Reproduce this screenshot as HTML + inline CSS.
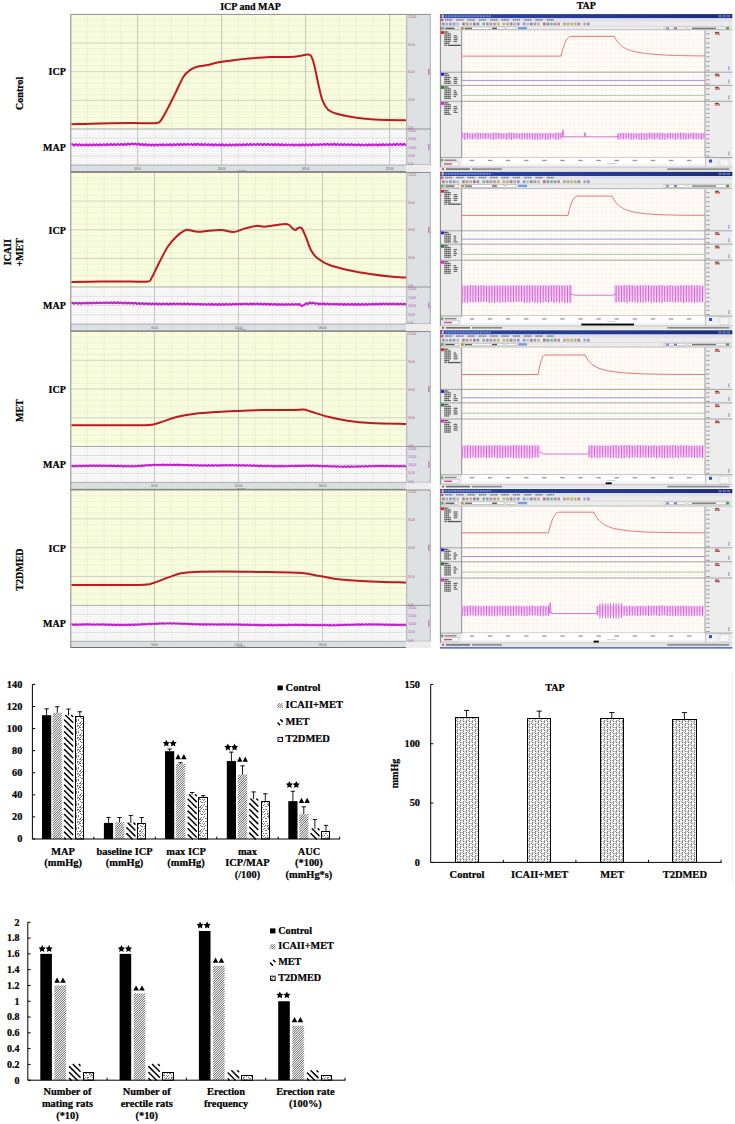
<!DOCTYPE html>
<html><head><meta charset="utf-8"><title>Figure</title>
<style>html,body{margin:0;padding:0;background:#fff;}body{width:735px;height:1124px;overflow:hidden;font-family:"Liberation Serif",serif;}svg{display:block;}</style>
</head><body>
<svg width="735" height="1124" viewBox="0 0 735 1124"><defs><linearGradient id="tgrad" x1="0" y1="0" x2="1" y2="0"><stop offset="0" stop-color="#2b47a6"/><stop offset="0.6" stop-color="#24398f"/><stop offset="1" stop-color="#1c2c78"/></linearGradient><pattern id="dots" width="12" height="12" patternUnits="userSpaceOnUse"><path d="M0 0h1v1h-1zM1 2h1v1h-1zM1 5h1v1h-1zM0 7h1v1h-1zM1 9h1v1h-1zM0 10h1v1h-1zM3 0h1v1h-1zM2 2h1v1h-1zM2 5h1v1h-1zM3 7h1v1h-1zM3 9h1v1h-1zM3 10h1v1h-1zM4 0h1v1h-1zM4 1h1v1h-1zM5 3h1v1h-1zM5 5h1v1h-1zM5 6h1v1h-1zM4 9h1v1h-1zM4 11h1v1h-1zM6 0h1v1h-1zM7 3h1v1h-1zM7 3h1v1h-1zM6 5h1v1h-1zM7 6h1v1h-1zM7 7h1v1h-1zM6 8h1v1h-1zM6 11h1v1h-1zM9 1h1v1h-1zM8 3h1v1h-1zM8 2h1v1h-1zM8 5h1v1h-1zM9 4h1v1h-1zM8 7h1v1h-1zM8 9h1v1h-1zM9 10h1v1h-1zM11 1h1v1h-1zM10 3h1v1h-1zM11 5h1v1h-1zM10 7h1v1h-1zM11 8h1v1h-1zM10 10h1v1h-1z" fill="#7a7a7a"/></pattern><pattern id="squig" width="6" height="6" patternUnits="userSpaceOnUse"><path d="M0.6 0.4 L2.4 2.2 M3.6 3.4 L5.4 5.2 M4.8 0.3 Q3.6 1.4 4.6 2.6 M1.8 3.3 Q0.6 4.4 1.6 5.6" fill="none" stroke="#333" stroke-width="0.95"/></pattern></defs><text x="250.5" y="9.6" font-size="10" text-anchor="middle" fill="#000" font-weight="bold" font-family="Liberation Serif" stroke="#000" stroke-width="0.22">ICP and MAP</text>
<text x="586.3" y="9.4" font-size="10" text-anchor="middle" fill="#000" font-weight="bold" font-family="Liberation Serif" stroke="#000" stroke-width="0.22">TAP</text>
<rect x="70.5" y="14.4" width="335.8" height="114.6" fill="#f7fcdd"/>
<rect x="70.5" y="129" width="335.8" height="36" fill="#fbfbfb"/>
<line x1="70.5" y1="20.13" x2="406.3" y2="20.13" stroke="#ebebd2" stroke-width="0.6"/>
<line x1="70.5" y1="25.86" x2="406.3" y2="25.86" stroke="#ebebd2" stroke-width="0.6"/>
<line x1="70.5" y1="31.59" x2="406.3" y2="31.59" stroke="#ebebd2" stroke-width="0.6"/>
<line x1="70.5" y1="37.32" x2="406.3" y2="37.32" stroke="#ebebd2" stroke-width="0.6"/>
<line x1="70.5" y1="48.78" x2="406.3" y2="48.78" stroke="#ebebd2" stroke-width="0.6"/>
<line x1="70.5" y1="54.51" x2="406.3" y2="54.51" stroke="#ebebd2" stroke-width="0.6"/>
<line x1="70.5" y1="60.24" x2="406.3" y2="60.24" stroke="#ebebd2" stroke-width="0.6"/>
<line x1="70.5" y1="65.97" x2="406.3" y2="65.97" stroke="#ebebd2" stroke-width="0.6"/>
<line x1="70.5" y1="77.43" x2="406.3" y2="77.43" stroke="#ebebd2" stroke-width="0.6"/>
<line x1="70.5" y1="83.16" x2="406.3" y2="83.16" stroke="#ebebd2" stroke-width="0.6"/>
<line x1="70.5" y1="88.89" x2="406.3" y2="88.89" stroke="#ebebd2" stroke-width="0.6"/>
<line x1="70.5" y1="94.62" x2="406.3" y2="94.62" stroke="#ebebd2" stroke-width="0.6"/>
<line x1="70.5" y1="106.08" x2="406.3" y2="106.08" stroke="#ebebd2" stroke-width="0.6"/>
<line x1="70.5" y1="111.81" x2="406.3" y2="111.81" stroke="#ebebd2" stroke-width="0.6"/>
<line x1="70.5" y1="117.54" x2="406.3" y2="117.54" stroke="#ebebd2" stroke-width="0.6"/>
<line x1="70.5" y1="123.27" x2="406.3" y2="123.27" stroke="#ebebd2" stroke-width="0.6"/>
<line x1="87.3" y1="14.4" x2="87.3" y2="165" stroke="#e6e6d4" stroke-width="0.6"/>
<line x1="104.1" y1="14.4" x2="104.1" y2="165" stroke="#e6e6d4" stroke-width="0.6"/>
<line x1="120.9" y1="14.4" x2="120.9" y2="165" stroke="#e6e6d4" stroke-width="0.6"/>
<line x1="137.7" y1="14.4" x2="137.7" y2="165" stroke="#e6e6d4" stroke-width="0.6"/>
<line x1="154.5" y1="14.4" x2="154.5" y2="165" stroke="#e6e6d4" stroke-width="0.6"/>
<line x1="171.3" y1="14.4" x2="171.3" y2="165" stroke="#e6e6d4" stroke-width="0.6"/>
<line x1="188.1" y1="14.4" x2="188.1" y2="165" stroke="#e6e6d4" stroke-width="0.6"/>
<line x1="204.9" y1="14.4" x2="204.9" y2="165" stroke="#e6e6d4" stroke-width="0.6"/>
<line x1="221.7" y1="14.4" x2="221.7" y2="165" stroke="#e6e6d4" stroke-width="0.6"/>
<line x1="238.5" y1="14.4" x2="238.5" y2="165" stroke="#e6e6d4" stroke-width="0.6"/>
<line x1="255.3" y1="14.4" x2="255.3" y2="165" stroke="#e6e6d4" stroke-width="0.6"/>
<line x1="272.1" y1="14.4" x2="272.1" y2="165" stroke="#e6e6d4" stroke-width="0.6"/>
<line x1="288.9" y1="14.4" x2="288.9" y2="165" stroke="#e6e6d4" stroke-width="0.6"/>
<line x1="305.7" y1="14.4" x2="305.7" y2="165" stroke="#e6e6d4" stroke-width="0.6"/>
<line x1="322.5" y1="14.4" x2="322.5" y2="165" stroke="#e6e6d4" stroke-width="0.6"/>
<line x1="339.3" y1="14.4" x2="339.3" y2="165" stroke="#e6e6d4" stroke-width="0.6"/>
<line x1="356.1" y1="14.4" x2="356.1" y2="165" stroke="#e6e6d4" stroke-width="0.6"/>
<line x1="372.9" y1="14.4" x2="372.9" y2="165" stroke="#e6e6d4" stroke-width="0.6"/>
<line x1="389.7" y1="14.4" x2="389.7" y2="165" stroke="#e6e6d4" stroke-width="0.6"/>
<line x1="70.5" y1="131.25" x2="406.3" y2="131.25" stroke="#e6e6e6" stroke-width="0.5"/>
<line x1="70.5" y1="133.5" x2="406.3" y2="133.5" stroke="#e6e6e6" stroke-width="0.5"/>
<line x1="70.5" y1="135.75" x2="406.3" y2="135.75" stroke="#e6e6e6" stroke-width="0.5"/>
<line x1="70.5" y1="138" x2="406.3" y2="138" stroke="#cfcfcf" stroke-width="0.7"/>
<line x1="70.5" y1="140.25" x2="406.3" y2="140.25" stroke="#e6e6e6" stroke-width="0.5"/>
<line x1="70.5" y1="142.5" x2="406.3" y2="142.5" stroke="#e6e6e6" stroke-width="0.5"/>
<line x1="70.5" y1="144.75" x2="406.3" y2="144.75" stroke="#e6e6e6" stroke-width="0.5"/>
<line x1="70.5" y1="147" x2="406.3" y2="147" stroke="#cfcfcf" stroke-width="0.7"/>
<line x1="70.5" y1="149.25" x2="406.3" y2="149.25" stroke="#e6e6e6" stroke-width="0.5"/>
<line x1="70.5" y1="151.5" x2="406.3" y2="151.5" stroke="#e6e6e6" stroke-width="0.5"/>
<line x1="70.5" y1="153.75" x2="406.3" y2="153.75" stroke="#e6e6e6" stroke-width="0.5"/>
<line x1="70.5" y1="156" x2="406.3" y2="156" stroke="#cfcfcf" stroke-width="0.7"/>
<line x1="70.5" y1="158.25" x2="406.3" y2="158.25" stroke="#e6e6e6" stroke-width="0.5"/>
<line x1="70.5" y1="160.5" x2="406.3" y2="160.5" stroke="#e6e6e6" stroke-width="0.5"/>
<line x1="70.5" y1="162.75" x2="406.3" y2="162.75" stroke="#e6e6e6" stroke-width="0.5"/>
<line x1="70.5" y1="43.05" x2="406.3" y2="43.05" stroke="#c8c8bc" stroke-width="0.8"/>
<line x1="70.5" y1="71.7" x2="406.3" y2="71.7" stroke="#c8c8bc" stroke-width="0.8"/>
<line x1="70.5" y1="100.35" x2="406.3" y2="100.35" stroke="#c8c8bc" stroke-width="0.8"/>
<line x1="137.6" y1="14.4" x2="137.6" y2="165" stroke="#bdbdb6" stroke-width="0.8"/>
<line x1="221.6" y1="14.4" x2="221.6" y2="165" stroke="#bdbdb6" stroke-width="0.8"/>
<line x1="305.6" y1="14.4" x2="305.6" y2="165" stroke="#bdbdb6" stroke-width="0.8"/>
<line x1="389.6" y1="14.4" x2="389.6" y2="165" stroke="#bdbdb6" stroke-width="0.8"/>
<line x1="70.5" y1="129" x2="430.7" y2="129" stroke="#a9a9a9" stroke-width="1"/>
<rect x="70.5" y="165" width="335.8" height="6.3" fill="#dadfe2"/>
<line x1="70.5" y1="171.7" x2="406.3" y2="171.7" stroke="#6f6f6f" stroke-width="1"/>
<line x1="70.5" y1="165" x2="406.3" y2="165" stroke="#9a9a9a" stroke-width="0.8"/>
<text x="137.6" y="169.6" font-size="2.6" text-anchor="middle" fill="#555" font-weight="normal" font-family="Liberation Sans">48.00</text>
<text x="221.6" y="169.6" font-size="2.6" text-anchor="middle" fill="#555" font-weight="normal" font-family="Liberation Sans">108.00</text>
<text x="305.6" y="169.6" font-size="2.6" text-anchor="middle" fill="#555" font-weight="normal" font-family="Liberation Sans">168.00</text>
<text x="389.6" y="169.6" font-size="2.6" text-anchor="middle" fill="#555" font-weight="normal" font-family="Liberation Sans">228.00</text>
<text x="241.4" y="171" font-size="2.2" text-anchor="middle" fill="#555" font-weight="normal" font-family="Liberation Sans">seconds</text>
<rect x="406.3" y="14.4" width="24.4" height="150.6" fill="#dde1e4"/>
<line x1="406.7" y1="14.4" x2="406.7" y2="165" stroke="#9e9e9e" stroke-width="0.8"/>
<line x1="430.3" y1="14.4" x2="430.3" y2="165" stroke="#9e9e9e" stroke-width="0.8"/>
<line x1="406.3" y1="129" x2="430.7" y2="129" stroke="#9e9e9e" stroke-width="1.2"/>
<line x1="406.3" y1="165" x2="430.7" y2="165" stroke="#9e9e9e" stroke-width="1"/>
<rect x="406.3" y="165" width="24.4" height="7.3" fill="#ededed"/>
<text x="408.3" y="17.6" font-size="2.6" text-anchor="start" fill="#b05050" font-weight="normal" font-family="Liberation Sans">120.00</text>
<text x="408.3" y="45.5" font-size="2.6" text-anchor="start" fill="#b05050" font-weight="normal" font-family="Liberation Sans">90.00</text>
<text x="408.3" y="73.4" font-size="2.6" text-anchor="start" fill="#b05050" font-weight="normal" font-family="Liberation Sans">60.00</text>
<text x="408.3" y="101.3" font-size="2.6" text-anchor="start" fill="#b05050" font-weight="normal" font-family="Liberation Sans">30.00</text>
<text x="408.3" y="129.2" font-size="2.6" text-anchor="start" fill="#b05050" font-weight="normal" font-family="Liberation Sans">0.00</text>
<text x="408.3" y="132.2" font-size="2.6" text-anchor="start" fill="#b040c0" font-weight="normal" font-family="Liberation Sans">200.00</text>
<text x="408.3" y="140.45" font-size="2.6" text-anchor="start" fill="#b040c0" font-weight="normal" font-family="Liberation Sans">150.00</text>
<text x="408.3" y="148.7" font-size="2.6" text-anchor="start" fill="#b040c0" font-weight="normal" font-family="Liberation Sans">100.00</text>
<text x="408.3" y="156.95" font-size="2.6" text-anchor="start" fill="#b040c0" font-weight="normal" font-family="Liberation Sans">50.00</text>
<text x="408.3" y="165.2" font-size="2.6" text-anchor="start" fill="#b040c0" font-weight="normal" font-family="Liberation Sans">0.00</text>
<rect x="428.2" y="68.7" width="1.2" height="6" fill="#c87070"/>
<rect x="428.2" y="144" width="1.2" height="6" fill="#c070d0"/>
<line x1="70.5" y1="14.4" x2="430.7" y2="14.4" stroke="#8f8f8f" stroke-width="1"/>
<line x1="70.8" y1="14.4" x2="70.8" y2="172.3" stroke="#8a8a8a" stroke-width="1"/>
<path d="M71.5 144.75 L72.2 144.1 L72.9 144.42 L73.6 144.96 L74.3 145.39 L75 144.83 L75.7 144.14 L76.4 144.45 L77.1 145.03 L77.8 145.43 L78.5 144.79 L79.2 144.21 L79.9 144.49 L80.6 145.33 L81.3 145.38 L82 144.87 L82.7 144.41 L83.4 144.69 L84.1 145.29 L84.8 145.49 L85.5 145.11 L86.2 144.25 L86.9 144.69 L87.6 145.23 L88.3 145.42 L89 144.85 L89.7 144.32 L90.4 144.68 L91.1 145.19 L91.8 145.53 L92.5 144.97 L93.2 144.31 L93.9 144.57 L94.6 145.12 L95.3 145.32 L96 144.78 L96.7 144.35 L97.4 144.49 L98.1 145.15 L98.8 145.42 L99.5 144.78 L100.2 144.16 L100.9 144.54 L101.6 145.2 L102.3 145.24 L103 144.73 L103.7 144.15 L104.4 144.49 L105.1 145.14 L105.8 145.17 L106.5 144.77 L107.2 143.95 L107.9 144.29 L108.6 145.08 L109.3 145.05 L110 144.53 L110.7 143.85 L111.4 144.3 L112.1 145.02 L112.8 145.11 L113.5 144.58 L114.2 143.87 L114.9 144.26 L115.6 144.92 L116.3 145.05 L117 144.4 L117.7 143.98 L118.4 144.31 L119.1 144.86 L119.8 145.05 L120.5 144.24 L121.2 143.92 L121.9 144.21 L122.6 145.01 L123.3 145.07 L124 144.28 L124.7 143.8 L125.4 144.19 L126.1 144.68 L126.8 144.9 L127.5 144.16 L128.2 143.61 L128.9 143.88 L129.6 144.75 L130.3 144.61 L131 143.96 L131.7 143.47 L132.4 143.91 L133.1 144.33 L133.8 144.51 L134.5 143.89 L135.2 143.52 L135.9 143.88 L136.6 144.63 L137.3 144.58 L138 144.04 L138.7 143.63 L139.4 144.22 L140.1 145.01 L140.8 144.9 L141.5 144.32 L142.2 143.94 L142.9 144.36 L143.6 145.16 L144.3 145.28 L145 144.56 L145.7 144.06 L146.4 144.58 L147.1 145.27 L147.8 145.38 L148.5 144.85 L149.2 144.35 L149.9 144.69 L150.6 145.41 L151.3 145.47 L152 144.62 L152.7 144.45 L153.4 144.82 L154.1 145.53 L154.8 145.53 L155.5 144.74 L156.2 144.32 L156.9 144.64 L157.6 145.47 L158.3 145.3 L159 144.63 L159.7 144.26 L160.4 144.66 L161.1 145.38 L161.8 145.27 L162.5 144.58 L163.2 144.21 L163.9 144.61 L164.6 145.35 L165.3 145.22 L166 144.78 L166.7 144.3 L167.4 144.58 L168.1 145.26 L168.8 145.25 L169.5 144.55 L170.2 144.08 L170.9 144.73 L171.6 145.42 L172.3 145.2 L173 144.51 L173.7 144 L174.4 144.44 L175.1 145.15 L175.8 145.06 L176.5 144.52 L177.2 143.94 L177.9 144.35 L178.6 145.26 L179.3 145.05 L180 144.23 L180.7 143.98 L181.4 144.29 L182.1 145.07 L182.8 145.12 L183.5 144.38 L184.2 143.97 L184.9 144.31 L185.6 144.98 L186.3 144.82 L187 144.3 L187.7 143.88 L188.4 144.44 L189.1 144.94 L189.8 144.8 L190.5 144.28 L191.2 144 L191.9 144.46 L192.6 145.08 L193.3 144.97 L194 144.25 L194.7 143.78 L195.4 144.38 L196.1 144.96 L196.8 144.75 L197.5 144.05 L198.2 143.83 L198.9 144.35 L199.6 145.11 L200.3 145.06 L201 144.22 L201.7 144.08 L202.4 144.64 L203.1 145.25 L203.8 144.94 L204.5 144.2 L205.2 143.94 L205.9 144.48 L206.6 145.1 L207.3 145.08 L208 144.47 L208.7 144.2 L209.4 144.65 L210.1 145.32 L210.8 145.2 L211.5 144.3 L212.2 144.23 L212.9 144.87 L213.6 145.44 L214.3 145.26 L215 144.48 L215.7 144.16 L216.4 144.91 L217.1 145.37 L217.8 145.33 L218.5 144.68 L219.2 144.29 L219.9 144.86 L220.6 145.61 L221.3 145.35 L222 144.48 L222.7 144.25 L223.4 144.83 L224.1 145.63 L224.8 145.39 L225.5 144.49 L226.2 144.48 L226.9 145.1 L227.6 145.57 L228.3 145.25 L229 144.6 L229.7 144.27 L230.4 144.81 L231.1 145.65 L231.8 145.31 L232.5 144.56 L233.2 144.48 L233.9 144.91 L234.6 145.58 L235.3 145.31 L236 144.4 L236.7 144.23 L237.4 144.82 L238.1 145.34 L238.8 145.16 L239.5 144.35 L240.2 144.21 L240.9 144.71 L241.6 145.47 L242.3 145.01 L243 144.32 L243.7 144.19 L244.4 144.88 L245.1 145.25 L245.8 145.09 L246.5 144.25 L247.2 144.1 L247.9 144.7 L248.6 145.05 L249.3 144.87 L250 144.07 L250.7 143.87 L251.4 144.72 L252.1 145.03 L252.8 144.8 L253.5 144.17 L254.2 143.99 L254.9 144.53 L255.6 145.09 L256.3 144.77 L257 144.13 L257.7 143.82 L258.4 144.58 L259.1 144.98 L259.8 144.65 L260.5 144.1 L261.2 143.92 L261.9 144.58 L262.6 145.12 L263.3 144.83 L264 144 L264.7 143.97 L265.4 144.58 L266.1 145.07 L266.8 144.78 L267.5 144.02 L268.2 143.98 L268.9 144.62 L269.6 145.24 L270.3 144.82 L271 144.19 L271.7 144.16 L272.4 144.62 L273.1 145.18 L273.8 144.94 L274.5 144.24 L275.2 143.99 L275.9 144.66 L276.6 145.22 L277.3 144.75 L278 144.13 L278.7 144.06 L279.4 144.91 L280.1 145.4 L280.8 145.06 L281.5 144.18 L282.2 144.33 L282.9 145 L283.6 145.29 L284.3 145.12 L285 144.49 L285.7 144.26 L286.4 145.16 L287.1 145.43 L287.8 145.06 L288.5 144.55 L289.2 144.51 L289.9 144.99 L290.6 145.49 L291.3 145.11 L292 144.39 L292.7 144.36 L293.4 145.08 L294.1 145.61 L294.8 144.97 L295.5 144.47 L296.2 144.46 L296.9 145.01 L297.6 145.5 L298.3 145.15 L299 144.45 L299.7 144.34 L300.4 145.3 L301.1 145.62 L301.8 145.22 L302.5 144.29 L303.2 144.38 L303.9 144.99 L304.6 145.57 L305.3 144.95 L306 144.24 L306.7 144.38 L307.4 145.2 L308.1 145.52 L308.8 144.88 L309.5 144.18 L310.2 144.46 L310.9 145.04 L311.6 145.41 L312.3 144.74 L313 144.07 L313.7 144.33 L314.4 144.92 L315.1 145.15 L315.8 144.91 L316.5 144.16 L317.2 144.29 L317.9 144.75 L318.6 145.3 L319.3 144.56 L320 144.15 L320.7 144.12 L321.4 144.77 L322.1 145.14 L322.8 144.75 L323.5 143.91 L324.2 143.97 L324.9 144.78 L325.6 145 L326.3 144.44 L327 143.83 L327.7 143.92 L328.4 144.66 L329.1 144.99 L329.8 144.47 L330.5 143.98 L331.2 143.98 L331.9 144.75 L332.6 144.94 L333.3 144.47 L334 143.76 L334.7 143.99 L335.4 144.62 L336.1 145.13 L336.8 144.54 L337.5 143.84 L338.2 144.09 L338.9 144.95 L339.6 144.98 L340.3 144.66 L341 143.96 L341.7 144.16 L342.4 144.98 L343.1 145.12 L343.8 144.62 L344.5 144.1 L345.2 144.38 L345.9 144.91 L346.6 145.32 L347.3 144.74 L348 144.15 L348.7 144.3 L349.4 145 L350.1 145.16 L350.8 144.64 L351.5 144.06 L352.2 144.48 L352.9 145.06 L353.6 145.27 L354.3 144.69 L355 144.36 L355.7 144.6 L356.4 145.26 L357.1 145.37 L357.8 144.79 L358.5 144.25 L359.2 144.54 L359.9 145.17 L360.6 145.46 L361.3 144.83 L362 144.49 L362.7 144.74 L363.4 145.33 L364.1 145.43 L364.8 145.06 L365.5 144.31 L366.2 144.58 L366.9 145.18 L367.6 145.47 L368.3 144.9 L369 144.36 L369.7 144.53 L370.4 145.32 L371.1 145.34 L371.8 144.8 L372.5 144.21 L373.2 144.57 L373.9 145.15 L374.6 145.29 L375.3 144.76 L376 144.2 L376.7 144.58 L377.4 145.25 L378.1 145.45 L378.8 144.79 L379.5 144.27 L380.2 144.61 L380.9 145.15 L381.6 145.24 L382.3 144.8 L383 144.03 L383.7 144.49 L384.4 145.15 L385.1 145.08 L385.8 144.67 L386.5 144.17 L387.2 144.39 L387.9 145.11 L388.6 145.23 L389.3 144.38 L390 143.98 L390.7 144.29 L391.4 145.08 L392.1 145.15 L392.8 144.51 L393.5 143.94 L394.2 144.36 L394.9 144.99 L395.6 145.07 L396.3 144.28 L397 143.73 L397.7 144.11 L398.4 144.86 L399.1 144.86 L399.8 144.43 L400.5 143.87 L401.2 144.25 L401.9 144.94 L402.6 145.02 L403.3 144.31 L404 143.71 L404.7 144.32 L405.4 145 L406.1 144.98" stroke="#c41cd0" stroke-width="2" fill="none" stroke-linejoin="round"/>
<path d="M71.5 124.2C76.25 124.07 90.25 123.58 100 123.4C109.75 123.22 121.67 123.13 130 123.1C138.33 123.07 145.62 123.22 150 123.2C154.38 123.18 154.57 123.35 156.3 123C158.03 122.65 158.58 123.37 160.4 121.1C162.22 118.83 164.7 114.07 167.2 109.4C169.7 104.73 172.68 98.55 175.4 93.1C178.12 87.65 181.02 80.57 183.5 76.7C185.98 72.83 188.03 71.57 190.3 69.9C192.57 68.23 194.15 67.52 197.1 66.7C200.05 65.88 204.37 65.73 208 65C211.63 64.27 214.37 63.15 218.9 62.3C223.43 61.45 230.22 60.53 235.2 59.9C240.18 59.27 242.9 58.97 248.8 58.5C254.7 58.03 263.78 57.37 270.6 57.1C277.42 56.83 284.72 57.12 289.7 56.9C294.68 56.68 297.57 56.22 300.5 55.8C303.43 55.38 305.57 54.4 307.3 54.4C309.03 54.4 309.77 54.12 310.9 55.8C312.03 57.48 312.88 59.88 314.1 64.5C315.32 69.12 316.83 77.6 318.2 83.5C319.57 89.4 320.7 95.58 322.3 99.9C323.9 104.22 325.68 107.17 327.8 109.4C329.92 111.63 331.92 112.22 335 113.3C338.08 114.38 341.68 115.05 346.3 115.9C350.92 116.75 357.25 117.77 362.7 118.4C368.15 119.03 371.78 119.38 379 119.7C386.22 120.02 401.5 120.2 406 120.3" stroke="#c01a1e" stroke-width="2" fill="none"/>
<text x="65.8" y="75" font-size="10" text-anchor="end" fill="#000" font-weight="bold" font-family="Liberation Serif" stroke="#000" stroke-width="0.22">ICP</text>
<text x="65.8" y="150.8" font-size="10" text-anchor="end" fill="#000" font-weight="bold" font-family="Liberation Serif" stroke="#000" stroke-width="0.22">MAP</text>
<text x="23" y="93.3" font-size="10" text-anchor="middle" fill="#000" font-weight="bold" font-family="Liberation Serif" transform="rotate(-90 23 93.3)" stroke="#000" stroke-width="0.22">Control</text>
<rect x="70.5" y="172.5" width="335.8" height="114.5" fill="#f7fcdd"/>
<rect x="70.5" y="287" width="335.8" height="37" fill="#fbfbfb"/>
<line x1="70.5" y1="178.22" x2="406.3" y2="178.22" stroke="#ebebd2" stroke-width="0.6"/>
<line x1="70.5" y1="183.95" x2="406.3" y2="183.95" stroke="#ebebd2" stroke-width="0.6"/>
<line x1="70.5" y1="189.68" x2="406.3" y2="189.68" stroke="#ebebd2" stroke-width="0.6"/>
<line x1="70.5" y1="195.4" x2="406.3" y2="195.4" stroke="#ebebd2" stroke-width="0.6"/>
<line x1="70.5" y1="206.85" x2="406.3" y2="206.85" stroke="#ebebd2" stroke-width="0.6"/>
<line x1="70.5" y1="212.57" x2="406.3" y2="212.57" stroke="#ebebd2" stroke-width="0.6"/>
<line x1="70.5" y1="218.3" x2="406.3" y2="218.3" stroke="#ebebd2" stroke-width="0.6"/>
<line x1="70.5" y1="224.03" x2="406.3" y2="224.03" stroke="#ebebd2" stroke-width="0.6"/>
<line x1="70.5" y1="235.47" x2="406.3" y2="235.47" stroke="#ebebd2" stroke-width="0.6"/>
<line x1="70.5" y1="241.2" x2="406.3" y2="241.2" stroke="#ebebd2" stroke-width="0.6"/>
<line x1="70.5" y1="246.93" x2="406.3" y2="246.93" stroke="#ebebd2" stroke-width="0.6"/>
<line x1="70.5" y1="252.65" x2="406.3" y2="252.65" stroke="#ebebd2" stroke-width="0.6"/>
<line x1="70.5" y1="264.1" x2="406.3" y2="264.1" stroke="#ebebd2" stroke-width="0.6"/>
<line x1="70.5" y1="269.82" x2="406.3" y2="269.82" stroke="#ebebd2" stroke-width="0.6"/>
<line x1="70.5" y1="275.55" x2="406.3" y2="275.55" stroke="#ebebd2" stroke-width="0.6"/>
<line x1="70.5" y1="281.27" x2="406.3" y2="281.27" stroke="#ebebd2" stroke-width="0.6"/>
<line x1="87.3" y1="172.5" x2="87.3" y2="324" stroke="#e6e6d4" stroke-width="0.6"/>
<line x1="104.1" y1="172.5" x2="104.1" y2="324" stroke="#e6e6d4" stroke-width="0.6"/>
<line x1="120.9" y1="172.5" x2="120.9" y2="324" stroke="#e6e6d4" stroke-width="0.6"/>
<line x1="137.7" y1="172.5" x2="137.7" y2="324" stroke="#e6e6d4" stroke-width="0.6"/>
<line x1="154.5" y1="172.5" x2="154.5" y2="324" stroke="#e6e6d4" stroke-width="0.6"/>
<line x1="171.3" y1="172.5" x2="171.3" y2="324" stroke="#e6e6d4" stroke-width="0.6"/>
<line x1="188.1" y1="172.5" x2="188.1" y2="324" stroke="#e6e6d4" stroke-width="0.6"/>
<line x1="204.9" y1="172.5" x2="204.9" y2="324" stroke="#e6e6d4" stroke-width="0.6"/>
<line x1="221.7" y1="172.5" x2="221.7" y2="324" stroke="#e6e6d4" stroke-width="0.6"/>
<line x1="238.5" y1="172.5" x2="238.5" y2="324" stroke="#e6e6d4" stroke-width="0.6"/>
<line x1="255.3" y1="172.5" x2="255.3" y2="324" stroke="#e6e6d4" stroke-width="0.6"/>
<line x1="272.1" y1="172.5" x2="272.1" y2="324" stroke="#e6e6d4" stroke-width="0.6"/>
<line x1="288.9" y1="172.5" x2="288.9" y2="324" stroke="#e6e6d4" stroke-width="0.6"/>
<line x1="305.7" y1="172.5" x2="305.7" y2="324" stroke="#e6e6d4" stroke-width="0.6"/>
<line x1="322.5" y1="172.5" x2="322.5" y2="324" stroke="#e6e6d4" stroke-width="0.6"/>
<line x1="339.3" y1="172.5" x2="339.3" y2="324" stroke="#e6e6d4" stroke-width="0.6"/>
<line x1="356.1" y1="172.5" x2="356.1" y2="324" stroke="#e6e6d4" stroke-width="0.6"/>
<line x1="372.9" y1="172.5" x2="372.9" y2="324" stroke="#e6e6d4" stroke-width="0.6"/>
<line x1="389.7" y1="172.5" x2="389.7" y2="324" stroke="#e6e6d4" stroke-width="0.6"/>
<line x1="70.5" y1="289.31" x2="406.3" y2="289.31" stroke="#e6e6e6" stroke-width="0.5"/>
<line x1="70.5" y1="291.62" x2="406.3" y2="291.62" stroke="#e6e6e6" stroke-width="0.5"/>
<line x1="70.5" y1="293.94" x2="406.3" y2="293.94" stroke="#e6e6e6" stroke-width="0.5"/>
<line x1="70.5" y1="296.25" x2="406.3" y2="296.25" stroke="#cfcfcf" stroke-width="0.7"/>
<line x1="70.5" y1="298.56" x2="406.3" y2="298.56" stroke="#e6e6e6" stroke-width="0.5"/>
<line x1="70.5" y1="300.88" x2="406.3" y2="300.88" stroke="#e6e6e6" stroke-width="0.5"/>
<line x1="70.5" y1="303.19" x2="406.3" y2="303.19" stroke="#e6e6e6" stroke-width="0.5"/>
<line x1="70.5" y1="305.5" x2="406.3" y2="305.5" stroke="#cfcfcf" stroke-width="0.7"/>
<line x1="70.5" y1="307.81" x2="406.3" y2="307.81" stroke="#e6e6e6" stroke-width="0.5"/>
<line x1="70.5" y1="310.12" x2="406.3" y2="310.12" stroke="#e6e6e6" stroke-width="0.5"/>
<line x1="70.5" y1="312.44" x2="406.3" y2="312.44" stroke="#e6e6e6" stroke-width="0.5"/>
<line x1="70.5" y1="314.75" x2="406.3" y2="314.75" stroke="#cfcfcf" stroke-width="0.7"/>
<line x1="70.5" y1="317.06" x2="406.3" y2="317.06" stroke="#e6e6e6" stroke-width="0.5"/>
<line x1="70.5" y1="319.38" x2="406.3" y2="319.38" stroke="#e6e6e6" stroke-width="0.5"/>
<line x1="70.5" y1="321.69" x2="406.3" y2="321.69" stroke="#e6e6e6" stroke-width="0.5"/>
<line x1="70.5" y1="201.12" x2="406.3" y2="201.12" stroke="#c8c8bc" stroke-width="0.8"/>
<line x1="70.5" y1="229.75" x2="406.3" y2="229.75" stroke="#c8c8bc" stroke-width="0.8"/>
<line x1="70.5" y1="258.38" x2="406.3" y2="258.38" stroke="#c8c8bc" stroke-width="0.8"/>
<line x1="154.5" y1="172.5" x2="154.5" y2="324" stroke="#bdbdb6" stroke-width="0.8"/>
<line x1="238.5" y1="172.5" x2="238.5" y2="324" stroke="#bdbdb6" stroke-width="0.8"/>
<line x1="322.5" y1="172.5" x2="322.5" y2="324" stroke="#bdbdb6" stroke-width="0.8"/>
<line x1="70.5" y1="287" x2="430.7" y2="287" stroke="#a9a9a9" stroke-width="1"/>
<rect x="70.5" y="324" width="335.8" height="6.5" fill="#dadfe2"/>
<line x1="70.5" y1="330.9" x2="406.3" y2="330.9" stroke="#6f6f6f" stroke-width="1"/>
<line x1="70.5" y1="324" x2="406.3" y2="324" stroke="#9a9a9a" stroke-width="0.8"/>
<text x="154.5" y="328.6" font-size="2.6" text-anchor="middle" fill="#555" font-weight="normal" font-family="Liberation Sans">60.00</text>
<text x="238.5" y="328.6" font-size="2.6" text-anchor="middle" fill="#555" font-weight="normal" font-family="Liberation Sans">120.00</text>
<text x="322.5" y="328.6" font-size="2.6" text-anchor="middle" fill="#555" font-weight="normal" font-family="Liberation Sans">180.00</text>
<text x="241.4" y="330.2" font-size="2.2" text-anchor="middle" fill="#555" font-weight="normal" font-family="Liberation Sans">seconds</text>
<rect x="406.3" y="172.5" width="24.4" height="151.5" fill="#dde1e4"/>
<line x1="406.7" y1="172.5" x2="406.7" y2="324" stroke="#9e9e9e" stroke-width="0.8"/>
<line x1="430.3" y1="172.5" x2="430.3" y2="324" stroke="#9e9e9e" stroke-width="0.8"/>
<line x1="406.3" y1="287" x2="430.7" y2="287" stroke="#9e9e9e" stroke-width="1.2"/>
<line x1="406.3" y1="324" x2="430.7" y2="324" stroke="#9e9e9e" stroke-width="1"/>
<rect x="406.3" y="324" width="24.4" height="7.5" fill="#ededed"/>
<text x="408.3" y="175.7" font-size="2.6" text-anchor="start" fill="#b05050" font-weight="normal" font-family="Liberation Sans">120.00</text>
<text x="408.3" y="203.57" font-size="2.6" text-anchor="start" fill="#b05050" font-weight="normal" font-family="Liberation Sans">90.00</text>
<text x="408.3" y="231.45" font-size="2.6" text-anchor="start" fill="#b05050" font-weight="normal" font-family="Liberation Sans">60.00</text>
<text x="408.3" y="259.32" font-size="2.6" text-anchor="start" fill="#b05050" font-weight="normal" font-family="Liberation Sans">30.00</text>
<text x="408.3" y="287.2" font-size="2.6" text-anchor="start" fill="#b05050" font-weight="normal" font-family="Liberation Sans">0.00</text>
<text x="408.3" y="290.2" font-size="2.6" text-anchor="start" fill="#b040c0" font-weight="normal" font-family="Liberation Sans">200.00</text>
<text x="408.3" y="298.7" font-size="2.6" text-anchor="start" fill="#b040c0" font-weight="normal" font-family="Liberation Sans">150.00</text>
<text x="408.3" y="307.2" font-size="2.6" text-anchor="start" fill="#b040c0" font-weight="normal" font-family="Liberation Sans">100.00</text>
<text x="408.3" y="315.7" font-size="2.6" text-anchor="start" fill="#b040c0" font-weight="normal" font-family="Liberation Sans">50.00</text>
<text x="408.3" y="324.2" font-size="2.6" text-anchor="start" fill="#b040c0" font-weight="normal" font-family="Liberation Sans">0.00</text>
<rect x="428.2" y="226.75" width="1.2" height="6" fill="#c87070"/>
<rect x="428.2" y="302.5" width="1.2" height="6" fill="#c070d0"/>
<line x1="70.5" y1="172.5" x2="430.7" y2="172.5" stroke="#8f8f8f" stroke-width="1"/>
<line x1="70.8" y1="172.5" x2="70.8" y2="331.5" stroke="#8a8a8a" stroke-width="1"/>
<path d="M71.5 303.29 L72.2 302.82 L72.9 302.78 L73.6 303.57 L74.3 303.66 L75 303.17 L75.7 302.72 L76.4 302.99 L77.1 303.42 L77.8 303.81 L78.5 303.42 L79.2 302.78 L79.9 302.88 L80.6 303.49 L81.3 303.76 L82 303.32 L82.7 302.78 L83.4 302.93 L84.1 303.34 L84.8 303.55 L85.5 303.11 L86.2 302.76 L86.9 302.78 L87.6 303.43 L88.3 303.45 L89 302.98 L89.7 302.54 L90.4 302.82 L91.1 303.4 L91.8 303.57 L92.5 302.97 L93.2 302.54 L93.9 302.69 L94.6 303.26 L95.3 303.32 L96 303.06 L96.7 302.36 L97.4 302.78 L98.1 303.34 L98.8 303.22 L99.5 302.85 L100.2 302.48 L100.9 302.71 L101.6 303.13 L102.3 303.23 L103 302.71 L103.7 302.46 L104.4 302.44 L105.1 303.13 L105.8 303.14 L106.5 302.75 L107.2 302.42 L107.9 302.39 L108.6 303.18 L109.3 303.23 L110 302.84 L110.7 302.33 L111.4 302.42 L112.1 303.21 L112.8 303.22 L113.5 302.58 L114.2 302.14 L114.9 302.53 L115.6 303.11 L116.3 303.19 L117 302.64 L117.7 302.28 L118.4 302.53 L119.1 303.28 L119.8 303.15 L120.5 302.87 L121.2 302.49 L121.9 302.54 L122.6 303.39 L123.3 303.44 L124 302.99 L124.7 302.41 L125.4 302.72 L126.1 303.33 L126.8 303.62 L127.5 302.99 L128.2 302.53 L128.9 302.85 L129.6 303.4 L130.3 303.44 L131 302.95 L131.7 302.79 L132.4 302.93 L133.1 303.73 L133.8 303.62 L134.5 303.11 L135.2 302.81 L135.9 303.03 L136.6 303.69 L137.3 303.95 L138 303.42 L138.7 303.03 L139.4 303.3 L140.1 303.99 L140.8 304.07 L141.5 303.44 L142.2 303.13 L142.9 303.26 L143.6 304.07 L144.3 304.05 L145 303.62 L145.7 303.24 L146.4 303.47 L147.1 303.99 L147.8 304.31 L148.5 303.54 L149.2 303.3 L149.9 303.61 L150.6 304.18 L151.3 304.36 L152 303.89 L152.7 303.33 L153.4 303.8 L154.1 304.27 L154.8 304.38 L155.5 303.78 L156.2 303.37 L156.9 303.72 L157.6 304.31 L158.3 304.52 L159 303.85 L159.7 303.42 L160.4 303.98 L161.1 304.57 L161.8 304.4 L162.5 303.74 L163.2 303.42 L163.9 303.74 L164.6 304.37 L165.3 304.28 L166 303.75 L166.7 303.42 L167.4 303.88 L168.1 304.52 L168.8 304.44 L169.5 303.77 L170.2 303.44 L170.9 303.84 L171.6 304.34 L172.3 304.29 L173 303.63 L173.7 303.38 L174.4 303.96 L175.1 304.25 L175.8 304.31 L176.5 303.77 L177.2 303.54 L177.9 303.73 L178.6 304.28 L179.3 304.22 L180 303.69 L180.7 303.41 L181.4 303.96 L182.1 304.47 L182.8 304.41 L183.5 303.59 L184.2 303.31 L184.9 303.92 L185.6 304.52 L186.3 304.32 L187 303.78 L187.7 303.34 L188.4 303.88 L189.1 304.58 L189.8 304.47 L190.5 303.91 L191.2 303.69 L191.9 303.9 L192.6 304.4 L193.3 304.33 L194 303.87 L194.7 303.68 L195.4 304.19 L196.1 304.66 L196.8 304.55 L197.5 304.02 L198.2 303.69 L198.9 304.17 L199.6 304.54 L200.3 304.66 L201 303.93 L201.7 303.91 L202.4 304.28 L203.1 304.7 L203.8 304.54 L204.5 304 L205.2 303.9 L205.9 304.37 L206.6 304.71 L207.3 304.58 L208 304.14 L208.7 303.94 L209.4 304.34 L210.1 304.8 L210.8 304.77 L211.5 304.02 L212.2 303.89 L212.9 304.4 L213.6 305.05 L214.3 304.8 L215 304.29 L215.7 303.96 L216.4 304.35 L217.1 304.84 L217.8 304.89 L218.5 304.22 L219.2 303.9 L219.9 304.28 L220.6 304.9 L221.3 304.77 L222 304.1 L222.7 303.85 L223.4 304.44 L224.1 304.99 L224.8 304.58 L225.5 303.92 L226.2 303.83 L226.9 304.32 L227.6 304.85 L228.3 304.5 L229 304.08 L229.7 303.88 L230.4 304.28 L231.1 304.64 L231.8 304.65 L232.5 303.85 L233.2 303.83 L233.9 304.13 L234.6 304.57 L235.3 304.5 L236 303.76 L236.7 303.79 L237.4 304.14 L238.1 304.48 L238.8 304.26 L239.5 303.72 L240.2 303.64 L240.9 304.22 L241.6 304.41 L242.3 304.24 L243 303.59 L243.7 303.68 L244.4 303.93 L245.1 304.34 L245.8 304.09 L246.5 303.6 L247.2 303.63 L247.9 304.13 L248.6 304.51 L249.3 304.34 L250 303.74 L250.7 303.45 L251.4 303.92 L252.1 304.57 L252.8 304.26 L253.5 303.47 L254.2 303.56 L254.9 304 L255.6 304.43 L256.3 304.16 L257 303.54 L257.7 303.4 L258.4 304.02 L259.1 304.47 L259.8 304.39 L260.5 303.57 L261.2 303.75 L261.9 304.07 L262.6 304.53 L263.3 304.4 L264 303.84 L264.7 303.67 L265.4 304.1 L266.1 304.64 L266.8 304.34 L267.5 303.94 L268.2 303.68 L268.9 304.28 L269.6 304.85 L270.3 304.31 L271 303.86 L271.7 303.94 L272.4 304.49 L273.1 304.67 L273.8 304.37 L274.5 303.82 L275.2 304.05 L275.9 304.41 L276.6 304.95 L277.3 304.69 L278 303.96 L278.7 303.92 L279.4 304.68 L280.1 304.95 L280.8 304.53 L281.5 304.11 L282.2 303.97 L282.9 304.51 L283.6 304.8 L284.3 304.69 L285 304.18 L285.7 304.08 L286.4 304.73 L287.1 304.8 L287.8 304.52 L288.5 304.03 L289.2 304.17 L289.9 304.72 L290.6 304.89 L291.3 304.49 L292 303.98 L292.7 304 L293.4 304.68 L294.1 304.78 L294.8 304.6 L295.5 304.01 L296.2 304.04 L296.9 304.58 L297.6 304.84 L298.3 304.39 L299 303.86 L299.7 304.02 L300.4 305.06 L301.1 305.74 L301.8 305.96 L302.5 305.73 L303.2 305.19 L303.9 304.99 L304.6 304.65 L305.3 304.03 L306 303.19 L306.7 303.29 L307.4 303.72 L308.1 303.94 L308.8 303.24 L309.5 302.57 L310.2 302.57 L310.9 303.24 L311.6 303.6 L312.3 303.15 L313 302.6 L313.7 302.79 L314.4 303.51 L315.1 303.9 L315.8 303.61 L316.5 303.2 L317.2 303.3 L317.9 303.79 L318.6 304.35 L319.3 303.83 L320 303.42 L320.7 303.48 L321.4 304.2 L322.1 304.32 L322.8 303.94 L323.5 303.42 L324.2 303.5 L324.9 304.31 L325.6 304.49 L326.3 304 L327 303.51 L327.7 303.8 L328.4 304.25 L329.1 304.43 L329.8 304.19 L330.5 303.64 L331.2 303.87 L331.9 304.2 L332.6 304.57 L333.3 304.25 L334 303.76 L334.7 303.92 L335.4 304.26 L336.1 304.58 L336.8 304.1 L337.5 303.64 L338.2 304.02 L338.9 304.51 L339.6 304.85 L340.3 304.25 L341 303.91 L341.7 303.95 L342.4 304.49 L343.1 304.88 L343.8 304.49 L344.5 303.75 L345.2 304.07 L345.9 304.68 L346.6 304.77 L347.3 304.37 L348 303.82 L348.7 304.01 L349.4 304.62 L350.1 304.93 L350.8 304.48 L351.5 303.87 L352.2 303.99 L352.9 304.68 L353.6 304.98 L354.3 304.36 L355 303.92 L355.7 304.07 L356.4 304.83 L357.1 304.94 L357.8 304.31 L358.5 303.84 L359.2 304.12 L359.9 304.75 L360.6 304.94 L361.3 304.28 L362 303.83 L362.7 304.18 L363.4 304.67 L364.1 304.78 L364.8 304.28 L365.5 304.01 L366.2 304.01 L366.9 304.66 L367.6 304.74 L368.3 304.24 L369 303.91 L369.7 304.15 L370.4 304.54 L371.1 304.61 L371.8 304.25 L372.5 303.63 L373.2 303.79 L373.9 304.63 L374.6 304.6 L375.3 304.19 L376 303.61 L376.7 303.98 L377.4 304.42 L378.1 304.44 L378.8 303.87 L379.5 303.58 L380.2 303.85 L380.9 304.5 L381.6 304.35 L382.3 303.98 L383 303.47 L383.7 303.76 L384.4 304.23 L385.1 304.36 L385.8 303.9 L386.5 303.6 L387.2 303.61 L387.9 304.31 L388.6 304.49 L389.3 304.01 L390 303.36 L390.7 303.62 L391.4 304.44 L392.1 304.54 L392.8 303.86 L393.5 303.33 L394.2 303.88 L394.9 304.3 L395.6 304.54 L396.3 303.92 L397 303.59 L397.7 303.7 L398.4 304.47 L399.1 304.37 L399.8 303.9 L400.5 303.65 L401.2 303.96 L401.9 304.36 L402.6 304.43 L403.3 303.96 L404 303.62 L404.7 303.91 L405.4 304.42 L406.1 304.51" stroke="#c41cd0" stroke-width="2" fill="none" stroke-linejoin="round"/>
<path d="M71.5 281.9C76.25 281.85 90.25 281.65 100 281.6C109.75 281.55 122.05 281.6 130 281.6C137.95 281.6 144.07 282.27 147.7 281.6C151.33 280.93 149.77 281 151.8 277.6C153.83 274.2 157.18 266.42 159.9 261.2C162.62 255.98 165.37 250.38 168.1 246.3C170.83 242.22 173.58 239.3 176.3 236.7C179.02 234.1 182.37 231.83 184.4 230.7C186.43 229.57 186.23 229.72 188.5 229.9C190.77 230.08 194.6 231.67 198 231.8C201.4 231.93 205.03 231.02 208.9 230.7C212.77 230.38 217.57 229.72 221.2 229.9C224.83 230.08 228.22 231.52 230.7 231.8C233.18 232.08 233.83 232.13 236.1 231.6C238.37 231.07 240.9 229.55 244.3 228.6C247.7 227.65 253.1 226.22 256.5 225.9C259.9 225.58 261.3 226.85 264.7 226.7C268.1 226.55 273.5 225.47 276.9 225C280.3 224.53 283.05 223.9 285.1 223.9C287.15 223.9 287.97 224.23 289.2 225C290.43 225.77 291.47 227.68 292.5 228.5C293.53 229.32 294.37 230.02 295.4 229.9C296.43 229.78 297.6 228.02 298.7 227.8C299.8 227.58 300.73 226.88 302 228.6C303.27 230.32 304.8 234.48 306.3 238.1C307.8 241.72 309.08 246.9 311 250.3C312.92 253.7 314.63 256 317.8 258.5C320.97 261 324.63 263.3 330 265.3C335.37 267.3 343.33 269.05 350 270.5C356.67 271.95 363.33 273 370 274C376.67 275 384 275.9 390 276.5C396 277.1 403.33 277.42 406 277.6" stroke="#c01a1e" stroke-width="2" fill="none"/>
<text x="65.8" y="234" font-size="10" text-anchor="end" fill="#000" font-weight="bold" font-family="Liberation Serif" stroke="#000" stroke-width="0.22">ICP</text>
<text x="65.8" y="309.4" font-size="10" text-anchor="end" fill="#000" font-weight="bold" font-family="Liberation Serif" stroke="#000" stroke-width="0.22">MAP</text>
<text x="11" y="252.2" font-size="10" text-anchor="middle" fill="#000" font-weight="bold" font-family="Liberation Serif" transform="rotate(-90 11 252.2)" stroke="#000" stroke-width="0.22">ICAII</text>
<text x="23" y="252.2" font-size="10" text-anchor="middle" fill="#000" font-weight="bold" font-family="Liberation Serif" transform="rotate(-90 23 252.2)" stroke="#000" stroke-width="0.22">+MET</text>
<rect x="70.5" y="331.5" width="335.8" height="115" fill="#f7fcdd"/>
<rect x="70.5" y="446.5" width="335.8" height="35.9" fill="#fbfbfb"/>
<line x1="70.5" y1="337.25" x2="406.3" y2="337.25" stroke="#ebebd2" stroke-width="0.6"/>
<line x1="70.5" y1="343" x2="406.3" y2="343" stroke="#ebebd2" stroke-width="0.6"/>
<line x1="70.5" y1="348.75" x2="406.3" y2="348.75" stroke="#ebebd2" stroke-width="0.6"/>
<line x1="70.5" y1="354.5" x2="406.3" y2="354.5" stroke="#ebebd2" stroke-width="0.6"/>
<line x1="70.5" y1="366" x2="406.3" y2="366" stroke="#ebebd2" stroke-width="0.6"/>
<line x1="70.5" y1="371.75" x2="406.3" y2="371.75" stroke="#ebebd2" stroke-width="0.6"/>
<line x1="70.5" y1="377.5" x2="406.3" y2="377.5" stroke="#ebebd2" stroke-width="0.6"/>
<line x1="70.5" y1="383.25" x2="406.3" y2="383.25" stroke="#ebebd2" stroke-width="0.6"/>
<line x1="70.5" y1="394.75" x2="406.3" y2="394.75" stroke="#ebebd2" stroke-width="0.6"/>
<line x1="70.5" y1="400.5" x2="406.3" y2="400.5" stroke="#ebebd2" stroke-width="0.6"/>
<line x1="70.5" y1="406.25" x2="406.3" y2="406.25" stroke="#ebebd2" stroke-width="0.6"/>
<line x1="70.5" y1="412" x2="406.3" y2="412" stroke="#ebebd2" stroke-width="0.6"/>
<line x1="70.5" y1="423.5" x2="406.3" y2="423.5" stroke="#ebebd2" stroke-width="0.6"/>
<line x1="70.5" y1="429.25" x2="406.3" y2="429.25" stroke="#ebebd2" stroke-width="0.6"/>
<line x1="70.5" y1="435" x2="406.3" y2="435" stroke="#ebebd2" stroke-width="0.6"/>
<line x1="70.5" y1="440.75" x2="406.3" y2="440.75" stroke="#ebebd2" stroke-width="0.6"/>
<line x1="87.3" y1="331.5" x2="87.3" y2="482.4" stroke="#e6e6d4" stroke-width="0.6"/>
<line x1="104.1" y1="331.5" x2="104.1" y2="482.4" stroke="#e6e6d4" stroke-width="0.6"/>
<line x1="120.9" y1="331.5" x2="120.9" y2="482.4" stroke="#e6e6d4" stroke-width="0.6"/>
<line x1="137.7" y1="331.5" x2="137.7" y2="482.4" stroke="#e6e6d4" stroke-width="0.6"/>
<line x1="154.5" y1="331.5" x2="154.5" y2="482.4" stroke="#e6e6d4" stroke-width="0.6"/>
<line x1="171.3" y1="331.5" x2="171.3" y2="482.4" stroke="#e6e6d4" stroke-width="0.6"/>
<line x1="188.1" y1="331.5" x2="188.1" y2="482.4" stroke="#e6e6d4" stroke-width="0.6"/>
<line x1="204.9" y1="331.5" x2="204.9" y2="482.4" stroke="#e6e6d4" stroke-width="0.6"/>
<line x1="221.7" y1="331.5" x2="221.7" y2="482.4" stroke="#e6e6d4" stroke-width="0.6"/>
<line x1="238.5" y1="331.5" x2="238.5" y2="482.4" stroke="#e6e6d4" stroke-width="0.6"/>
<line x1="255.3" y1="331.5" x2="255.3" y2="482.4" stroke="#e6e6d4" stroke-width="0.6"/>
<line x1="272.1" y1="331.5" x2="272.1" y2="482.4" stroke="#e6e6d4" stroke-width="0.6"/>
<line x1="288.9" y1="331.5" x2="288.9" y2="482.4" stroke="#e6e6d4" stroke-width="0.6"/>
<line x1="305.7" y1="331.5" x2="305.7" y2="482.4" stroke="#e6e6d4" stroke-width="0.6"/>
<line x1="322.5" y1="331.5" x2="322.5" y2="482.4" stroke="#e6e6d4" stroke-width="0.6"/>
<line x1="339.3" y1="331.5" x2="339.3" y2="482.4" stroke="#e6e6d4" stroke-width="0.6"/>
<line x1="356.1" y1="331.5" x2="356.1" y2="482.4" stroke="#e6e6d4" stroke-width="0.6"/>
<line x1="372.9" y1="331.5" x2="372.9" y2="482.4" stroke="#e6e6d4" stroke-width="0.6"/>
<line x1="389.7" y1="331.5" x2="389.7" y2="482.4" stroke="#e6e6d4" stroke-width="0.6"/>
<line x1="70.5" y1="448.74" x2="406.3" y2="448.74" stroke="#e6e6e6" stroke-width="0.5"/>
<line x1="70.5" y1="450.99" x2="406.3" y2="450.99" stroke="#e6e6e6" stroke-width="0.5"/>
<line x1="70.5" y1="453.23" x2="406.3" y2="453.23" stroke="#e6e6e6" stroke-width="0.5"/>
<line x1="70.5" y1="455.48" x2="406.3" y2="455.48" stroke="#cfcfcf" stroke-width="0.7"/>
<line x1="70.5" y1="457.72" x2="406.3" y2="457.72" stroke="#e6e6e6" stroke-width="0.5"/>
<line x1="70.5" y1="459.96" x2="406.3" y2="459.96" stroke="#e6e6e6" stroke-width="0.5"/>
<line x1="70.5" y1="462.21" x2="406.3" y2="462.21" stroke="#e6e6e6" stroke-width="0.5"/>
<line x1="70.5" y1="464.45" x2="406.3" y2="464.45" stroke="#cfcfcf" stroke-width="0.7"/>
<line x1="70.5" y1="466.69" x2="406.3" y2="466.69" stroke="#e6e6e6" stroke-width="0.5"/>
<line x1="70.5" y1="468.94" x2="406.3" y2="468.94" stroke="#e6e6e6" stroke-width="0.5"/>
<line x1="70.5" y1="471.18" x2="406.3" y2="471.18" stroke="#e6e6e6" stroke-width="0.5"/>
<line x1="70.5" y1="473.42" x2="406.3" y2="473.42" stroke="#cfcfcf" stroke-width="0.7"/>
<line x1="70.5" y1="475.67" x2="406.3" y2="475.67" stroke="#e6e6e6" stroke-width="0.5"/>
<line x1="70.5" y1="477.91" x2="406.3" y2="477.91" stroke="#e6e6e6" stroke-width="0.5"/>
<line x1="70.5" y1="480.16" x2="406.3" y2="480.16" stroke="#e6e6e6" stroke-width="0.5"/>
<line x1="70.5" y1="360.25" x2="406.3" y2="360.25" stroke="#c8c8bc" stroke-width="0.8"/>
<line x1="70.5" y1="389" x2="406.3" y2="389" stroke="#c8c8bc" stroke-width="0.8"/>
<line x1="70.5" y1="417.75" x2="406.3" y2="417.75" stroke="#c8c8bc" stroke-width="0.8"/>
<line x1="154.5" y1="331.5" x2="154.5" y2="482.4" stroke="#bdbdb6" stroke-width="0.8"/>
<line x1="238.5" y1="331.5" x2="238.5" y2="482.4" stroke="#bdbdb6" stroke-width="0.8"/>
<line x1="322.5" y1="331.5" x2="322.5" y2="482.4" stroke="#bdbdb6" stroke-width="0.8"/>
<line x1="70.5" y1="446.5" x2="430.7" y2="446.5" stroke="#a9a9a9" stroke-width="1"/>
<rect x="70.5" y="482.4" width="335.8" height="6.6" fill="#dadfe2"/>
<line x1="70.5" y1="489.4" x2="406.3" y2="489.4" stroke="#6f6f6f" stroke-width="1"/>
<line x1="70.5" y1="482.4" x2="406.3" y2="482.4" stroke="#9a9a9a" stroke-width="0.8"/>
<text x="154.5" y="487" font-size="2.6" text-anchor="middle" fill="#555" font-weight="normal" font-family="Liberation Sans">60.00</text>
<text x="238.5" y="487" font-size="2.6" text-anchor="middle" fill="#555" font-weight="normal" font-family="Liberation Sans">120.00</text>
<text x="322.5" y="487" font-size="2.6" text-anchor="middle" fill="#555" font-weight="normal" font-family="Liberation Sans">180.00</text>
<text x="241.4" y="488.7" font-size="2.2" text-anchor="middle" fill="#555" font-weight="normal" font-family="Liberation Sans">seconds</text>
<rect x="406.3" y="331.5" width="24.4" height="150.9" fill="#dde1e4"/>
<line x1="406.7" y1="331.5" x2="406.7" y2="482.4" stroke="#9e9e9e" stroke-width="0.8"/>
<line x1="430.3" y1="331.5" x2="430.3" y2="482.4" stroke="#9e9e9e" stroke-width="0.8"/>
<line x1="406.3" y1="446.5" x2="430.7" y2="446.5" stroke="#9e9e9e" stroke-width="1.2"/>
<line x1="406.3" y1="482.4" x2="430.7" y2="482.4" stroke="#9e9e9e" stroke-width="1"/>
<rect x="406.3" y="482.4" width="24.4" height="7.6" fill="#ededed"/>
<text x="408.3" y="334.7" font-size="2.6" text-anchor="start" fill="#b05050" font-weight="normal" font-family="Liberation Sans">120.00</text>
<text x="408.3" y="362.7" font-size="2.6" text-anchor="start" fill="#b05050" font-weight="normal" font-family="Liberation Sans">90.00</text>
<text x="408.3" y="390.7" font-size="2.6" text-anchor="start" fill="#b05050" font-weight="normal" font-family="Liberation Sans">60.00</text>
<text x="408.3" y="418.7" font-size="2.6" text-anchor="start" fill="#b05050" font-weight="normal" font-family="Liberation Sans">30.00</text>
<text x="408.3" y="446.7" font-size="2.6" text-anchor="start" fill="#b05050" font-weight="normal" font-family="Liberation Sans">0.00</text>
<text x="408.3" y="449.7" font-size="2.6" text-anchor="start" fill="#b040c0" font-weight="normal" font-family="Liberation Sans">200.00</text>
<text x="408.3" y="457.93" font-size="2.6" text-anchor="start" fill="#b040c0" font-weight="normal" font-family="Liberation Sans">150.00</text>
<text x="408.3" y="466.15" font-size="2.6" text-anchor="start" fill="#b040c0" font-weight="normal" font-family="Liberation Sans">100.00</text>
<text x="408.3" y="474.37" font-size="2.6" text-anchor="start" fill="#b040c0" font-weight="normal" font-family="Liberation Sans">50.00</text>
<text x="408.3" y="482.6" font-size="2.6" text-anchor="start" fill="#b040c0" font-weight="normal" font-family="Liberation Sans">0.00</text>
<rect x="428.2" y="386" width="1.2" height="6" fill="#c87070"/>
<rect x="428.2" y="461.45" width="1.2" height="6" fill="#c070d0"/>
<line x1="70.5" y1="331.5" x2="430.7" y2="331.5" stroke="#8f8f8f" stroke-width="1"/>
<line x1="70.8" y1="331.5" x2="70.8" y2="490" stroke="#8a8a8a" stroke-width="1"/>
<path d="M71.5 466.31 L72.2 466.04 L72.9 465.85 L73.6 466.35 L74.3 466.54 L75 466.04 L75.7 465.97 L76.4 465.82 L77.1 466.3 L77.8 466.41 L78.5 466.15 L79.2 465.74 L79.9 465.84 L80.6 466.23 L81.3 466.29 L82 466.08 L82.7 465.7 L83.4 465.77 L84.1 465.99 L84.8 466.27 L85.5 465.94 L86.2 465.56 L86.9 465.8 L87.6 466.14 L88.3 466.15 L89 465.77 L89.7 465.56 L90.4 465.54 L91.1 465.89 L91.8 466.08 L92.5 465.68 L93.2 465.49 L93.9 465.61 L94.6 465.82 L95.3 466.1 L96 465.64 L96.7 465.54 L97.4 465.67 L98.1 465.94 L98.8 465.9 L99.5 465.74 L100.2 465.43 L100.9 465.72 L101.6 465.83 L102.3 466.14 L103 465.89 L103.7 465.54 L104.4 465.7 L105.1 465.87 L105.8 466.21 L106.5 465.77 L107.2 465.65 L107.9 465.78 L108.6 465.92 L109.3 466.2 L110 465.95 L110.7 465.44 L111.4 465.67 L112.1 466.16 L112.8 466.07 L113.5 466 L114.2 465.57 L114.9 465.89 L115.6 466.05 L116.3 466.25 L117 466.08 L117.7 465.62 L118.4 465.8 L119.1 466.24 L119.8 466.27 L120.5 465.89 L121.2 465.69 L121.9 465.85 L122.6 466.45 L123.3 466.45 L124 466.21 L124.7 465.75 L125.4 466.11 L126.1 466.27 L126.8 466.46 L127.5 466.18 L128.2 465.86 L128.9 466.18 L129.6 466.44 L130.3 466.5 L131 466.27 L131.7 465.8 L132.4 466.23 L133.1 466.46 L133.8 466.42 L134.5 466.21 L135.2 465.8 L135.9 466.17 L136.6 466.37 L137.3 466.31 L138 466.07 L138.7 465.69 L139.4 465.75 L140.1 466.21 L140.8 465.98 L141.5 465.82 L142.2 465.36 L142.9 465.6 L143.6 465.98 L144.3 465.83 L145 465.47 L145.7 465.09 L146.4 465.14 L147.1 465.45 L147.8 465.46 L148.5 465.24 L149.2 464.93 L149.9 465.12 L150.6 465.54 L151.3 465.3 L152 464.98 L152.7 464.87 L153.4 464.86 L154.1 465.17 L154.8 465.26 L155.5 464.84 L156.2 464.68 L156.9 464.83 L157.6 465.26 L158.3 465.25 L159 464.79 L159.7 464.69 L160.4 464.84 L161.1 465.07 L161.8 465.29 L162.5 464.73 L163.2 464.5 L163.9 464.69 L164.6 465.17 L165.3 465.23 L166 464.86 L166.7 464.54 L167.4 464.71 L168.1 464.97 L168.8 465.14 L169.5 464.77 L170.2 464.52 L170.9 464.83 L171.6 465.1 L172.3 465.23 L173 464.83 L173.7 464.51 L174.4 464.94 L175.1 465.01 L175.8 465.14 L176.5 464.77 L177.2 464.55 L177.9 464.73 L178.6 465.29 L179.3 465.04 L180 464.87 L180.7 464.82 L181.4 464.83 L182.1 465.19 L182.8 465.28 L183.5 464.92 L184.2 464.81 L184.9 465.12 L185.6 465.26 L186.3 465.27 L187 464.94 L187.7 464.72 L188.4 465.23 L189.1 465.53 L189.8 465.48 L190.5 464.93 L191.2 465.04 L191.9 465.28 L192.6 465.52 L193.3 465.57 L194 465.14 L194.7 464.94 L195.4 465.17 L196.1 465.53 L196.8 465.42 L197.5 465.17 L198.2 465.16 L198.9 465.41 L199.6 465.78 L200.3 465.68 L201 465.2 L201.7 465.15 L202.4 465.39 L203.1 465.8 L203.8 465.66 L204.5 465.23 L205.2 465.21 L205.9 465.57 L206.6 465.66 L207.3 465.78 L208 465.16 L208.7 465.1 L209.4 465.37 L210.1 465.82 L210.8 465.79 L211.5 465.37 L212.2 465.11 L212.9 465.55 L213.6 465.68 L214.3 465.55 L215 465.39 L215.7 465.18 L216.4 465.47 L217.1 465.75 L217.8 465.74 L218.5 465.23 L219.2 465.21 L219.9 465.44 L220.6 465.77 L221.3 465.54 L222 465.26 L222.7 465.1 L223.4 465.3 L224.1 465.55 L224.8 465.56 L225.5 465.03 L226.2 465.17 L226.9 465.22 L227.6 465.47 L228.3 465.37 L229 465.26 L229.7 464.98 L230.4 465.21 L231.1 465.46 L231.8 465.34 L232.5 465.18 L233.2 465.07 L233.9 465.39 L234.6 465.68 L235.3 465.36 L236 465.17 L236.7 465.01 L237.4 465.46 L238.1 465.74 L238.8 465.63 L239.5 465.04 L240.2 465.21 L240.9 465.54 L241.6 465.83 L242.3 465.45 L243 465.14 L243.7 465.05 L244.4 465.35 L245.1 465.87 L245.8 465.74 L246.5 465.35 L247.2 465.35 L247.9 465.62 L248.6 465.8 L249.3 465.62 L250 465.28 L250.7 465.44 L251.4 465.6 L252.1 465.92 L252.8 465.82 L253.5 465.37 L254.2 465.4 L254.9 465.74 L255.6 466.15 L256.3 465.91 L257 465.57 L257.7 465.73 L258.4 465.93 L259.1 466.3 L259.8 466.09 L260.5 465.58 L261.2 465.67 L261.9 466.01 L262.6 466.38 L263.3 466.1 L264 465.88 L264.7 465.8 L265.4 466.04 L266.1 466.49 L266.8 466.1 L267.5 465.98 L268.2 465.77 L268.9 466.05 L269.6 466.36 L270.3 466.35 L271 466.08 L271.7 465.77 L272.4 466.25 L273.1 466.48 L273.8 466.39 L274.5 465.87 L275.2 465.94 L275.9 466.23 L276.6 466.6 L277.3 466.23 L278 466.1 L278.7 465.88 L279.4 466.18 L280.1 466.54 L280.8 466.28 L281.5 465.82 L282.2 465.96 L282.9 466.11 L283.6 466.53 L284.3 466.3 L285 465.97 L285.7 465.91 L286.4 466.15 L287.1 466.36 L287.8 466.14 L288.5 465.94 L289.2 465.69 L289.9 466.25 L290.6 466.19 L291.3 466.02 L292 465.69 L292.7 465.87 L293.4 466.07 L294.1 466.22 L294.8 466.15 L295.5 465.61 L296.2 465.67 L296.9 466.02 L297.6 466.28 L298.3 466.05 L299 465.67 L299.7 465.59 L300.4 465.91 L301.1 466.05 L301.8 466.02 L302.5 465.63 L303.2 465.67 L303.9 465.84 L304.6 466.1 L305.3 465.97 L306 465.59 L306.7 465.48 L307.4 465.92 L308.1 466.23 L308.8 465.81 L309.5 465.47 L310.2 465.55 L310.9 466.02 L311.6 466.24 L312.3 465.81 L313 465.49 L313.7 465.57 L314.4 465.95 L315.1 466.2 L315.8 465.86 L316.5 465.6 L317.2 465.62 L317.9 466.22 L318.6 466.33 L319.3 465.91 L320 465.87 L320.7 465.68 L321.4 466.14 L322.1 466.5 L322.8 466.21 L323.5 465.9 L324.2 465.89 L324.9 466.19 L325.6 466.5 L326.3 466.11 L327 465.85 L327.7 465.99 L328.4 466.25 L329.1 466.53 L329.8 466.41 L330.5 466.1 L331.2 466.13 L331.9 466.54 L332.6 466.66 L333.3 466.32 L334 466.17 L334.7 466.2 L335.4 466.67 L336.1 466.88 L336.8 466.49 L337.5 466.24 L338.2 466.39 L338.9 466.66 L339.6 466.75 L340.3 466.63 L341 466.39 L341.7 466.46 L342.4 466.8 L343.1 466.98 L343.8 466.66 L344.5 466.36 L345.2 466.4 L345.9 466.71 L346.6 466.93 L347.3 466.49 L348 466.3 L348.7 466.5 L349.4 466.83 L350.1 466.92 L350.8 466.52 L351.5 466.27 L352.2 466.38 L352.9 466.78 L353.6 466.82 L354.3 466.6 L355 466.38 L355.7 466.25 L356.4 466.74 L357.1 466.87 L357.8 466.45 L358.5 466.18 L359.2 466.43 L359.9 466.48 L360.6 466.72 L361.3 466.3 L362 466.19 L362.7 466.34 L363.4 466.55 L364.1 466.5 L364.8 466.33 L365.5 466.03 L366.2 466.2 L366.9 466.47 L367.6 466.58 L368.3 466.32 L369 465.94 L369.7 466.03 L370.4 466.53 L371.1 466.37 L371.8 466.2 L372.5 465.83 L373.2 466.07 L373.9 466.22 L374.6 466.54 L375.3 466.04 L376 465.67 L376.7 465.87 L377.4 466.26 L378.1 466.2 L378.8 466.01 L379.5 465.75 L380.2 465.97 L380.9 466.22 L381.6 466.26 L382.3 465.93 L383 465.83 L383.7 466.04 L384.4 466.27 L385.1 466.24 L385.8 466.1 L386.5 465.73 L387.2 465.84 L387.9 466.17 L388.6 466.42 L389.3 466.12 L390 465.83 L390.7 465.95 L391.4 466.34 L392.1 466.29 L392.8 466.2 L393.5 465.79 L394.2 466.05 L394.9 466.46 L395.6 466.51 L396.3 466.1 L397 465.82 L397.7 466.08 L398.4 466.31 L399.1 466.57 L399.8 466.11 L400.5 466.03 L401.2 466.05 L401.9 466.44 L402.6 466.44 L403.3 466.17 L404 465.88 L404.7 466.02 L405.4 466.58 L406.1 466.48" stroke="#c41cd0" stroke-width="2" fill="none" stroke-linejoin="round"/>
<path d="M71.5 425.3C82.82 425.3 125.77 425.45 139.4 425.3C153.03 425.15 149.45 425.02 153.3 424.4C157.15 423.78 158.65 422.83 162.5 421.6C166.35 420.37 171 418.3 176.4 417C181.8 415.7 187.97 414.65 194.9 413.8C201.83 412.95 211.07 412.37 218 411.9C224.93 411.43 228.78 411.3 236.5 411C244.22 410.7 255.05 410.25 264.3 410.1C273.55 409.95 285.45 410.18 292 410.1C298.55 410.02 300.52 409.37 303.6 409.6C306.68 409.83 306.27 410.27 310.5 411.5C314.73 412.73 322.83 415.47 329 417C335.17 418.53 340.57 419.7 347.5 420.7C354.43 421.7 360.85 422.45 370.6 423C380.35 423.55 400.1 423.83 406 424" stroke="#c01a1e" stroke-width="2" fill="none"/>
<text x="65.8" y="392.6" font-size="10" text-anchor="end" fill="#000" font-weight="bold" font-family="Liberation Serif" stroke="#000" stroke-width="0.22">ICP</text>
<text x="65.8" y="468" font-size="10" text-anchor="end" fill="#000" font-weight="bold" font-family="Liberation Serif" stroke="#000" stroke-width="0.22">MAP</text>
<text x="23" y="410.6" font-size="10" text-anchor="middle" fill="#000" font-weight="bold" font-family="Liberation Serif" transform="rotate(-90 23 410.6)" stroke="#000" stroke-width="0.22">MET</text>
<rect x="70.5" y="490" width="335.8" height="115.4" fill="#f7fcdd"/>
<rect x="70.5" y="605.4" width="335.8" height="35.9" fill="#fbfbfb"/>
<line x1="70.5" y1="495.77" x2="406.3" y2="495.77" stroke="#ebebd2" stroke-width="0.6"/>
<line x1="70.5" y1="501.54" x2="406.3" y2="501.54" stroke="#ebebd2" stroke-width="0.6"/>
<line x1="70.5" y1="507.31" x2="406.3" y2="507.31" stroke="#ebebd2" stroke-width="0.6"/>
<line x1="70.5" y1="513.08" x2="406.3" y2="513.08" stroke="#ebebd2" stroke-width="0.6"/>
<line x1="70.5" y1="524.62" x2="406.3" y2="524.62" stroke="#ebebd2" stroke-width="0.6"/>
<line x1="70.5" y1="530.39" x2="406.3" y2="530.39" stroke="#ebebd2" stroke-width="0.6"/>
<line x1="70.5" y1="536.16" x2="406.3" y2="536.16" stroke="#ebebd2" stroke-width="0.6"/>
<line x1="70.5" y1="541.93" x2="406.3" y2="541.93" stroke="#ebebd2" stroke-width="0.6"/>
<line x1="70.5" y1="553.47" x2="406.3" y2="553.47" stroke="#ebebd2" stroke-width="0.6"/>
<line x1="70.5" y1="559.24" x2="406.3" y2="559.24" stroke="#ebebd2" stroke-width="0.6"/>
<line x1="70.5" y1="565.01" x2="406.3" y2="565.01" stroke="#ebebd2" stroke-width="0.6"/>
<line x1="70.5" y1="570.78" x2="406.3" y2="570.78" stroke="#ebebd2" stroke-width="0.6"/>
<line x1="70.5" y1="582.32" x2="406.3" y2="582.32" stroke="#ebebd2" stroke-width="0.6"/>
<line x1="70.5" y1="588.09" x2="406.3" y2="588.09" stroke="#ebebd2" stroke-width="0.6"/>
<line x1="70.5" y1="593.86" x2="406.3" y2="593.86" stroke="#ebebd2" stroke-width="0.6"/>
<line x1="70.5" y1="599.63" x2="406.3" y2="599.63" stroke="#ebebd2" stroke-width="0.6"/>
<line x1="87.3" y1="490" x2="87.3" y2="641.3" stroke="#e6e6d4" stroke-width="0.6"/>
<line x1="104.1" y1="490" x2="104.1" y2="641.3" stroke="#e6e6d4" stroke-width="0.6"/>
<line x1="120.9" y1="490" x2="120.9" y2="641.3" stroke="#e6e6d4" stroke-width="0.6"/>
<line x1="137.7" y1="490" x2="137.7" y2="641.3" stroke="#e6e6d4" stroke-width="0.6"/>
<line x1="154.5" y1="490" x2="154.5" y2="641.3" stroke="#e6e6d4" stroke-width="0.6"/>
<line x1="171.3" y1="490" x2="171.3" y2="641.3" stroke="#e6e6d4" stroke-width="0.6"/>
<line x1="188.1" y1="490" x2="188.1" y2="641.3" stroke="#e6e6d4" stroke-width="0.6"/>
<line x1="204.9" y1="490" x2="204.9" y2="641.3" stroke="#e6e6d4" stroke-width="0.6"/>
<line x1="221.7" y1="490" x2="221.7" y2="641.3" stroke="#e6e6d4" stroke-width="0.6"/>
<line x1="238.5" y1="490" x2="238.5" y2="641.3" stroke="#e6e6d4" stroke-width="0.6"/>
<line x1="255.3" y1="490" x2="255.3" y2="641.3" stroke="#e6e6d4" stroke-width="0.6"/>
<line x1="272.1" y1="490" x2="272.1" y2="641.3" stroke="#e6e6d4" stroke-width="0.6"/>
<line x1="288.9" y1="490" x2="288.9" y2="641.3" stroke="#e6e6d4" stroke-width="0.6"/>
<line x1="305.7" y1="490" x2="305.7" y2="641.3" stroke="#e6e6d4" stroke-width="0.6"/>
<line x1="322.5" y1="490" x2="322.5" y2="641.3" stroke="#e6e6d4" stroke-width="0.6"/>
<line x1="339.3" y1="490" x2="339.3" y2="641.3" stroke="#e6e6d4" stroke-width="0.6"/>
<line x1="356.1" y1="490" x2="356.1" y2="641.3" stroke="#e6e6d4" stroke-width="0.6"/>
<line x1="372.9" y1="490" x2="372.9" y2="641.3" stroke="#e6e6d4" stroke-width="0.6"/>
<line x1="389.7" y1="490" x2="389.7" y2="641.3" stroke="#e6e6d4" stroke-width="0.6"/>
<line x1="70.5" y1="607.64" x2="406.3" y2="607.64" stroke="#e6e6e6" stroke-width="0.5"/>
<line x1="70.5" y1="609.89" x2="406.3" y2="609.89" stroke="#e6e6e6" stroke-width="0.5"/>
<line x1="70.5" y1="612.13" x2="406.3" y2="612.13" stroke="#e6e6e6" stroke-width="0.5"/>
<line x1="70.5" y1="614.38" x2="406.3" y2="614.38" stroke="#cfcfcf" stroke-width="0.7"/>
<line x1="70.5" y1="616.62" x2="406.3" y2="616.62" stroke="#e6e6e6" stroke-width="0.5"/>
<line x1="70.5" y1="618.86" x2="406.3" y2="618.86" stroke="#e6e6e6" stroke-width="0.5"/>
<line x1="70.5" y1="621.11" x2="406.3" y2="621.11" stroke="#e6e6e6" stroke-width="0.5"/>
<line x1="70.5" y1="623.35" x2="406.3" y2="623.35" stroke="#cfcfcf" stroke-width="0.7"/>
<line x1="70.5" y1="625.59" x2="406.3" y2="625.59" stroke="#e6e6e6" stroke-width="0.5"/>
<line x1="70.5" y1="627.84" x2="406.3" y2="627.84" stroke="#e6e6e6" stroke-width="0.5"/>
<line x1="70.5" y1="630.08" x2="406.3" y2="630.08" stroke="#e6e6e6" stroke-width="0.5"/>
<line x1="70.5" y1="632.32" x2="406.3" y2="632.32" stroke="#cfcfcf" stroke-width="0.7"/>
<line x1="70.5" y1="634.57" x2="406.3" y2="634.57" stroke="#e6e6e6" stroke-width="0.5"/>
<line x1="70.5" y1="636.81" x2="406.3" y2="636.81" stroke="#e6e6e6" stroke-width="0.5"/>
<line x1="70.5" y1="639.06" x2="406.3" y2="639.06" stroke="#e6e6e6" stroke-width="0.5"/>
<line x1="70.5" y1="518.85" x2="406.3" y2="518.85" stroke="#c8c8bc" stroke-width="0.8"/>
<line x1="70.5" y1="547.7" x2="406.3" y2="547.7" stroke="#c8c8bc" stroke-width="0.8"/>
<line x1="70.5" y1="576.55" x2="406.3" y2="576.55" stroke="#c8c8bc" stroke-width="0.8"/>
<line x1="154.5" y1="490" x2="154.5" y2="641.3" stroke="#bdbdb6" stroke-width="0.8"/>
<line x1="238.5" y1="490" x2="238.5" y2="641.3" stroke="#bdbdb6" stroke-width="0.8"/>
<line x1="322.5" y1="490" x2="322.5" y2="641.3" stroke="#bdbdb6" stroke-width="0.8"/>
<line x1="70.5" y1="605.4" x2="430.7" y2="605.4" stroke="#a9a9a9" stroke-width="1"/>
<rect x="70.5" y="641.3" width="335.8" height="5.8" fill="#dadfe2"/>
<line x1="70.5" y1="647.5" x2="406.3" y2="647.5" stroke="#6f6f6f" stroke-width="1"/>
<line x1="70.5" y1="641.3" x2="406.3" y2="641.3" stroke="#9a9a9a" stroke-width="0.8"/>
<text x="154.5" y="645.9" font-size="2.6" text-anchor="middle" fill="#555" font-weight="normal" font-family="Liberation Sans">60.00</text>
<text x="238.5" y="645.9" font-size="2.6" text-anchor="middle" fill="#555" font-weight="normal" font-family="Liberation Sans">120.00</text>
<text x="322.5" y="645.9" font-size="2.6" text-anchor="middle" fill="#555" font-weight="normal" font-family="Liberation Sans">180.00</text>
<text x="241.4" y="646.8" font-size="2.2" text-anchor="middle" fill="#555" font-weight="normal" font-family="Liberation Sans">seconds</text>
<rect x="406.3" y="490" width="24.4" height="151.3" fill="#dde1e4"/>
<line x1="406.7" y1="490" x2="406.7" y2="641.3" stroke="#9e9e9e" stroke-width="0.8"/>
<line x1="430.3" y1="490" x2="430.3" y2="641.3" stroke="#9e9e9e" stroke-width="0.8"/>
<line x1="406.3" y1="605.4" x2="430.7" y2="605.4" stroke="#9e9e9e" stroke-width="1.2"/>
<line x1="406.3" y1="641.3" x2="430.7" y2="641.3" stroke="#9e9e9e" stroke-width="1"/>
<rect x="406.3" y="641.3" width="24.4" height="6.8" fill="#ededed"/>
<text x="408.3" y="493.2" font-size="2.6" text-anchor="start" fill="#b05050" font-weight="normal" font-family="Liberation Sans">120.00</text>
<text x="408.3" y="521.3" font-size="2.6" text-anchor="start" fill="#b05050" font-weight="normal" font-family="Liberation Sans">90.00</text>
<text x="408.3" y="549.4" font-size="2.6" text-anchor="start" fill="#b05050" font-weight="normal" font-family="Liberation Sans">60.00</text>
<text x="408.3" y="577.5" font-size="2.6" text-anchor="start" fill="#b05050" font-weight="normal" font-family="Liberation Sans">30.00</text>
<text x="408.3" y="605.6" font-size="2.6" text-anchor="start" fill="#b05050" font-weight="normal" font-family="Liberation Sans">0.00</text>
<text x="408.3" y="608.6" font-size="2.6" text-anchor="start" fill="#b040c0" font-weight="normal" font-family="Liberation Sans">200.00</text>
<text x="408.3" y="616.83" font-size="2.6" text-anchor="start" fill="#b040c0" font-weight="normal" font-family="Liberation Sans">150.00</text>
<text x="408.3" y="625.05" font-size="2.6" text-anchor="start" fill="#b040c0" font-weight="normal" font-family="Liberation Sans">100.00</text>
<text x="408.3" y="633.27" font-size="2.6" text-anchor="start" fill="#b040c0" font-weight="normal" font-family="Liberation Sans">50.00</text>
<text x="408.3" y="641.5" font-size="2.6" text-anchor="start" fill="#b040c0" font-weight="normal" font-family="Liberation Sans">0.00</text>
<rect x="428.2" y="544.7" width="1.2" height="6" fill="#c87070"/>
<rect x="428.2" y="620.35" width="1.2" height="6" fill="#c070d0"/>
<line x1="70.5" y1="490" x2="430.7" y2="490" stroke="#8f8f8f" stroke-width="1"/>
<line x1="70.8" y1="490" x2="70.8" y2="648.1" stroke="#8a8a8a" stroke-width="1"/>
<path d="M71.5 624.65 L72.2 624.37 L72.9 624.47 L73.6 624.77 L74.3 624.95 L75 624.69 L75.7 624.31 L76.4 624.54 L77.1 624.83 L77.8 624.7 L78.5 624.67 L79.2 624.4 L79.9 624.43 L80.6 624.56 L81.3 624.88 L82 624.55 L82.7 624.08 L83.4 624.16 L84.1 624.76 L84.8 624.78 L85.5 624.4 L86.2 624.07 L86.9 624.17 L87.6 624.53 L88.3 624.8 L89 624.41 L89.7 624.08 L90.4 624.41 L91.1 624.7 L91.8 624.63 L92.5 624.58 L93.2 624.24 L93.9 624.4 L94.6 624.7 L95.3 624.87 L96 624.58 L96.7 624.34 L97.4 624.27 L98.1 624.76 L98.8 624.82 L99.5 624.62 L100.2 624.28 L100.9 624.54 L101.6 624.79 L102.3 624.8 L103 624.53 L103.7 624.26 L104.4 624.5 L105.1 624.72 L105.8 624.94 L106.5 624.58 L107.2 624.44 L107.9 624.58 L108.6 624.94 L109.3 625.13 L110 624.61 L110.7 624.62 L111.4 624.65 L112.1 625.02 L112.8 625.14 L113.5 624.92 L114.2 624.54 L114.9 624.7 L115.6 625.2 L116.3 625.01 L117 624.9 L117.7 624.66 L118.4 624.62 L119.1 625.13 L119.8 625.22 L120.5 625.01 L121.2 624.59 L121.9 624.93 L122.6 625.11 L123.3 625.16 L124 624.98 L124.7 624.49 L125.4 624.83 L126.1 625.12 L126.8 625.08 L127.5 624.93 L128.2 624.54 L128.9 624.71 L129.6 625.04 L130.3 625.14 L131 624.66 L131.7 624.48 L132.4 624.62 L133.1 624.96 L133.8 625.06 L134.5 624.58 L135.2 624.49 L135.9 624.5 L136.6 624.83 L137.3 624.76 L138 624.5 L138.7 624.4 L139.4 624.44 L140.1 624.77 L140.8 624.63 L141.5 624.29 L142.2 624.03 L142.9 624.26 L143.6 624.56 L144.3 624.59 L145 624.03 L145.7 623.99 L146.4 624.18 L147.1 624.36 L147.8 624.19 L148.5 623.92 L149.2 623.59 L149.9 623.8 L150.6 624.3 L151.3 624.18 L152 623.85 L152.7 623.66 L153.4 623.85 L154.1 624.04 L154.8 624.02 L155.5 623.68 L156.2 623.47 L156.9 623.6 L157.6 623.92 L158.3 623.75 L159 623.55 L159.7 623.27 L160.4 623.53 L161.1 623.63 L161.8 623.63 L162.5 623.25 L163.2 623.27 L163.9 623.5 L164.6 623.72 L165.3 623.61 L166 623.42 L166.7 623.22 L167.4 623.35 L168.1 623.57 L168.8 623.56 L169.5 623.28 L170.2 623.07 L170.9 623.32 L171.6 623.7 L172.3 623.77 L173 623.2 L173.7 623.19 L174.4 623.26 L175.1 623.6 L175.8 623.8 L176.5 623.43 L177.2 623.38 L177.9 623.48 L178.6 623.67 L179.3 623.77 L180 623.54 L180.7 623.5 L181.4 623.76 L182.1 623.94 L182.8 623.91 L183.5 623.52 L184.2 623.55 L184.9 623.68 L185.6 623.99 L186.3 623.94 L187 623.64 L187.7 623.72 L188.4 623.81 L189.1 624.39 L189.8 624.1 L190.5 624.04 L191.2 623.7 L191.9 623.93 L192.6 624.46 L193.3 624.29 L194 624.13 L194.7 623.85 L195.4 624.07 L196.1 624.6 L196.8 624.54 L197.5 624.28 L198.2 624.12 L198.9 624.18 L199.6 624.65 L200.3 624.63 L201 624.24 L201.7 624.26 L202.4 624.31 L203.1 624.82 L203.8 624.69 L204.5 624.16 L205.2 624.03 L205.9 624.48 L206.6 624.82 L207.3 624.52 L208 624.27 L208.7 624.27 L209.4 624.35 L210.1 624.84 L210.8 624.65 L211.5 624.19 L212.2 624.16 L212.9 624.48 L213.6 624.71 L214.3 624.69 L215 624.2 L215.7 624.28 L216.4 624.4 L217.1 624.76 L217.8 624.66 L218.5 624.26 L219.2 624.14 L219.9 624.52 L220.6 624.83 L221.3 624.69 L222 624.29 L222.7 624.1 L223.4 624.29 L224.1 624.84 L224.8 624.65 L225.5 624.36 L226.2 624.11 L226.9 624.47 L227.6 624.85 L228.3 624.7 L229 624.3 L229.7 624.13 L230.4 624.44 L231.1 624.85 L231.8 624.59 L232.5 624.36 L233.2 624.26 L233.9 624.63 L234.6 624.87 L235.3 624.61 L236 624.21 L236.7 624.22 L237.4 624.56 L238.1 624.87 L238.8 624.84 L239.5 624.54 L240.2 624.23 L240.9 624.76 L241.6 625.03 L242.3 624.93 L243 624.53 L243.7 624.39 L244.4 624.87 L245.1 625.12 L245.8 624.97 L246.5 624.73 L247.2 624.51 L247.9 624.74 L248.6 625.15 L249.3 625.1 L250 624.61 L250.7 624.73 L251.4 625.1 L252.1 625.15 L252.8 625.13 L253.5 624.85 L254.2 624.74 L254.9 624.97 L255.6 625.24 L256.3 625.26 L257 624.96 L257.7 624.82 L258.4 625.02 L259.1 625.48 L259.8 625.32 L260.5 624.85 L261.2 624.92 L261.9 625.32 L262.6 625.55 L263.3 625.29 L264 624.96 L264.7 624.96 L265.4 625.14 L266.1 625.37 L266.8 625.21 L267.5 625.04 L268.2 624.91 L268.9 625.27 L269.6 625.44 L270.3 625.31 L271 624.87 L271.7 624.81 L272.4 625.4 L273.1 625.42 L273.8 625.16 L274.5 624.99 L275.2 625.01 L275.9 625.12 L276.6 625.46 L277.3 625.2 L278 624.92 L278.7 624.75 L279.4 625.05 L280.1 625.53 L280.8 625.31 L281.5 624.86 L282.2 624.87 L282.9 625.08 L283.6 625.42 L284.3 625.12 L285 624.95 L285.7 624.88 L286.4 625.2 L287.1 625.44 L287.8 625.02 L288.5 624.64 L289.2 624.68 L289.9 624.98 L290.6 625.14 L291.3 624.92 L292 624.76 L292.7 624.85 L293.4 625.04 L294.1 625.37 L294.8 625.16 L295.5 624.59 L296.2 624.76 L296.9 625.01 L297.6 625.11 L298.3 625.16 L299 624.64 L299.7 624.75 L300.4 625.1 L301.1 625.37 L301.8 625.08 L302.5 624.7 L303.2 624.74 L303.9 624.98 L304.6 625.4 L305.3 625.2 L306 624.67 L306.7 624.65 L307.4 625.05 L308.1 625.26 L308.8 625.21 L309.5 624.92 L310.2 624.94 L310.9 625.04 L311.6 625.43 L312.3 625.2 L313 624.89 L313.7 625.04 L314.4 625.09 L315.1 625.29 L315.8 625.26 L316.5 625.02 L317.2 625 L317.9 625.22 L318.6 625.47 L319.3 625.3 L320 624.82 L320.7 624.94 L321.4 625.25 L322.1 625.37 L322.8 625.25 L323.5 624.87 L324.2 624.94 L324.9 625.25 L325.6 625.56 L326.3 625.12 L327 625.04 L327.7 624.95 L328.4 625.22 L329.1 625.63 L329.8 625.18 L330.5 625.1 L331.2 625.14 L331.9 625.47 L332.6 625.37 L333.3 625.21 L334 624.81 L334.7 625.13 L335.4 625.42 L336.1 625.47 L336.8 625.16 L337.5 624.83 L338.2 625.04 L338.9 625.25 L339.6 625.41 L340.3 624.99 L341 624.72 L341.7 624.74 L342.4 625.25 L343.1 625.3 L343.8 624.9 L344.5 624.83 L345.2 624.71 L345.9 625.07 L346.6 625.08 L347.3 624.84 L348 624.72 L348.7 624.64 L349.4 624.9 L350.1 625.08 L350.8 624.75 L351.5 624.63 L352.2 624.47 L352.9 625.04 L353.6 624.85 L354.3 624.82 L355 624.46 L355.7 624.41 L356.4 624.8 L357.1 624.83 L357.8 624.54 L358.5 624.24 L359.2 624.38 L359.9 624.89 L360.6 624.97 L361.3 624.66 L362 624.14 L362.7 624.3 L363.4 624.8 L364.1 624.63 L364.8 624.55 L365.5 624.16 L366.2 624.48 L366.9 624.51 L367.6 624.83 L368.3 624.41 L369 624.1 L369.7 624.18 L370.4 624.76 L371.1 624.75 L371.8 624.37 L372.5 624.2 L373.2 624.47 L373.9 624.6 L374.6 624.79 L375.3 624.38 L376 624.15 L376.7 624.48 L377.4 624.8 L378.1 624.72 L378.8 624.41 L379.5 624.18 L380.2 624.49 L380.9 624.8 L381.6 624.81 L382.3 624.51 L383 624.41 L383.7 624.6 L384.4 624.97 L385.1 624.97 L385.8 624.58 L386.5 624.32 L387.2 624.68 L387.9 624.93 L388.6 625.09 L389.3 624.61 L390 624.62 L390.7 624.64 L391.4 625.13 L392.1 625.2 L392.8 624.8 L393.5 624.44 L394.2 624.88 L394.9 625.09 L395.6 625.25 L396.3 624.78 L397 624.54 L397.7 624.91 L398.4 625.1 L399.1 625.08 L399.8 624.84 L400.5 624.69 L401.2 624.69 L401.9 625.17 L402.6 625.17 L403.3 624.89 L404 624.56 L404.7 624.91 L405.4 625.25 L406.1 625.29" stroke="#c41cd0" stroke-width="2" fill="none" stroke-linejoin="round"/>
<path d="M71.5 584.9C82.82 584.9 125.77 585.22 139.4 584.9C153.03 584.58 148.68 584.17 153.3 583C157.92 581.83 162.48 579.52 167.1 577.9C171.72 576.28 176.37 574.3 181 573.3C185.63 572.3 187.97 572.2 194.9 571.9C201.83 571.6 212.58 571.5 222.6 571.5C232.62 571.5 242.27 571.68 255 571.9C267.73 572.12 288.2 572.1 299 572.8C309.8 573.5 313.25 575.02 319.8 576.1C326.35 577.18 330.6 578.45 338.3 579.3C346 580.15 354.72 580.65 366 581.2C377.28 581.75 399.33 582.37 406 582.6" stroke="#c01a1e" stroke-width="2" fill="none"/>
<text x="65.8" y="551.6" font-size="10" text-anchor="end" fill="#000" font-weight="bold" font-family="Liberation Serif" stroke="#000" stroke-width="0.22">ICP</text>
<text x="65.8" y="626.9" font-size="10" text-anchor="end" fill="#000" font-weight="bold" font-family="Liberation Serif" stroke="#000" stroke-width="0.22">MAP</text>
<text x="23" y="569.5" font-size="10" text-anchor="middle" fill="#000" font-weight="bold" font-family="Liberation Serif" transform="rotate(-90 23 569.5)" stroke="#000" stroke-width="0.22">T2DMED</text>
<rect x="440" y="14.1" width="292.3" height="156.9" fill="#ececec"/>
<rect x="440" y="14.1" width="292.3" height="4.2" fill="url(#tgrad)"/>
<rect x="440.6" y="14.7" width="1.6" height="3" fill="#d04050"/>
<rect x="442.2" y="14.7" width="1.4" height="3" fill="#f0f0f0"/>
<rect x="445" y="15.2" width="2.3" height="2" fill="#c8d0f0" opacity="0.45"/>
<rect x="447.9" y="15.2" width="2.3" height="2" fill="#c8d0f0" opacity="0.45"/>
<rect x="450.8" y="15.2" width="2.3" height="2" fill="#c8d0f0" opacity="0.45"/>
<rect x="453.7" y="15.2" width="2.3" height="2" fill="#c8d0f0" opacity="0.45"/>
<rect x="456.6" y="15.2" width="2.3" height="2" fill="#c8d0f0" opacity="0.45"/>
<rect x="459.5" y="15.2" width="2.3" height="2" fill="#c8d0f0" opacity="0.45"/>
<rect x="462.4" y="15.2" width="2.3" height="2" fill="#c8d0f0" opacity="0.45"/>
<rect x="465.3" y="15.2" width="2.3" height="2" fill="#c8d0f0" opacity="0.45"/>
<rect x="468.2" y="15.2" width="2.3" height="2" fill="#c8d0f0" opacity="0.45"/>
<rect x="471.1" y="15.2" width="2.3" height="2" fill="#c8d0f0" opacity="0.45"/>
<rect x="474" y="15.2" width="2.3" height="2" fill="#c8d0f0" opacity="0.45"/>
<rect x="476.9" y="15.2" width="2.3" height="2" fill="#c8d0f0" opacity="0.45"/>
<rect x="479.8" y="15.2" width="2.3" height="2" fill="#c8d0f0" opacity="0.45"/>
<rect x="482.7" y="15.2" width="2.3" height="2" fill="#c8d0f0" opacity="0.45"/>
<rect x="485.6" y="15.2" width="2.3" height="2" fill="#c8d0f0" opacity="0.45"/>
<rect x="488.5" y="15.2" width="2.3" height="2" fill="#c8d0f0" opacity="0.45"/>
<rect x="718.3" y="15" width="3.3" height="2.4" fill="#5d6fb0"/>
<rect x="722.6" y="15" width="3.3" height="2.4" fill="#5d6fb0"/>
<rect x="726.9" y="15" width="3.3" height="2.4" fill="#5d6fb0"/>
<rect x="440" y="18.3" width="292.3" height="3.4" fill="#e0e0ec"/>
<rect x="440.8" y="18.8" width="2.6" height="2.4" fill="#a060a0"/>
<rect x="445" y="19.1" width="1.5" height="1.5" fill="#78788a"/>
<rect x="446.9" y="19.1" width="1.5" height="1.5" fill="#78788a"/>
<rect x="448.8" y="19.1" width="1.5" height="1.5" fill="#78788a"/>
<rect x="450.7" y="19.1" width="1.5" height="1.5" fill="#78788a"/>
<rect x="456.3" y="19.1" width="1.5" height="1.5" fill="#78788a"/>
<rect x="458.2" y="19.1" width="1.5" height="1.5" fill="#78788a"/>
<rect x="460.1" y="19.1" width="1.5" height="1.5" fill="#78788a"/>
<rect x="462" y="19.1" width="1.5" height="1.5" fill="#78788a"/>
<rect x="467.6" y="19.1" width="1.5" height="1.5" fill="#78788a"/>
<rect x="469.5" y="19.1" width="1.5" height="1.5" fill="#78788a"/>
<rect x="471.4" y="19.1" width="1.5" height="1.5" fill="#78788a"/>
<rect x="473.3" y="19.1" width="1.5" height="1.5" fill="#78788a"/>
<rect x="478.9" y="19.1" width="1.5" height="1.5" fill="#78788a"/>
<rect x="480.8" y="19.1" width="1.5" height="1.5" fill="#78788a"/>
<rect x="482.7" y="19.1" width="1.5" height="1.5" fill="#78788a"/>
<rect x="484.6" y="19.1" width="1.5" height="1.5" fill="#78788a"/>
<rect x="490.2" y="19.1" width="1.5" height="1.5" fill="#78788a"/>
<rect x="492.1" y="19.1" width="1.5" height="1.5" fill="#78788a"/>
<rect x="494" y="19.1" width="1.5" height="1.5" fill="#78788a"/>
<rect x="495.9" y="19.1" width="1.5" height="1.5" fill="#78788a"/>
<rect x="501.5" y="19.1" width="1.5" height="1.5" fill="#78788a"/>
<rect x="503.4" y="19.1" width="1.5" height="1.5" fill="#78788a"/>
<rect x="505.3" y="19.1" width="1.5" height="1.5" fill="#78788a"/>
<rect x="507.2" y="19.1" width="1.5" height="1.5" fill="#78788a"/>
<rect x="512.8" y="19.1" width="1.5" height="1.5" fill="#78788a"/>
<rect x="514.7" y="19.1" width="1.5" height="1.5" fill="#78788a"/>
<rect x="516.6" y="19.1" width="1.5" height="1.5" fill="#78788a"/>
<rect x="518.5" y="19.1" width="1.5" height="1.5" fill="#78788a"/>
<rect x="524.1" y="19.1" width="1.5" height="1.5" fill="#78788a"/>
<rect x="526" y="19.1" width="1.5" height="1.5" fill="#78788a"/>
<rect x="527.9" y="19.1" width="1.5" height="1.5" fill="#78788a"/>
<rect x="529.8" y="19.1" width="1.5" height="1.5" fill="#78788a"/>
<rect x="535.4" y="19.1" width="1.5" height="1.5" fill="#78788a"/>
<rect x="537.3" y="19.1" width="1.5" height="1.5" fill="#78788a"/>
<rect x="539.2" y="19.1" width="1.5" height="1.5" fill="#78788a"/>
<rect x="541.1" y="19.1" width="1.5" height="1.5" fill="#78788a"/>
<rect x="546.7" y="19.1" width="1.5" height="1.5" fill="#78788a"/>
<rect x="548.6" y="19.1" width="1.5" height="1.5" fill="#78788a"/>
<rect x="550.5" y="19.1" width="1.5" height="1.5" fill="#78788a"/>
<rect x="552.4" y="19.1" width="1.5" height="1.5" fill="#78788a"/>
<rect x="440" y="21.7" width="292.3" height="8.7" fill="#ebebeb"/>
<rect x="442" y="22.6" width="2.6" height="2.8" fill="#b06060" opacity="0.8"/>
<rect x="445.6" y="22.6" width="2.6" height="2.8" fill="#80a0c8" opacity="0.8"/>
<rect x="449.2" y="22.6" width="2.6" height="2.8" fill="#9070b0" opacity="0.8"/>
<rect x="452.8" y="22.6" width="2.6" height="2.8" fill="#6090c0" opacity="0.8"/>
<rect x="456.4" y="22.6" width="2.6" height="2.8" fill="#b0b0b0" opacity="0.8"/>
<rect x="462.2" y="22.6" width="2.6" height="2.8" fill="#6070b0" opacity="0.8"/>
<rect x="465.8" y="22.6" width="2.6" height="2.8" fill="#c08050" opacity="0.8"/>
<rect x="469.4" y="22.6" width="2.6" height="2.8" fill="#a0a0c0" opacity="0.8"/>
<rect x="473" y="22.6" width="2.6" height="2.8" fill="#a05050" opacity="0.8"/>
<rect x="476.6" y="22.6" width="2.6" height="2.8" fill="#6080a8" opacity="0.8"/>
<rect x="482.4" y="22.6" width="2.6" height="2.8" fill="#70a070" opacity="0.8"/>
<rect x="486" y="22.6" width="2.6" height="2.8" fill="#7080b8" opacity="0.8"/>
<rect x="489.6" y="22.6" width="2.6" height="2.8" fill="#c07070" opacity="0.8"/>
<rect x="493.2" y="22.6" width="2.6" height="2.8" fill="#909090" opacity="0.8"/>
<rect x="496.8" y="22.6" width="2.6" height="2.8" fill="#b8a050" opacity="0.8"/>
<rect x="502.6" y="22.6" width="2.6" height="2.8" fill="#c0a060" opacity="0.8"/>
<rect x="506.2" y="22.6" width="2.6" height="2.8" fill="#80b080" opacity="0.8"/>
<rect x="509.8" y="22.6" width="2.6" height="2.8" fill="#b06060" opacity="0.8"/>
<rect x="513.4" y="22.6" width="2.6" height="2.8" fill="#80a0c8" opacity="0.8"/>
<rect x="517" y="22.6" width="2.6" height="2.8" fill="#9070b0" opacity="0.8"/>
<rect x="522.8" y="22.6" width="2.6" height="2.8" fill="#6090c0" opacity="0.8"/>
<rect x="526.4" y="22.6" width="2.6" height="2.8" fill="#b0b0b0" opacity="0.8"/>
<rect x="530" y="22.6" width="2.6" height="2.8" fill="#6070b0" opacity="0.8"/>
<rect x="533.6" y="22.6" width="2.6" height="2.8" fill="#c08050" opacity="0.8"/>
<rect x="537.2" y="22.6" width="2.6" height="2.8" fill="#a0a0c0" opacity="0.8"/>
<rect x="543" y="22.6" width="2.6" height="2.8" fill="#a05050" opacity="0.8"/>
<rect x="546.6" y="22.6" width="2.6" height="2.8" fill="#6080a8" opacity="0.8"/>
<rect x="550.2" y="22.6" width="2.6" height="2.8" fill="#70a070" opacity="0.8"/>
<rect x="553.8" y="22.6" width="2.6" height="2.8" fill="#7080b8" opacity="0.8"/>
<rect x="557.4" y="22.6" width="2.6" height="2.8" fill="#c07070" opacity="0.8"/>
<rect x="563.2" y="22.6" width="2.6" height="2.8" fill="#909090" opacity="0.8"/>
<rect x="566.8" y="22.6" width="2.6" height="2.8" fill="#b8a050" opacity="0.8"/>
<rect x="570.4" y="22.6" width="2.6" height="2.8" fill="#c0a060" opacity="0.8"/>
<rect x="574" y="22.6" width="2.6" height="2.8" fill="#80b080" opacity="0.8"/>
<rect x="577.6" y="22.6" width="2.6" height="2.8" fill="#b06060" opacity="0.8"/>
<rect x="583.4" y="22.6" width="2.6" height="2.8" fill="#80a0c8" opacity="0.8"/>
<rect x="587" y="22.6" width="2.6" height="2.8" fill="#9070b0" opacity="0.8"/>
<line x1="440" y1="26.2" x2="732.3" y2="26.2" stroke="#c8c8c8" stroke-width="0.5"/>
<rect x="441" y="26.9" width="2.6" height="2.8" fill="#70a070"/>
<rect x="444.5" y="27" width="14" height="2.6" fill="#fafafa" stroke="#909090" stroke-width="0.4"/>
<rect x="445.5" y="27.7" width="9" height="1.3" fill="#555"/>
<rect x="461" y="26.9" width="2.6" height="2.8" fill="#c09040"/>
<rect x="464" y="27" width="40" height="2.6" fill="#fafafa" stroke="#909090" stroke-width="0.4"/>
<rect x="465" y="27.7" width="7" height="1.3" fill="#666"/>
<rect x="492" y="27.7" width="5" height="1.3" fill="#555"/>
<rect x="506" y="27" width="10" height="2.6" fill="#fafafa" stroke="#909090" stroke-width="0.4"/>
<rect x="518" y="27" width="9" height="2.4" fill="#7898e8"/>
<rect x="664" y="27" width="22" height="2.6" fill="#f6f6f6" stroke="#a0a0a0" stroke-width="0.4"/>
<rect x="666" y="27.4" width="3" height="2" fill="#8888d0"/>
<rect x="674" y="27.4" width="3" height="2" fill="#9070c0"/>
<rect x="688" y="27" width="42" height="2.6" fill="#f6f6f6" stroke="#a0a0a0" stroke-width="0.4"/>
<rect x="692" y="27.7" width="24" height="1.3" fill="#777"/>
<rect x="726" y="27.1" width="3" height="2.4" fill="#50a050"/>
<line x1="440" y1="30" x2="732.3" y2="30" stroke="#9a9a9a" stroke-width="0.8"/>
<rect x="440" y="30.4" width="21.7" height="136.7" fill="#ebebeb"/>
<rect x="461.7" y="30.4" width="243.3" height="127.1" fill="#fffdfb"/>
<line x1="464.7" y1="30.4" x2="464.7" y2="157.5" stroke="#fcebdc" stroke-width="0.55"/>
<line x1="469.26" y1="30.4" x2="469.26" y2="157.5" stroke="#fcebdc" stroke-width="0.55"/>
<line x1="473.82" y1="30.4" x2="473.82" y2="157.5" stroke="#fcebdc" stroke-width="0.55"/>
<line x1="478.38" y1="30.4" x2="478.38" y2="157.5" stroke="#fcebdc" stroke-width="0.55"/>
<line x1="482.94" y1="30.4" x2="482.94" y2="157.5" stroke="#fcebdc" stroke-width="0.55"/>
<line x1="487.5" y1="30.4" x2="487.5" y2="157.5" stroke="#fcebdc" stroke-width="0.55"/>
<line x1="492.06" y1="30.4" x2="492.06" y2="157.5" stroke="#fcebdc" stroke-width="0.55"/>
<line x1="496.62" y1="30.4" x2="496.62" y2="157.5" stroke="#fcebdc" stroke-width="0.55"/>
<line x1="501.18" y1="30.4" x2="501.18" y2="157.5" stroke="#fcebdc" stroke-width="0.55"/>
<line x1="505.74" y1="30.4" x2="505.74" y2="157.5" stroke="#fcebdc" stroke-width="0.55"/>
<line x1="510.3" y1="30.4" x2="510.3" y2="157.5" stroke="#fcebdc" stroke-width="0.55"/>
<line x1="514.86" y1="30.4" x2="514.86" y2="157.5" stroke="#fcebdc" stroke-width="0.55"/>
<line x1="519.42" y1="30.4" x2="519.42" y2="157.5" stroke="#fcebdc" stroke-width="0.55"/>
<line x1="523.98" y1="30.4" x2="523.98" y2="157.5" stroke="#fcebdc" stroke-width="0.55"/>
<line x1="528.54" y1="30.4" x2="528.54" y2="157.5" stroke="#fcebdc" stroke-width="0.55"/>
<line x1="533.1" y1="30.4" x2="533.1" y2="157.5" stroke="#fcebdc" stroke-width="0.55"/>
<line x1="537.66" y1="30.4" x2="537.66" y2="157.5" stroke="#fcebdc" stroke-width="0.55"/>
<line x1="542.22" y1="30.4" x2="542.22" y2="157.5" stroke="#fcebdc" stroke-width="0.55"/>
<line x1="546.78" y1="30.4" x2="546.78" y2="157.5" stroke="#fcebdc" stroke-width="0.55"/>
<line x1="551.34" y1="30.4" x2="551.34" y2="157.5" stroke="#fcebdc" stroke-width="0.55"/>
<line x1="555.9" y1="30.4" x2="555.9" y2="157.5" stroke="#fcebdc" stroke-width="0.55"/>
<line x1="560.46" y1="30.4" x2="560.46" y2="157.5" stroke="#fcebdc" stroke-width="0.55"/>
<line x1="565.02" y1="30.4" x2="565.02" y2="157.5" stroke="#fcebdc" stroke-width="0.55"/>
<line x1="569.58" y1="30.4" x2="569.58" y2="157.5" stroke="#fcebdc" stroke-width="0.55"/>
<line x1="574.14" y1="30.4" x2="574.14" y2="157.5" stroke="#fcebdc" stroke-width="0.55"/>
<line x1="578.7" y1="30.4" x2="578.7" y2="157.5" stroke="#fcebdc" stroke-width="0.55"/>
<line x1="583.26" y1="30.4" x2="583.26" y2="157.5" stroke="#fcebdc" stroke-width="0.55"/>
<line x1="587.82" y1="30.4" x2="587.82" y2="157.5" stroke="#fcebdc" stroke-width="0.55"/>
<line x1="592.38" y1="30.4" x2="592.38" y2="157.5" stroke="#fcebdc" stroke-width="0.55"/>
<line x1="596.94" y1="30.4" x2="596.94" y2="157.5" stroke="#fcebdc" stroke-width="0.55"/>
<line x1="601.5" y1="30.4" x2="601.5" y2="157.5" stroke="#fcebdc" stroke-width="0.55"/>
<line x1="606.06" y1="30.4" x2="606.06" y2="157.5" stroke="#fcebdc" stroke-width="0.55"/>
<line x1="610.62" y1="30.4" x2="610.62" y2="157.5" stroke="#fcebdc" stroke-width="0.55"/>
<line x1="615.18" y1="30.4" x2="615.18" y2="157.5" stroke="#fcebdc" stroke-width="0.55"/>
<line x1="619.74" y1="30.4" x2="619.74" y2="157.5" stroke="#fcebdc" stroke-width="0.55"/>
<line x1="624.3" y1="30.4" x2="624.3" y2="157.5" stroke="#fcebdc" stroke-width="0.55"/>
<line x1="628.86" y1="30.4" x2="628.86" y2="157.5" stroke="#fcebdc" stroke-width="0.55"/>
<line x1="633.42" y1="30.4" x2="633.42" y2="157.5" stroke="#fcebdc" stroke-width="0.55"/>
<line x1="637.98" y1="30.4" x2="637.98" y2="157.5" stroke="#fcebdc" stroke-width="0.55"/>
<line x1="642.54" y1="30.4" x2="642.54" y2="157.5" stroke="#fcebdc" stroke-width="0.55"/>
<line x1="647.1" y1="30.4" x2="647.1" y2="157.5" stroke="#fcebdc" stroke-width="0.55"/>
<line x1="651.66" y1="30.4" x2="651.66" y2="157.5" stroke="#fcebdc" stroke-width="0.55"/>
<line x1="656.22" y1="30.4" x2="656.22" y2="157.5" stroke="#fcebdc" stroke-width="0.55"/>
<line x1="660.78" y1="30.4" x2="660.78" y2="157.5" stroke="#fcebdc" stroke-width="0.55"/>
<line x1="665.34" y1="30.4" x2="665.34" y2="157.5" stroke="#fcebdc" stroke-width="0.55"/>
<line x1="669.9" y1="30.4" x2="669.9" y2="157.5" stroke="#fcebdc" stroke-width="0.55"/>
<line x1="674.46" y1="30.4" x2="674.46" y2="157.5" stroke="#fcebdc" stroke-width="0.55"/>
<line x1="679.02" y1="30.4" x2="679.02" y2="157.5" stroke="#fcebdc" stroke-width="0.55"/>
<line x1="683.58" y1="30.4" x2="683.58" y2="157.5" stroke="#fcebdc" stroke-width="0.55"/>
<line x1="688.14" y1="30.4" x2="688.14" y2="157.5" stroke="#fcebdc" stroke-width="0.55"/>
<line x1="692.7" y1="30.4" x2="692.7" y2="157.5" stroke="#fcebdc" stroke-width="0.55"/>
<line x1="697.26" y1="30.4" x2="697.26" y2="157.5" stroke="#fcebdc" stroke-width="0.55"/>
<line x1="701.82" y1="30.4" x2="701.82" y2="157.5" stroke="#fcebdc" stroke-width="0.55"/>
<line x1="461.7" y1="34.9" x2="705" y2="34.9" stroke="#fcebdc" stroke-width="0.55"/>
<line x1="461.7" y1="39.48" x2="705" y2="39.48" stroke="#fcebdc" stroke-width="0.55"/>
<line x1="461.7" y1="44.06" x2="705" y2="44.06" stroke="#fcebdc" stroke-width="0.55"/>
<line x1="461.7" y1="48.64" x2="705" y2="48.64" stroke="#fcebdc" stroke-width="0.55"/>
<line x1="461.7" y1="53.22" x2="705" y2="53.22" stroke="#fcebdc" stroke-width="0.55"/>
<line x1="461.7" y1="57.8" x2="705" y2="57.8" stroke="#fcebdc" stroke-width="0.55"/>
<line x1="461.7" y1="62.38" x2="705" y2="62.38" stroke="#fcebdc" stroke-width="0.55"/>
<line x1="461.7" y1="66.96" x2="705" y2="66.96" stroke="#fcebdc" stroke-width="0.55"/>
<line x1="461.7" y1="71.54" x2="705" y2="71.54" stroke="#fcebdc" stroke-width="0.55"/>
<line x1="461.7" y1="76.7" x2="705" y2="76.7" stroke="#fcebdc" stroke-width="0.55"/>
<line x1="461.7" y1="81.28" x2="705" y2="81.28" stroke="#fcebdc" stroke-width="0.55"/>
<line x1="461.7" y1="89.9" x2="705" y2="89.9" stroke="#fcebdc" stroke-width="0.55"/>
<line x1="461.7" y1="94.48" x2="705" y2="94.48" stroke="#fcebdc" stroke-width="0.55"/>
<line x1="461.7" y1="99.06" x2="705" y2="99.06" stroke="#fcebdc" stroke-width="0.55"/>
<line x1="461.7" y1="105.8" x2="705" y2="105.8" stroke="#fcebdc" stroke-width="0.55"/>
<line x1="461.7" y1="110.38" x2="705" y2="110.38" stroke="#fcebdc" stroke-width="0.55"/>
<line x1="461.7" y1="114.96" x2="705" y2="114.96" stroke="#fcebdc" stroke-width="0.55"/>
<line x1="461.7" y1="119.54" x2="705" y2="119.54" stroke="#fcebdc" stroke-width="0.55"/>
<line x1="461.7" y1="124.12" x2="705" y2="124.12" stroke="#fcebdc" stroke-width="0.55"/>
<line x1="461.7" y1="128.7" x2="705" y2="128.7" stroke="#fcebdc" stroke-width="0.55"/>
<line x1="461.7" y1="133.28" x2="705" y2="133.28" stroke="#fcebdc" stroke-width="0.55"/>
<line x1="461.7" y1="137.86" x2="705" y2="137.86" stroke="#fcebdc" stroke-width="0.55"/>
<line x1="461.7" y1="142.44" x2="705" y2="142.44" stroke="#fcebdc" stroke-width="0.55"/>
<line x1="461.7" y1="147.02" x2="705" y2="147.02" stroke="#fcebdc" stroke-width="0.55"/>
<line x1="461.7" y1="151.6" x2="705" y2="151.6" stroke="#fcebdc" stroke-width="0.55"/>
<line x1="461.7" y1="156.18" x2="705" y2="156.18" stroke="#fcebdc" stroke-width="0.55"/>
<rect x="705" y="30.4" width="27.3" height="136.7" fill="#ededed"/>
<line x1="440" y1="72.2" x2="732.3" y2="72.2" stroke="#a4a4a4" stroke-width="1"/>
<line x1="440" y1="85.4" x2="732.3" y2="85.4" stroke="#a4a4a4" stroke-width="1"/>
<line x1="440" y1="101.3" x2="732.3" y2="101.3" stroke="#a4a4a4" stroke-width="1"/>
<line x1="440" y1="157.5" x2="732.3" y2="157.5" stroke="#a4a4a4" stroke-width="1"/>
<line x1="461.7" y1="30.4" x2="461.7" y2="157.5" stroke="#8c8c8c" stroke-width="1"/>
<line x1="705" y1="30.4" x2="705" y2="167.1" stroke="#9a9a9a" stroke-width="1"/>
<line x1="440.4" y1="14.1" x2="440.4" y2="171" stroke="#6a6a6a" stroke-width="0.8"/>
<rect x="441" y="31.1" width="3" height="2.8" fill="#e02020"/>
<rect x="444.3" y="31.4" width="3.4" height="1.25" fill="#4a4a4a"/>
<rect x="448.3" y="31.7" width="0.8" height="0.9" fill="#666"/>
<rect x="444.3" y="33.3" width="1.45" height="1.25" fill="#4e4e4e"/>
<rect x="446" y="33.3" width="1.45" height="1.25" fill="#4e4e4e"/>
<rect x="447.7" y="33.3" width="1.45" height="1.25" fill="#4e4e4e"/>
<rect x="449.4" y="33.3" width="1.45" height="1.25" fill="#4e4e4e"/>
<rect x="444.3" y="35.2" width="1.45" height="1.25" fill="#4e4e4e"/>
<rect x="446" y="35.2" width="1.45" height="1.25" fill="#4e4e4e"/>
<rect x="447.7" y="35.2" width="1.45" height="1.25" fill="#4e4e4e"/>
<rect x="449.4" y="35.2" width="1.45" height="1.25" fill="#4e4e4e"/>
<rect x="453.6" y="35.2" width="3.5" height="1.2" fill="#6a6a6a"/>
<rect x="444.3" y="37.1" width="1.45" height="1.25" fill="#4e4e4e"/>
<rect x="446" y="37.1" width="1.45" height="1.25" fill="#4e4e4e"/>
<rect x="447.7" y="37.1" width="1.45" height="1.25" fill="#4e4e4e"/>
<rect x="449.4" y="37.1" width="1.45" height="1.25" fill="#4e4e4e"/>
<rect x="453.6" y="37.1" width="4" height="1.2" fill="#6a6a6a"/>
<rect x="444.3" y="39" width="1.45" height="1.25" fill="#4e4e4e"/>
<rect x="446" y="39" width="1.45" height="1.25" fill="#4e4e4e"/>
<rect x="447.7" y="39" width="1.45" height="1.25" fill="#4e4e4e"/>
<rect x="449.4" y="39" width="1.45" height="1.25" fill="#4e4e4e"/>
<rect x="453.6" y="39" width="4" height="1.2" fill="#6a6a6a"/>
<rect x="444.3" y="40.9" width="1.45" height="1.25" fill="#4e4e4e"/>
<rect x="446" y="40.9" width="1.45" height="1.25" fill="#4e4e4e"/>
<rect x="447.7" y="40.9" width="1.45" height="1.25" fill="#4e4e4e"/>
<rect x="449.4" y="40.9" width="1.45" height="1.25" fill="#4e4e4e"/>
<rect x="453.6" y="40.9" width="3.5" height="1.2" fill="#6a6a6a"/>
<rect x="444.3" y="42.8" width="1.45" height="1.25" fill="#4e4e4e"/>
<rect x="446" y="42.8" width="1.45" height="1.25" fill="#4e4e4e"/>
<rect x="447.7" y="42.8" width="1.45" height="1.25" fill="#4e4e4e"/>
<rect x="444.3" y="44.7" width="3" height="1.2" fill="#6a6a6a"/>
<rect x="448" y="44.7" width="12.8" height="1.3" fill="#555"/>
<rect x="441" y="72.9" width="3" height="2.8" fill="#2020e0"/>
<rect x="444.3" y="73.2" width="3.4" height="1.25" fill="#4a4a4a"/>
<rect x="448.3" y="73.5" width="0.8" height="0.9" fill="#666"/>
<rect x="444.3" y="75.1" width="1.45" height="1.25" fill="#4e4e4e"/>
<rect x="446" y="75.1" width="1.45" height="1.25" fill="#4e4e4e"/>
<rect x="447.7" y="75.1" width="1.45" height="1.25" fill="#4e4e4e"/>
<rect x="444.3" y="77" width="1.45" height="1.25" fill="#4e4e4e"/>
<rect x="446" y="77" width="1.45" height="1.25" fill="#4e4e4e"/>
<rect x="447.7" y="77" width="1.45" height="1.25" fill="#4e4e4e"/>
<rect x="449.4" y="77" width="1.45" height="1.25" fill="#4e4e4e"/>
<rect x="453.6" y="77" width="3.5" height="1.2" fill="#6a6a6a"/>
<rect x="444.3" y="78.9" width="1.45" height="1.25" fill="#4e4e4e"/>
<rect x="446" y="78.9" width="1.45" height="1.25" fill="#4e4e4e"/>
<rect x="447.7" y="78.9" width="1.45" height="1.25" fill="#4e4e4e"/>
<rect x="453.6" y="78.9" width="4" height="1.2" fill="#6a6a6a"/>
<rect x="444.3" y="80.8" width="1.45" height="1.25" fill="#4e4e4e"/>
<rect x="446" y="80.8" width="1.45" height="1.25" fill="#4e4e4e"/>
<rect x="447.7" y="80.8" width="1.45" height="1.25" fill="#4e4e4e"/>
<rect x="449.4" y="80.8" width="1.45" height="1.25" fill="#4e4e4e"/>
<rect x="453.6" y="80.8" width="3.5" height="1.2" fill="#6a6a6a"/>
<rect x="444.3" y="82.7" width="1.45" height="1.25" fill="#4e4e4e"/>
<rect x="446" y="82.7" width="1.45" height="1.25" fill="#4e4e4e"/>
<rect x="447.7" y="82.7" width="1.45" height="1.25" fill="#4e4e4e"/>
<rect x="449.4" y="82.7" width="1.45" height="1.25" fill="#4e4e4e"/>
<rect x="453.6" y="82.7" width="3.5" height="1.2" fill="#6a6a6a"/>
<rect x="441" y="86.1" width="3" height="2.8" fill="#208020"/>
<rect x="444.3" y="86.4" width="3.4" height="1.25" fill="#4a4a4a"/>
<rect x="448.3" y="86.7" width="0.8" height="0.9" fill="#666"/>
<rect x="444.3" y="88.3" width="1.45" height="1.25" fill="#4e4e4e"/>
<rect x="446" y="88.3" width="1.45" height="1.25" fill="#4e4e4e"/>
<rect x="447.7" y="88.3" width="1.45" height="1.25" fill="#4e4e4e"/>
<rect x="449.4" y="88.3" width="1.45" height="1.25" fill="#4e4e4e"/>
<rect x="444.3" y="90.2" width="1.45" height="1.25" fill="#4e4e4e"/>
<rect x="446" y="90.2" width="1.45" height="1.25" fill="#4e4e4e"/>
<rect x="447.7" y="90.2" width="1.45" height="1.25" fill="#4e4e4e"/>
<rect x="449.4" y="90.2" width="1.45" height="1.25" fill="#4e4e4e"/>
<rect x="453.6" y="90.2" width="2.5" height="1.2" fill="#6a6a6a"/>
<rect x="444.3" y="92.1" width="1.45" height="1.25" fill="#4e4e4e"/>
<rect x="446" y="92.1" width="1.45" height="1.25" fill="#4e4e4e"/>
<rect x="447.7" y="92.1" width="1.45" height="1.25" fill="#4e4e4e"/>
<rect x="449.4" y="92.1" width="1.45" height="1.25" fill="#4e4e4e"/>
<rect x="453.6" y="92.1" width="3.5" height="1.2" fill="#6a6a6a"/>
<rect x="444.3" y="94" width="1.45" height="1.25" fill="#4e4e4e"/>
<rect x="446" y="94" width="1.45" height="1.25" fill="#4e4e4e"/>
<rect x="447.7" y="94" width="1.45" height="1.25" fill="#4e4e4e"/>
<rect x="449.4" y="94" width="1.45" height="1.25" fill="#4e4e4e"/>
<rect x="453.6" y="94" width="4" height="1.2" fill="#6a6a6a"/>
<rect x="444.3" y="95.9" width="1.45" height="1.25" fill="#4e4e4e"/>
<rect x="446" y="95.9" width="1.45" height="1.25" fill="#4e4e4e"/>
<rect x="447.7" y="95.9" width="1.45" height="1.25" fill="#4e4e4e"/>
<rect x="449.4" y="95.9" width="1.45" height="1.25" fill="#4e4e4e"/>
<rect x="453.6" y="95.9" width="2.5" height="1.2" fill="#6a6a6a"/>
<rect x="444.3" y="97.8" width="1.45" height="1.25" fill="#4e4e4e"/>
<rect x="446" y="97.8" width="1.45" height="1.25" fill="#4e4e4e"/>
<rect x="447.7" y="97.8" width="1.45" height="1.25" fill="#4e4e4e"/>
<rect x="449.4" y="97.8" width="1.45" height="1.25" fill="#4e4e4e"/>
<rect x="441" y="102" width="3" height="2.8" fill="#e020e0"/>
<rect x="444.3" y="102.3" width="3.4" height="1.25" fill="#4a4a4a"/>
<rect x="448.3" y="102.6" width="0.8" height="0.9" fill="#666"/>
<rect x="444.3" y="104.2" width="1.45" height="1.25" fill="#4e4e4e"/>
<rect x="446" y="104.2" width="1.45" height="1.25" fill="#4e4e4e"/>
<rect x="447.7" y="104.2" width="1.45" height="1.25" fill="#4e4e4e"/>
<rect x="449.4" y="104.2" width="1.45" height="1.25" fill="#4e4e4e"/>
<rect x="444.3" y="106.1" width="1.45" height="1.25" fill="#4e4e4e"/>
<rect x="446" y="106.1" width="1.45" height="1.25" fill="#4e4e4e"/>
<rect x="447.7" y="106.1" width="1.45" height="1.25" fill="#4e4e4e"/>
<rect x="449.4" y="106.1" width="1.45" height="1.25" fill="#4e4e4e"/>
<rect x="453.6" y="106.1" width="3.5" height="1.2" fill="#6a6a6a"/>
<rect x="444.3" y="108" width="1.45" height="1.25" fill="#4e4e4e"/>
<rect x="446" y="108" width="1.45" height="1.25" fill="#4e4e4e"/>
<rect x="447.7" y="108" width="1.45" height="1.25" fill="#4e4e4e"/>
<rect x="449.4" y="108" width="1.45" height="1.25" fill="#4e4e4e"/>
<rect x="453.6" y="108" width="4" height="1.2" fill="#6a6a6a"/>
<rect x="444.3" y="109.9" width="1.45" height="1.25" fill="#4e4e4e"/>
<rect x="446" y="109.9" width="1.45" height="1.25" fill="#4e4e4e"/>
<rect x="447.7" y="109.9" width="1.45" height="1.25" fill="#4e4e4e"/>
<rect x="453.6" y="109.9" width="2.5" height="1.2" fill="#6a6a6a"/>
<rect x="444.3" y="111.8" width="1.45" height="1.25" fill="#4e4e4e"/>
<rect x="446" y="111.8" width="1.45" height="1.25" fill="#4e4e4e"/>
<rect x="447.7" y="111.8" width="1.45" height="1.25" fill="#4e4e4e"/>
<rect x="453.6" y="111.8" width="4" height="1.2" fill="#6a6a6a"/>
<rect x="444.3" y="113.7" width="1.45" height="1.25" fill="#4e4e4e"/>
<rect x="446" y="113.7" width="1.45" height="1.25" fill="#4e4e4e"/>
<rect x="447.7" y="113.7" width="1.45" height="1.25" fill="#4e4e4e"/>
<rect x="449.4" y="113.7" width="1.45" height="1.25" fill="#4e4e4e"/>
<rect x="715" y="31.9" width="4" height="1.2" fill="#555"/>
<rect x="715" y="33.4" width="5" height="1.2" fill="#e04040"/>
<rect x="706.5" y="33.4" width="3" height="1" fill="#909090"/>
<rect x="706.5" y="38" width="3" height="1" fill="#909090"/>
<rect x="706.5" y="42.6" width="3" height="1" fill="#909090"/>
<rect x="706.5" y="47.2" width="3" height="1" fill="#909090"/>
<rect x="706.5" y="51.8" width="3" height="1" fill="#909090"/>
<rect x="706.5" y="56.4" width="3" height="1" fill="#909090"/>
<rect x="706.5" y="61" width="3" height="1" fill="#909090"/>
<rect x="706.5" y="65.6" width="3" height="1" fill="#909090"/>
<rect x="706.5" y="70.2" width="3" height="1" fill="#909090"/>
<rect x="728.3" y="66.2" width="1.2" height="4" fill="#9a9ad0"/>
<rect x="715" y="73.7" width="4" height="1.2" fill="#555"/>
<rect x="715" y="75.2" width="5" height="1.2" fill="#e04040"/>
<rect x="706.5" y="75.2" width="3" height="1" fill="#909090"/>
<rect x="706.5" y="79.3" width="3" height="1" fill="#909090"/>
<rect x="706.5" y="83.4" width="3" height="1" fill="#909090"/>
<rect x="728.3" y="79.4" width="1.2" height="4" fill="#9a9ad0"/>
<rect x="715" y="86.9" width="4" height="1.2" fill="#555"/>
<rect x="715" y="88.4" width="5" height="1.2" fill="#e04040"/>
<rect x="706.5" y="88.4" width="3" height="1" fill="#909090"/>
<rect x="706.5" y="93.85" width="3" height="1" fill="#909090"/>
<rect x="706.5" y="99.3" width="3" height="1" fill="#909090"/>
<rect x="728.3" y="95.3" width="1.2" height="4" fill="#9a9ad0"/>
<rect x="715" y="102.8" width="4" height="1.2" fill="#555"/>
<rect x="715" y="104.3" width="5" height="1.2" fill="#e04040"/>
<rect x="706.5" y="104.3" width="3" height="1" fill="#909090"/>
<rect x="706.5" y="108.57" width="3" height="1" fill="#909090"/>
<rect x="706.5" y="112.83" width="3" height="1" fill="#909090"/>
<rect x="706.5" y="117.1" width="3" height="1" fill="#909090"/>
<rect x="706.5" y="121.37" width="3" height="1" fill="#909090"/>
<rect x="706.5" y="125.63" width="3" height="1" fill="#909090"/>
<rect x="706.5" y="129.9" width="3" height="1" fill="#909090"/>
<rect x="706.5" y="134.17" width="3" height="1" fill="#909090"/>
<rect x="706.5" y="138.43" width="3" height="1" fill="#909090"/>
<rect x="706.5" y="142.7" width="3" height="1" fill="#909090"/>
<rect x="706.5" y="146.97" width="3" height="1" fill="#909090"/>
<rect x="706.5" y="151.23" width="3" height="1" fill="#909090"/>
<rect x="706.5" y="155.5" width="3" height="1" fill="#909090"/>
<rect x="728.3" y="151.5" width="1.2" height="4" fill="#9a9ad0"/>
<rect x="461.7" y="157.5" width="243.3" height="9.6" fill="#ffffff"/>
<rect x="461.7" y="164.1" width="243.3" height="3" fill="#f2f2f2"/>
<rect x="469.7" y="159.8" width="4.5" height="1.3" fill="#9a9a9a"/>
<rect x="487.8" y="159.8" width="4.5" height="1.3" fill="#9a9a9a"/>
<rect x="505.9" y="159.8" width="4.5" height="1.3" fill="#9a9a9a"/>
<rect x="524" y="159.8" width="4.5" height="1.3" fill="#9a9a9a"/>
<rect x="542.1" y="159.8" width="4.5" height="1.3" fill="#9a9a9a"/>
<rect x="560.2" y="159.8" width="4.5" height="1.3" fill="#9a9a9a"/>
<rect x="578.3" y="159.8" width="4.5" height="1.3" fill="#9a9a9a"/>
<rect x="596.4" y="159.8" width="4.5" height="1.3" fill="#9a9a9a"/>
<rect x="614.5" y="159.8" width="4.5" height="1.3" fill="#9a9a9a"/>
<rect x="632.6" y="159.8" width="4.5" height="1.3" fill="#9a9a9a"/>
<rect x="650.7" y="159.8" width="4.5" height="1.3" fill="#9a9a9a"/>
<rect x="668.8" y="159.8" width="4.5" height="1.3" fill="#9a9a9a"/>
<rect x="686.9" y="159.8" width="4.5" height="1.3" fill="#9a9a9a"/>
<text x="611.35" y="163.9" font-size="2.2" text-anchor="middle" fill="#777" font-weight="normal" font-family="Liberation Sans">seconds</text>
<rect x="441" y="159.1" width="2.2" height="2.2" fill="#50a050"/>
<rect x="444.5" y="159.5" width="12" height="1.4" fill="#888"/>
<rect x="442" y="162" width="17" height="4" fill="#f4f4f4" stroke="#b0b0b0" stroke-width="0.4"/>
<rect x="444" y="163.3" width="8" height="1.4" fill="#c05080"/>
<rect x="707" y="158.5" width="10" height="8" fill="#f0f0f0"/>
<rect x="709" y="159.5" width="3" height="3" fill="#3050d0"/>
<rect x="720" y="159" width="9" height="7" fill="#f6f6f6" stroke="#c0c0c0" stroke-width="0.4"/>
<rect x="440" y="167.1" width="292.3" height="3.9" fill="#e6e6e6"/>
<line x1="440" y1="167.1" x2="732.3" y2="167.1" stroke="#b0b0b0" stroke-width="0.6"/>
<rect x="442" y="168.3" width="2" height="1.6" fill="#d04040"/>
<rect x="446" y="168.3" width="24" height="1.6" fill="#707070"/>
<rect x="472" y="168.3" width="30" height="1.6" fill="#8a8a8a"/>
<rect x="667.3" y="168.3" width="62" height="1.6" fill="#8a8a8a"/>
<path d="M461.7 56.1 L561 56.1 L561.84 52.67 L562.68 49.59 L563.52 46.86 L564.37 44.47 L565.21 42.42 L566.05 40.69 L566.89 39.27 L567.73 38.16 L568.58 37.33 L569.42 36.78 L570.26 36.48 L571.1 36.4 L614.3 36.4 L615.3 38.36 L616.3 40.04 L617.3 41.51 L618.3 42.78 L619.3 43.9 L620.3 44.87 L621.3 45.74 L622.3 46.5 L623.3 47.18 L624.3 47.78 L625.3 48.33 L626.3 48.82 L627.3 49.27 L628.3 49.67 L629.3 50.04 L630.3 50.38 L631.3 50.69 L632.3 50.98 L633.3 51.25 L634.3 51.5 L637.3 52.16 L640.3 52.7 L643.3 53.15 L646.3 53.54 L649.3 53.88 L652.3 54.17 L655.3 54.41 L658.3 54.63 L661.3 54.82 L664.3 54.98 L667.3 55.13 L670.3 55.25 L673.3 55.36 L676.3 55.45 L679.3 55.54 L682.3 55.61 L685.3 55.67 L688.3 55.72 L691.3 55.77 L694.3 55.81 L697.3 55.85 L700.3 55.88 L703.3 55.91 L705 55.92" stroke="#e06a6a" stroke-width="0.9" fill="none"/>
<line x1="461.7" y1="80.38" x2="705" y2="80.38" stroke="#8c8cf0" stroke-width="0.9"/>
<line x1="461.7" y1="95.58" x2="705" y2="95.58" stroke="#90c890" stroke-width="0.8"/>
<rect x="461.7" y="132.9" width="99.8" height="4.38" fill="#f3c6f3"/>
<rect x="617" y="132.9" width="88" height="4.38" fill="#f3c6f3"/>
<rect x="461.7" y="137.28" width="99.8" height="2.19" fill="#f6d2f6"/>
<rect x="617" y="137.28" width="88" height="2.19" fill="#f6d2f6"/>
<path d="M462.2 132.78L462.2 138.62M464.8 132.8L464.8 139.65M467.4 132.63L467.4 138.9M470 133.76L470 138.7M472.6 133.71L472.6 139.32M475.2 133.35L475.2 138.76M477.8 132.66L477.8 139.53M480.4 133.34L480.4 138.51M483 133.46L483 138.87M485.6 133.01L485.6 138.88M488.2 133.25L488.2 138.48M490.8 133.8L490.8 139.3M493.4 132.67L493.4 139.75M496 132.96L496 139.25M498.6 132.89L498.6 138.66M501.2 133.45L501.2 139.24M503.8 133.67L503.8 138.7M506.4 133.68L506.4 139.52M509 132.67L509 139.02M511.6 132.99L511.6 139.82M514.2 132.93L514.2 138.86M516.8 133.46L516.8 138.73M519.4 133.66L519.4 138.57M522 133.23L522 139.58M524.6 133.57L524.6 138.81M527.2 133.03L527.2 139.22M529.8 133.43L529.8 139.19M532.4 133.59L532.4 139.72M535 133.31L535 139.83M537.6 133.47L537.6 139.74M540.2 133.41L540.2 139.67M542.8 133.78L542.8 138.93M545.4 133.72L545.4 139.84M548 133.13L548 139.83M550.6 133.17L550.6 138.77M553.2 133.79L553.2 138.5M555.8 132.79L555.8 139.84M558.4 132.85L558.4 139.76M561 132.9L561 138.87M618.2 133.48L618.2 139.84M620.8 133.11L620.8 139.22M623.4 133.43L623.4 139.11M626 133.33L626 138.61M628.6 133.1L628.6 138.66M631.2 133.59L631.2 139.78M633.8 133.8L633.8 139.5M636.4 133.79L636.4 138.63M639 133.61L639 139.76M641.6 132.87L641.6 139.83M644.2 133.75L644.2 139.9M646.8 133.56L646.8 139.84M649.4 132.63L649.4 138.67M652 132.95L652 139.3M654.6 133.38L654.6 139.57M657.2 133.37L657.2 138.81M659.8 132.63L659.8 139.77M662.4 133.3L662.4 139.41M665 133.67L665 139.85M667.6 133.52L667.6 138.54M670.2 132.7L670.2 138.86M672.8 133.62L672.8 138.63M675.4 133.26L675.4 139.66M678 133.44L678 138.88M680.6 132.62L680.6 139.42M683.2 133.08L683.2 139.33M685.8 133.47L685.8 139.61M688.4 133.69L688.4 139M691 133.29L691 138.51M693.6 132.69L693.6 139.21M696.2 133.5L696.2 139.24M698.8 133.63L698.8 139.14M701.4 133.38L701.4 139.71M704 132.73L704 138.98" stroke="#d266d6" stroke-width="1" fill="none"/>
<path d="M560.5 136.25 L564.5 136.8 L616 136.8 L619 136.25" stroke="#d466d8" stroke-width="0.9" fill="none"/>
<path d="M562.1 136.8 L562.9 129.9 L563.9 136.8" stroke="#d266d6" stroke-width="0.9" fill="none"/>
<path d="M584 136.8 L584.8 132.5 L585.8 136.8" stroke="#d266d6" stroke-width="0.9" fill="none"/>
<rect x="440" y="171.8" width="292.3" height="157.7" fill="#ececec"/>
<rect x="440" y="171.8" width="292.3" height="4.2" fill="url(#tgrad)"/>
<rect x="440.6" y="172.4" width="1.6" height="3" fill="#d04050"/>
<rect x="442.2" y="172.4" width="1.4" height="3" fill="#f0f0f0"/>
<rect x="445" y="172.9" width="2.3" height="2" fill="#c8d0f0" opacity="0.45"/>
<rect x="447.9" y="172.9" width="2.3" height="2" fill="#c8d0f0" opacity="0.45"/>
<rect x="450.8" y="172.9" width="2.3" height="2" fill="#c8d0f0" opacity="0.45"/>
<rect x="453.7" y="172.9" width="2.3" height="2" fill="#c8d0f0" opacity="0.45"/>
<rect x="456.6" y="172.9" width="2.3" height="2" fill="#c8d0f0" opacity="0.45"/>
<rect x="459.5" y="172.9" width="2.3" height="2" fill="#c8d0f0" opacity="0.45"/>
<rect x="462.4" y="172.9" width="2.3" height="2" fill="#c8d0f0" opacity="0.45"/>
<rect x="465.3" y="172.9" width="2.3" height="2" fill="#c8d0f0" opacity="0.45"/>
<rect x="468.2" y="172.9" width="2.3" height="2" fill="#c8d0f0" opacity="0.45"/>
<rect x="471.1" y="172.9" width="2.3" height="2" fill="#c8d0f0" opacity="0.45"/>
<rect x="474" y="172.9" width="2.3" height="2" fill="#c8d0f0" opacity="0.45"/>
<rect x="476.9" y="172.9" width="2.3" height="2" fill="#c8d0f0" opacity="0.45"/>
<rect x="479.8" y="172.9" width="2.3" height="2" fill="#c8d0f0" opacity="0.45"/>
<rect x="482.7" y="172.9" width="2.3" height="2" fill="#c8d0f0" opacity="0.45"/>
<rect x="485.6" y="172.9" width="2.3" height="2" fill="#c8d0f0" opacity="0.45"/>
<rect x="488.5" y="172.9" width="2.3" height="2" fill="#c8d0f0" opacity="0.45"/>
<rect x="718.3" y="172.7" width="3.3" height="2.4" fill="#5d6fb0"/>
<rect x="722.6" y="172.7" width="3.3" height="2.4" fill="#5d6fb0"/>
<rect x="726.9" y="172.7" width="3.3" height="2.4" fill="#5d6fb0"/>
<rect x="440" y="176" width="292.3" height="3.4" fill="#e0e0ec"/>
<rect x="440.8" y="176.5" width="2.6" height="2.4" fill="#a060a0"/>
<rect x="445" y="176.8" width="1.5" height="1.5" fill="#78788a"/>
<rect x="446.9" y="176.8" width="1.5" height="1.5" fill="#78788a"/>
<rect x="448.8" y="176.8" width="1.5" height="1.5" fill="#78788a"/>
<rect x="450.7" y="176.8" width="1.5" height="1.5" fill="#78788a"/>
<rect x="456.3" y="176.8" width="1.5" height="1.5" fill="#78788a"/>
<rect x="458.2" y="176.8" width="1.5" height="1.5" fill="#78788a"/>
<rect x="460.1" y="176.8" width="1.5" height="1.5" fill="#78788a"/>
<rect x="462" y="176.8" width="1.5" height="1.5" fill="#78788a"/>
<rect x="467.6" y="176.8" width="1.5" height="1.5" fill="#78788a"/>
<rect x="469.5" y="176.8" width="1.5" height="1.5" fill="#78788a"/>
<rect x="471.4" y="176.8" width="1.5" height="1.5" fill="#78788a"/>
<rect x="473.3" y="176.8" width="1.5" height="1.5" fill="#78788a"/>
<rect x="478.9" y="176.8" width="1.5" height="1.5" fill="#78788a"/>
<rect x="480.8" y="176.8" width="1.5" height="1.5" fill="#78788a"/>
<rect x="482.7" y="176.8" width="1.5" height="1.5" fill="#78788a"/>
<rect x="484.6" y="176.8" width="1.5" height="1.5" fill="#78788a"/>
<rect x="490.2" y="176.8" width="1.5" height="1.5" fill="#78788a"/>
<rect x="492.1" y="176.8" width="1.5" height="1.5" fill="#78788a"/>
<rect x="494" y="176.8" width="1.5" height="1.5" fill="#78788a"/>
<rect x="495.9" y="176.8" width="1.5" height="1.5" fill="#78788a"/>
<rect x="501.5" y="176.8" width="1.5" height="1.5" fill="#78788a"/>
<rect x="503.4" y="176.8" width="1.5" height="1.5" fill="#78788a"/>
<rect x="505.3" y="176.8" width="1.5" height="1.5" fill="#78788a"/>
<rect x="507.2" y="176.8" width="1.5" height="1.5" fill="#78788a"/>
<rect x="512.8" y="176.8" width="1.5" height="1.5" fill="#78788a"/>
<rect x="514.7" y="176.8" width="1.5" height="1.5" fill="#78788a"/>
<rect x="516.6" y="176.8" width="1.5" height="1.5" fill="#78788a"/>
<rect x="518.5" y="176.8" width="1.5" height="1.5" fill="#78788a"/>
<rect x="524.1" y="176.8" width="1.5" height="1.5" fill="#78788a"/>
<rect x="526" y="176.8" width="1.5" height="1.5" fill="#78788a"/>
<rect x="527.9" y="176.8" width="1.5" height="1.5" fill="#78788a"/>
<rect x="529.8" y="176.8" width="1.5" height="1.5" fill="#78788a"/>
<rect x="535.4" y="176.8" width="1.5" height="1.5" fill="#78788a"/>
<rect x="537.3" y="176.8" width="1.5" height="1.5" fill="#78788a"/>
<rect x="539.2" y="176.8" width="1.5" height="1.5" fill="#78788a"/>
<rect x="541.1" y="176.8" width="1.5" height="1.5" fill="#78788a"/>
<rect x="546.7" y="176.8" width="1.5" height="1.5" fill="#78788a"/>
<rect x="548.6" y="176.8" width="1.5" height="1.5" fill="#78788a"/>
<rect x="550.5" y="176.8" width="1.5" height="1.5" fill="#78788a"/>
<rect x="552.4" y="176.8" width="1.5" height="1.5" fill="#78788a"/>
<rect x="440" y="179.4" width="292.3" height="9.8" fill="#ebebeb"/>
<rect x="442" y="180.3" width="2.6" height="2.8" fill="#b06060" opacity="0.8"/>
<rect x="445.6" y="180.3" width="2.6" height="2.8" fill="#80a0c8" opacity="0.8"/>
<rect x="449.2" y="180.3" width="2.6" height="2.8" fill="#9070b0" opacity="0.8"/>
<rect x="452.8" y="180.3" width="2.6" height="2.8" fill="#6090c0" opacity="0.8"/>
<rect x="456.4" y="180.3" width="2.6" height="2.8" fill="#b0b0b0" opacity="0.8"/>
<rect x="462.2" y="180.3" width="2.6" height="2.8" fill="#6070b0" opacity="0.8"/>
<rect x="465.8" y="180.3" width="2.6" height="2.8" fill="#c08050" opacity="0.8"/>
<rect x="469.4" y="180.3" width="2.6" height="2.8" fill="#a0a0c0" opacity="0.8"/>
<rect x="473" y="180.3" width="2.6" height="2.8" fill="#a05050" opacity="0.8"/>
<rect x="476.6" y="180.3" width="2.6" height="2.8" fill="#6080a8" opacity="0.8"/>
<rect x="482.4" y="180.3" width="2.6" height="2.8" fill="#70a070" opacity="0.8"/>
<rect x="486" y="180.3" width="2.6" height="2.8" fill="#7080b8" opacity="0.8"/>
<rect x="489.6" y="180.3" width="2.6" height="2.8" fill="#c07070" opacity="0.8"/>
<rect x="493.2" y="180.3" width="2.6" height="2.8" fill="#909090" opacity="0.8"/>
<rect x="496.8" y="180.3" width="2.6" height="2.8" fill="#b8a050" opacity="0.8"/>
<rect x="502.6" y="180.3" width="2.6" height="2.8" fill="#c0a060" opacity="0.8"/>
<rect x="506.2" y="180.3" width="2.6" height="2.8" fill="#80b080" opacity="0.8"/>
<rect x="509.8" y="180.3" width="2.6" height="2.8" fill="#b06060" opacity="0.8"/>
<rect x="513.4" y="180.3" width="2.6" height="2.8" fill="#80a0c8" opacity="0.8"/>
<rect x="517" y="180.3" width="2.6" height="2.8" fill="#9070b0" opacity="0.8"/>
<rect x="522.8" y="180.3" width="2.6" height="2.8" fill="#6090c0" opacity="0.8"/>
<rect x="526.4" y="180.3" width="2.6" height="2.8" fill="#b0b0b0" opacity="0.8"/>
<rect x="530" y="180.3" width="2.6" height="2.8" fill="#6070b0" opacity="0.8"/>
<rect x="533.6" y="180.3" width="2.6" height="2.8" fill="#c08050" opacity="0.8"/>
<rect x="537.2" y="180.3" width="2.6" height="2.8" fill="#a0a0c0" opacity="0.8"/>
<rect x="543" y="180.3" width="2.6" height="2.8" fill="#a05050" opacity="0.8"/>
<rect x="546.6" y="180.3" width="2.6" height="2.8" fill="#6080a8" opacity="0.8"/>
<rect x="550.2" y="180.3" width="2.6" height="2.8" fill="#70a070" opacity="0.8"/>
<rect x="553.8" y="180.3" width="2.6" height="2.8" fill="#7080b8" opacity="0.8"/>
<rect x="557.4" y="180.3" width="2.6" height="2.8" fill="#c07070" opacity="0.8"/>
<rect x="563.2" y="180.3" width="2.6" height="2.8" fill="#909090" opacity="0.8"/>
<rect x="566.8" y="180.3" width="2.6" height="2.8" fill="#b8a050" opacity="0.8"/>
<rect x="570.4" y="180.3" width="2.6" height="2.8" fill="#c0a060" opacity="0.8"/>
<rect x="574" y="180.3" width="2.6" height="2.8" fill="#80b080" opacity="0.8"/>
<rect x="577.6" y="180.3" width="2.6" height="2.8" fill="#b06060" opacity="0.8"/>
<rect x="583.4" y="180.3" width="2.6" height="2.8" fill="#80a0c8" opacity="0.8"/>
<rect x="587" y="180.3" width="2.6" height="2.8" fill="#9070b0" opacity="0.8"/>
<line x1="440" y1="183.9" x2="732.3" y2="183.9" stroke="#c8c8c8" stroke-width="0.5"/>
<rect x="441" y="184.6" width="2.6" height="2.8" fill="#70a070"/>
<rect x="444.5" y="184.7" width="14" height="2.6" fill="#fafafa" stroke="#909090" stroke-width="0.4"/>
<rect x="445.5" y="185.4" width="9" height="1.3" fill="#555"/>
<rect x="461" y="184.6" width="2.6" height="2.8" fill="#c09040"/>
<rect x="464" y="184.7" width="40" height="2.6" fill="#fafafa" stroke="#909090" stroke-width="0.4"/>
<rect x="465" y="185.4" width="7" height="1.3" fill="#666"/>
<rect x="492" y="185.4" width="5" height="1.3" fill="#555"/>
<rect x="506" y="184.7" width="10" height="2.6" fill="#fafafa" stroke="#909090" stroke-width="0.4"/>
<rect x="518" y="184.7" width="9" height="2.4" fill="#7898e8"/>
<rect x="664" y="184.7" width="22" height="2.6" fill="#f6f6f6" stroke="#a0a0a0" stroke-width="0.4"/>
<rect x="666" y="185.1" width="3" height="2" fill="#8888d0"/>
<rect x="674" y="185.1" width="3" height="2" fill="#9070c0"/>
<rect x="688" y="184.7" width="42" height="2.6" fill="#f6f6f6" stroke="#a0a0a0" stroke-width="0.4"/>
<rect x="692" y="185.4" width="24" height="1.3" fill="#777"/>
<rect x="726" y="184.8" width="3" height="2.4" fill="#50a050"/>
<line x1="440" y1="188.8" x2="732.3" y2="188.8" stroke="#9a9a9a" stroke-width="0.8"/>
<rect x="440" y="189.2" width="21.7" height="136.6" fill="#ebebeb"/>
<rect x="461.7" y="189.2" width="243.3" height="126.8" fill="#fffdfb"/>
<line x1="464.7" y1="189.2" x2="464.7" y2="316" stroke="#fcebdc" stroke-width="0.55"/>
<line x1="469.26" y1="189.2" x2="469.26" y2="316" stroke="#fcebdc" stroke-width="0.55"/>
<line x1="473.82" y1="189.2" x2="473.82" y2="316" stroke="#fcebdc" stroke-width="0.55"/>
<line x1="478.38" y1="189.2" x2="478.38" y2="316" stroke="#fcebdc" stroke-width="0.55"/>
<line x1="482.94" y1="189.2" x2="482.94" y2="316" stroke="#fcebdc" stroke-width="0.55"/>
<line x1="487.5" y1="189.2" x2="487.5" y2="316" stroke="#fcebdc" stroke-width="0.55"/>
<line x1="492.06" y1="189.2" x2="492.06" y2="316" stroke="#fcebdc" stroke-width="0.55"/>
<line x1="496.62" y1="189.2" x2="496.62" y2="316" stroke="#fcebdc" stroke-width="0.55"/>
<line x1="501.18" y1="189.2" x2="501.18" y2="316" stroke="#fcebdc" stroke-width="0.55"/>
<line x1="505.74" y1="189.2" x2="505.74" y2="316" stroke="#fcebdc" stroke-width="0.55"/>
<line x1="510.3" y1="189.2" x2="510.3" y2="316" stroke="#fcebdc" stroke-width="0.55"/>
<line x1="514.86" y1="189.2" x2="514.86" y2="316" stroke="#fcebdc" stroke-width="0.55"/>
<line x1="519.42" y1="189.2" x2="519.42" y2="316" stroke="#fcebdc" stroke-width="0.55"/>
<line x1="523.98" y1="189.2" x2="523.98" y2="316" stroke="#fcebdc" stroke-width="0.55"/>
<line x1="528.54" y1="189.2" x2="528.54" y2="316" stroke="#fcebdc" stroke-width="0.55"/>
<line x1="533.1" y1="189.2" x2="533.1" y2="316" stroke="#fcebdc" stroke-width="0.55"/>
<line x1="537.66" y1="189.2" x2="537.66" y2="316" stroke="#fcebdc" stroke-width="0.55"/>
<line x1="542.22" y1="189.2" x2="542.22" y2="316" stroke="#fcebdc" stroke-width="0.55"/>
<line x1="546.78" y1="189.2" x2="546.78" y2="316" stroke="#fcebdc" stroke-width="0.55"/>
<line x1="551.34" y1="189.2" x2="551.34" y2="316" stroke="#fcebdc" stroke-width="0.55"/>
<line x1="555.9" y1="189.2" x2="555.9" y2="316" stroke="#fcebdc" stroke-width="0.55"/>
<line x1="560.46" y1="189.2" x2="560.46" y2="316" stroke="#fcebdc" stroke-width="0.55"/>
<line x1="565.02" y1="189.2" x2="565.02" y2="316" stroke="#fcebdc" stroke-width="0.55"/>
<line x1="569.58" y1="189.2" x2="569.58" y2="316" stroke="#fcebdc" stroke-width="0.55"/>
<line x1="574.14" y1="189.2" x2="574.14" y2="316" stroke="#fcebdc" stroke-width="0.55"/>
<line x1="578.7" y1="189.2" x2="578.7" y2="316" stroke="#fcebdc" stroke-width="0.55"/>
<line x1="583.26" y1="189.2" x2="583.26" y2="316" stroke="#fcebdc" stroke-width="0.55"/>
<line x1="587.82" y1="189.2" x2="587.82" y2="316" stroke="#fcebdc" stroke-width="0.55"/>
<line x1="592.38" y1="189.2" x2="592.38" y2="316" stroke="#fcebdc" stroke-width="0.55"/>
<line x1="596.94" y1="189.2" x2="596.94" y2="316" stroke="#fcebdc" stroke-width="0.55"/>
<line x1="601.5" y1="189.2" x2="601.5" y2="316" stroke="#fcebdc" stroke-width="0.55"/>
<line x1="606.06" y1="189.2" x2="606.06" y2="316" stroke="#fcebdc" stroke-width="0.55"/>
<line x1="610.62" y1="189.2" x2="610.62" y2="316" stroke="#fcebdc" stroke-width="0.55"/>
<line x1="615.18" y1="189.2" x2="615.18" y2="316" stroke="#fcebdc" stroke-width="0.55"/>
<line x1="619.74" y1="189.2" x2="619.74" y2="316" stroke="#fcebdc" stroke-width="0.55"/>
<line x1="624.3" y1="189.2" x2="624.3" y2="316" stroke="#fcebdc" stroke-width="0.55"/>
<line x1="628.86" y1="189.2" x2="628.86" y2="316" stroke="#fcebdc" stroke-width="0.55"/>
<line x1="633.42" y1="189.2" x2="633.42" y2="316" stroke="#fcebdc" stroke-width="0.55"/>
<line x1="637.98" y1="189.2" x2="637.98" y2="316" stroke="#fcebdc" stroke-width="0.55"/>
<line x1="642.54" y1="189.2" x2="642.54" y2="316" stroke="#fcebdc" stroke-width="0.55"/>
<line x1="647.1" y1="189.2" x2="647.1" y2="316" stroke="#fcebdc" stroke-width="0.55"/>
<line x1="651.66" y1="189.2" x2="651.66" y2="316" stroke="#fcebdc" stroke-width="0.55"/>
<line x1="656.22" y1="189.2" x2="656.22" y2="316" stroke="#fcebdc" stroke-width="0.55"/>
<line x1="660.78" y1="189.2" x2="660.78" y2="316" stroke="#fcebdc" stroke-width="0.55"/>
<line x1="665.34" y1="189.2" x2="665.34" y2="316" stroke="#fcebdc" stroke-width="0.55"/>
<line x1="669.9" y1="189.2" x2="669.9" y2="316" stroke="#fcebdc" stroke-width="0.55"/>
<line x1="674.46" y1="189.2" x2="674.46" y2="316" stroke="#fcebdc" stroke-width="0.55"/>
<line x1="679.02" y1="189.2" x2="679.02" y2="316" stroke="#fcebdc" stroke-width="0.55"/>
<line x1="683.58" y1="189.2" x2="683.58" y2="316" stroke="#fcebdc" stroke-width="0.55"/>
<line x1="688.14" y1="189.2" x2="688.14" y2="316" stroke="#fcebdc" stroke-width="0.55"/>
<line x1="692.7" y1="189.2" x2="692.7" y2="316" stroke="#fcebdc" stroke-width="0.55"/>
<line x1="697.26" y1="189.2" x2="697.26" y2="316" stroke="#fcebdc" stroke-width="0.55"/>
<line x1="701.82" y1="189.2" x2="701.82" y2="316" stroke="#fcebdc" stroke-width="0.55"/>
<line x1="461.7" y1="193.7" x2="705" y2="193.7" stroke="#fcebdc" stroke-width="0.55"/>
<line x1="461.7" y1="198.28" x2="705" y2="198.28" stroke="#fcebdc" stroke-width="0.55"/>
<line x1="461.7" y1="202.86" x2="705" y2="202.86" stroke="#fcebdc" stroke-width="0.55"/>
<line x1="461.7" y1="207.44" x2="705" y2="207.44" stroke="#fcebdc" stroke-width="0.55"/>
<line x1="461.7" y1="212.02" x2="705" y2="212.02" stroke="#fcebdc" stroke-width="0.55"/>
<line x1="461.7" y1="216.6" x2="705" y2="216.6" stroke="#fcebdc" stroke-width="0.55"/>
<line x1="461.7" y1="221.18" x2="705" y2="221.18" stroke="#fcebdc" stroke-width="0.55"/>
<line x1="461.7" y1="225.76" x2="705" y2="225.76" stroke="#fcebdc" stroke-width="0.55"/>
<line x1="461.7" y1="235.3" x2="705" y2="235.3" stroke="#fcebdc" stroke-width="0.55"/>
<line x1="461.7" y1="239.88" x2="705" y2="239.88" stroke="#fcebdc" stroke-width="0.55"/>
<line x1="461.7" y1="248.7" x2="705" y2="248.7" stroke="#fcebdc" stroke-width="0.55"/>
<line x1="461.7" y1="253.28" x2="705" y2="253.28" stroke="#fcebdc" stroke-width="0.55"/>
<line x1="461.7" y1="257.86" x2="705" y2="257.86" stroke="#fcebdc" stroke-width="0.55"/>
<line x1="461.7" y1="264.7" x2="705" y2="264.7" stroke="#fcebdc" stroke-width="0.55"/>
<line x1="461.7" y1="269.28" x2="705" y2="269.28" stroke="#fcebdc" stroke-width="0.55"/>
<line x1="461.7" y1="273.86" x2="705" y2="273.86" stroke="#fcebdc" stroke-width="0.55"/>
<line x1="461.7" y1="278.44" x2="705" y2="278.44" stroke="#fcebdc" stroke-width="0.55"/>
<line x1="461.7" y1="283.02" x2="705" y2="283.02" stroke="#fcebdc" stroke-width="0.55"/>
<line x1="461.7" y1="287.6" x2="705" y2="287.6" stroke="#fcebdc" stroke-width="0.55"/>
<line x1="461.7" y1="292.18" x2="705" y2="292.18" stroke="#fcebdc" stroke-width="0.55"/>
<line x1="461.7" y1="296.76" x2="705" y2="296.76" stroke="#fcebdc" stroke-width="0.55"/>
<line x1="461.7" y1="301.34" x2="705" y2="301.34" stroke="#fcebdc" stroke-width="0.55"/>
<line x1="461.7" y1="305.92" x2="705" y2="305.92" stroke="#fcebdc" stroke-width="0.55"/>
<line x1="461.7" y1="310.5" x2="705" y2="310.5" stroke="#fcebdc" stroke-width="0.55"/>
<line x1="461.7" y1="315.08" x2="705" y2="315.08" stroke="#fcebdc" stroke-width="0.55"/>
<rect x="705" y="189.2" width="27.3" height="136.6" fill="#ededed"/>
<line x1="440" y1="230.8" x2="732.3" y2="230.8" stroke="#a4a4a4" stroke-width="1"/>
<line x1="440" y1="244.2" x2="732.3" y2="244.2" stroke="#a4a4a4" stroke-width="1"/>
<line x1="440" y1="260.2" x2="732.3" y2="260.2" stroke="#a4a4a4" stroke-width="1"/>
<line x1="440" y1="316" x2="732.3" y2="316" stroke="#a4a4a4" stroke-width="1"/>
<line x1="461.7" y1="189.2" x2="461.7" y2="316" stroke="#8c8c8c" stroke-width="1"/>
<line x1="705" y1="189.2" x2="705" y2="325.8" stroke="#9a9a9a" stroke-width="1"/>
<line x1="440.4" y1="171.8" x2="440.4" y2="329.5" stroke="#6a6a6a" stroke-width="0.8"/>
<rect x="441" y="189.9" width="3" height="2.8" fill="#e02020"/>
<rect x="444.3" y="190.2" width="3.4" height="1.25" fill="#4a4a4a"/>
<rect x="448.3" y="190.5" width="0.8" height="0.9" fill="#666"/>
<rect x="444.3" y="192.1" width="1.45" height="1.25" fill="#4e4e4e"/>
<rect x="446" y="192.1" width="1.45" height="1.25" fill="#4e4e4e"/>
<rect x="447.7" y="192.1" width="1.45" height="1.25" fill="#4e4e4e"/>
<rect x="449.4" y="192.1" width="1.45" height="1.25" fill="#4e4e4e"/>
<rect x="444.3" y="194" width="1.45" height="1.25" fill="#4e4e4e"/>
<rect x="446" y="194" width="1.45" height="1.25" fill="#4e4e4e"/>
<rect x="447.7" y="194" width="1.45" height="1.25" fill="#4e4e4e"/>
<rect x="449.4" y="194" width="1.45" height="1.25" fill="#4e4e4e"/>
<rect x="453.6" y="194" width="3.5" height="1.2" fill="#6a6a6a"/>
<rect x="444.3" y="195.9" width="1.45" height="1.25" fill="#4e4e4e"/>
<rect x="446" y="195.9" width="1.45" height="1.25" fill="#4e4e4e"/>
<rect x="447.7" y="195.9" width="1.45" height="1.25" fill="#4e4e4e"/>
<rect x="453.6" y="195.9" width="4" height="1.2" fill="#6a6a6a"/>
<rect x="444.3" y="197.8" width="1.45" height="1.25" fill="#4e4e4e"/>
<rect x="446" y="197.8" width="1.45" height="1.25" fill="#4e4e4e"/>
<rect x="447.7" y="197.8" width="1.45" height="1.25" fill="#4e4e4e"/>
<rect x="449.4" y="197.8" width="1.45" height="1.25" fill="#4e4e4e"/>
<rect x="453.6" y="197.8" width="4" height="1.2" fill="#6a6a6a"/>
<rect x="444.3" y="199.7" width="1.45" height="1.25" fill="#4e4e4e"/>
<rect x="446" y="199.7" width="1.45" height="1.25" fill="#4e4e4e"/>
<rect x="447.7" y="199.7" width="1.45" height="1.25" fill="#4e4e4e"/>
<rect x="449.4" y="199.7" width="1.45" height="1.25" fill="#4e4e4e"/>
<rect x="453.6" y="199.7" width="3.5" height="1.2" fill="#6a6a6a"/>
<rect x="444.3" y="201.6" width="1.45" height="1.25" fill="#4e4e4e"/>
<rect x="446" y="201.6" width="1.45" height="1.25" fill="#4e4e4e"/>
<rect x="447.7" y="201.6" width="1.45" height="1.25" fill="#4e4e4e"/>
<rect x="449.4" y="201.6" width="1.45" height="1.25" fill="#4e4e4e"/>
<rect x="444.3" y="203.5" width="3" height="1.2" fill="#6a6a6a"/>
<rect x="448" y="203.5" width="12.8" height="1.3" fill="#555"/>
<rect x="441" y="231.5" width="3" height="2.8" fill="#2020e0"/>
<rect x="444.3" y="231.8" width="3.4" height="1.25" fill="#4a4a4a"/>
<rect x="448.3" y="232.1" width="0.8" height="0.9" fill="#666"/>
<rect x="444.3" y="233.7" width="1.45" height="1.25" fill="#4e4e4e"/>
<rect x="446" y="233.7" width="1.45" height="1.25" fill="#4e4e4e"/>
<rect x="447.7" y="233.7" width="1.45" height="1.25" fill="#4e4e4e"/>
<rect x="449.4" y="233.7" width="1.45" height="1.25" fill="#4e4e4e"/>
<rect x="444.3" y="235.6" width="1.45" height="1.25" fill="#4e4e4e"/>
<rect x="446" y="235.6" width="1.45" height="1.25" fill="#4e4e4e"/>
<rect x="447.7" y="235.6" width="1.45" height="1.25" fill="#4e4e4e"/>
<rect x="449.4" y="235.6" width="1.45" height="1.25" fill="#4e4e4e"/>
<rect x="453.6" y="235.6" width="2.5" height="1.2" fill="#6a6a6a"/>
<rect x="444.3" y="237.5" width="1.45" height="1.25" fill="#4e4e4e"/>
<rect x="446" y="237.5" width="1.45" height="1.25" fill="#4e4e4e"/>
<rect x="447.7" y="237.5" width="1.45" height="1.25" fill="#4e4e4e"/>
<rect x="449.4" y="237.5" width="1.45" height="1.25" fill="#4e4e4e"/>
<rect x="453.6" y="237.5" width="2.5" height="1.2" fill="#6a6a6a"/>
<rect x="444.3" y="239.4" width="1.45" height="1.25" fill="#4e4e4e"/>
<rect x="446" y="239.4" width="1.45" height="1.25" fill="#4e4e4e"/>
<rect x="447.7" y="239.4" width="1.45" height="1.25" fill="#4e4e4e"/>
<rect x="449.4" y="239.4" width="1.45" height="1.25" fill="#4e4e4e"/>
<rect x="453.6" y="239.4" width="2.5" height="1.2" fill="#6a6a6a"/>
<rect x="444.3" y="241.3" width="1.45" height="1.25" fill="#4e4e4e"/>
<rect x="446" y="241.3" width="1.45" height="1.25" fill="#4e4e4e"/>
<rect x="447.7" y="241.3" width="1.45" height="1.25" fill="#4e4e4e"/>
<rect x="449.4" y="241.3" width="1.45" height="1.25" fill="#4e4e4e"/>
<rect x="453.6" y="241.3" width="4" height="1.2" fill="#6a6a6a"/>
<rect x="441" y="244.9" width="3" height="2.8" fill="#208020"/>
<rect x="444.3" y="245.2" width="3.4" height="1.25" fill="#4a4a4a"/>
<rect x="448.3" y="245.5" width="0.8" height="0.9" fill="#666"/>
<rect x="444.3" y="247.1" width="1.45" height="1.25" fill="#4e4e4e"/>
<rect x="446" y="247.1" width="1.45" height="1.25" fill="#4e4e4e"/>
<rect x="447.7" y="247.1" width="1.45" height="1.25" fill="#4e4e4e"/>
<rect x="449.4" y="247.1" width="1.45" height="1.25" fill="#4e4e4e"/>
<rect x="444.3" y="249" width="1.45" height="1.25" fill="#4e4e4e"/>
<rect x="446" y="249" width="1.45" height="1.25" fill="#4e4e4e"/>
<rect x="447.7" y="249" width="1.45" height="1.25" fill="#4e4e4e"/>
<rect x="449.4" y="249" width="1.45" height="1.25" fill="#4e4e4e"/>
<rect x="453.6" y="249" width="3.5" height="1.2" fill="#6a6a6a"/>
<rect x="444.3" y="250.9" width="1.45" height="1.25" fill="#4e4e4e"/>
<rect x="446" y="250.9" width="1.45" height="1.25" fill="#4e4e4e"/>
<rect x="447.7" y="250.9" width="1.45" height="1.25" fill="#4e4e4e"/>
<rect x="449.4" y="250.9" width="1.45" height="1.25" fill="#4e4e4e"/>
<rect x="453.6" y="250.9" width="2.5" height="1.2" fill="#6a6a6a"/>
<rect x="444.3" y="252.8" width="1.45" height="1.25" fill="#4e4e4e"/>
<rect x="446" y="252.8" width="1.45" height="1.25" fill="#4e4e4e"/>
<rect x="447.7" y="252.8" width="1.45" height="1.25" fill="#4e4e4e"/>
<rect x="449.4" y="252.8" width="1.45" height="1.25" fill="#4e4e4e"/>
<rect x="453.6" y="252.8" width="3.5" height="1.2" fill="#6a6a6a"/>
<rect x="444.3" y="254.7" width="1.45" height="1.25" fill="#4e4e4e"/>
<rect x="446" y="254.7" width="1.45" height="1.25" fill="#4e4e4e"/>
<rect x="447.7" y="254.7" width="1.45" height="1.25" fill="#4e4e4e"/>
<rect x="449.4" y="254.7" width="1.45" height="1.25" fill="#4e4e4e"/>
<rect x="453.6" y="254.7" width="2.5" height="1.2" fill="#6a6a6a"/>
<rect x="444.3" y="256.6" width="1.45" height="1.25" fill="#4e4e4e"/>
<rect x="446" y="256.6" width="1.45" height="1.25" fill="#4e4e4e"/>
<rect x="447.7" y="256.6" width="1.45" height="1.25" fill="#4e4e4e"/>
<rect x="449.4" y="256.6" width="1.45" height="1.25" fill="#4e4e4e"/>
<rect x="441" y="260.9" width="3" height="2.8" fill="#e020e0"/>
<rect x="444.3" y="261.2" width="3.4" height="1.25" fill="#4a4a4a"/>
<rect x="448.3" y="261.5" width="0.8" height="0.9" fill="#666"/>
<rect x="444.3" y="263.1" width="1.45" height="1.25" fill="#4e4e4e"/>
<rect x="446" y="263.1" width="1.45" height="1.25" fill="#4e4e4e"/>
<rect x="447.7" y="263.1" width="1.45" height="1.25" fill="#4e4e4e"/>
<rect x="449.4" y="263.1" width="1.45" height="1.25" fill="#4e4e4e"/>
<rect x="444.3" y="265" width="1.45" height="1.25" fill="#4e4e4e"/>
<rect x="446" y="265" width="1.45" height="1.25" fill="#4e4e4e"/>
<rect x="447.7" y="265" width="1.45" height="1.25" fill="#4e4e4e"/>
<rect x="449.4" y="265" width="1.45" height="1.25" fill="#4e4e4e"/>
<rect x="453.6" y="265" width="2.5" height="1.2" fill="#6a6a6a"/>
<rect x="444.3" y="266.9" width="1.45" height="1.25" fill="#4e4e4e"/>
<rect x="446" y="266.9" width="1.45" height="1.25" fill="#4e4e4e"/>
<rect x="447.7" y="266.9" width="1.45" height="1.25" fill="#4e4e4e"/>
<rect x="453.6" y="266.9" width="4" height="1.2" fill="#6a6a6a"/>
<rect x="444.3" y="268.8" width="1.45" height="1.25" fill="#4e4e4e"/>
<rect x="446" y="268.8" width="1.45" height="1.25" fill="#4e4e4e"/>
<rect x="447.7" y="268.8" width="1.45" height="1.25" fill="#4e4e4e"/>
<rect x="449.4" y="268.8" width="1.45" height="1.25" fill="#4e4e4e"/>
<rect x="453.6" y="268.8" width="4" height="1.2" fill="#6a6a6a"/>
<rect x="444.3" y="270.7" width="1.45" height="1.25" fill="#4e4e4e"/>
<rect x="446" y="270.7" width="1.45" height="1.25" fill="#4e4e4e"/>
<rect x="447.7" y="270.7" width="1.45" height="1.25" fill="#4e4e4e"/>
<rect x="449.4" y="270.7" width="1.45" height="1.25" fill="#4e4e4e"/>
<rect x="453.6" y="270.7" width="3.5" height="1.2" fill="#6a6a6a"/>
<rect x="444.3" y="272.6" width="1.45" height="1.25" fill="#4e4e4e"/>
<rect x="446" y="272.6" width="1.45" height="1.25" fill="#4e4e4e"/>
<rect x="447.7" y="272.6" width="1.45" height="1.25" fill="#4e4e4e"/>
<rect x="449.4" y="272.6" width="1.45" height="1.25" fill="#4e4e4e"/>
<rect x="715" y="190.7" width="4" height="1.2" fill="#555"/>
<rect x="715" y="192.2" width="5" height="1.2" fill="#e04040"/>
<rect x="706.5" y="192.2" width="3" height="1" fill="#909090"/>
<rect x="706.5" y="196.77" width="3" height="1" fill="#909090"/>
<rect x="706.5" y="201.35" width="3" height="1" fill="#909090"/>
<rect x="706.5" y="205.93" width="3" height="1" fill="#909090"/>
<rect x="706.5" y="210.5" width="3" height="1" fill="#909090"/>
<rect x="706.5" y="215.07" width="3" height="1" fill="#909090"/>
<rect x="706.5" y="219.65" width="3" height="1" fill="#909090"/>
<rect x="706.5" y="224.23" width="3" height="1" fill="#909090"/>
<rect x="706.5" y="228.8" width="3" height="1" fill="#909090"/>
<rect x="728.3" y="224.8" width="1.2" height="4" fill="#9a9ad0"/>
<rect x="715" y="232.3" width="4" height="1.2" fill="#555"/>
<rect x="715" y="233.8" width="5" height="1.2" fill="#e04040"/>
<rect x="706.5" y="233.8" width="3" height="1" fill="#909090"/>
<rect x="706.5" y="238" width="3" height="1" fill="#909090"/>
<rect x="706.5" y="242.2" width="3" height="1" fill="#909090"/>
<rect x="728.3" y="238.2" width="1.2" height="4" fill="#9a9ad0"/>
<rect x="715" y="245.7" width="4" height="1.2" fill="#555"/>
<rect x="715" y="247.2" width="5" height="1.2" fill="#e04040"/>
<rect x="706.5" y="247.2" width="3" height="1" fill="#909090"/>
<rect x="706.5" y="252.7" width="3" height="1" fill="#909090"/>
<rect x="706.5" y="258.2" width="3" height="1" fill="#909090"/>
<rect x="728.3" y="254.2" width="1.2" height="4" fill="#9a9ad0"/>
<rect x="715" y="261.7" width="4" height="1.2" fill="#555"/>
<rect x="715" y="263.2" width="5" height="1.2" fill="#e04040"/>
<rect x="706.5" y="263.2" width="3" height="1" fill="#909090"/>
<rect x="706.5" y="267.43" width="3" height="1" fill="#909090"/>
<rect x="706.5" y="271.67" width="3" height="1" fill="#909090"/>
<rect x="706.5" y="275.9" width="3" height="1" fill="#909090"/>
<rect x="706.5" y="280.13" width="3" height="1" fill="#909090"/>
<rect x="706.5" y="284.37" width="3" height="1" fill="#909090"/>
<rect x="706.5" y="288.6" width="3" height="1" fill="#909090"/>
<rect x="706.5" y="292.83" width="3" height="1" fill="#909090"/>
<rect x="706.5" y="297.07" width="3" height="1" fill="#909090"/>
<rect x="706.5" y="301.3" width="3" height="1" fill="#909090"/>
<rect x="706.5" y="305.53" width="3" height="1" fill="#909090"/>
<rect x="706.5" y="309.77" width="3" height="1" fill="#909090"/>
<rect x="706.5" y="314" width="3" height="1" fill="#909090"/>
<rect x="728.3" y="310" width="1.2" height="4" fill="#9a9ad0"/>
<rect x="461.7" y="316" width="243.3" height="9.8" fill="#ffffff"/>
<rect x="461.7" y="322.8" width="243.3" height="3" fill="#f2f2f2"/>
<rect x="469.7" y="318.3" width="4.5" height="1.3" fill="#9a9a9a"/>
<rect x="487.8" y="318.3" width="4.5" height="1.3" fill="#9a9a9a"/>
<rect x="505.9" y="318.3" width="4.5" height="1.3" fill="#9a9a9a"/>
<rect x="524" y="318.3" width="4.5" height="1.3" fill="#9a9a9a"/>
<rect x="542.1" y="318.3" width="4.5" height="1.3" fill="#9a9a9a"/>
<rect x="560.2" y="318.3" width="4.5" height="1.3" fill="#9a9a9a"/>
<rect x="578.3" y="318.3" width="4.5" height="1.3" fill="#9a9a9a"/>
<rect x="596.4" y="318.3" width="4.5" height="1.3" fill="#9a9a9a"/>
<rect x="614.5" y="318.3" width="4.5" height="1.3" fill="#9a9a9a"/>
<rect x="632.6" y="318.3" width="4.5" height="1.3" fill="#9a9a9a"/>
<rect x="650.7" y="318.3" width="4.5" height="1.3" fill="#9a9a9a"/>
<rect x="668.8" y="318.3" width="4.5" height="1.3" fill="#9a9a9a"/>
<rect x="686.9" y="318.3" width="4.5" height="1.3" fill="#9a9a9a"/>
<text x="611.35" y="322.4" font-size="2.2" text-anchor="middle" fill="#777" font-weight="normal" font-family="Liberation Sans">seconds</text>
<rect x="441" y="317.6" width="2.2" height="2.2" fill="#50a050"/>
<rect x="444.5" y="318" width="12" height="1.4" fill="#888"/>
<rect x="442" y="320.5" width="17" height="4" fill="#f4f4f4" stroke="#b0b0b0" stroke-width="0.4"/>
<rect x="444" y="321.8" width="8" height="1.4" fill="#c05080"/>
<rect x="707" y="317" width="10" height="8" fill="#f0f0f0"/>
<rect x="709" y="318" width="3" height="3" fill="#3050d0"/>
<rect x="720" y="317.5" width="9" height="7" fill="#f6f6f6" stroke="#c0c0c0" stroke-width="0.4"/>
<rect x="440" y="325.8" width="292.3" height="3.7" fill="#e6e6e6"/>
<line x1="440" y1="325.8" x2="732.3" y2="325.8" stroke="#b0b0b0" stroke-width="0.6"/>
<rect x="442" y="327" width="2" height="1.6" fill="#d04040"/>
<rect x="446" y="327" width="24" height="1.6" fill="#707070"/>
<rect x="472" y="327" width="30" height="1.6" fill="#8a8a8a"/>
<rect x="667.3" y="327" width="62" height="1.6" fill="#8a8a8a"/>
<path d="M461.7 215.4 L568 215.4 L568.78 212.04 L569.57 209.02 L570.35 206.35 L571.13 204.01 L571.92 202 L572.7 200.3 L573.48 198.91 L574.27 197.82 L575.05 197.01 L575.83 196.47 L576.62 196.18 L577.4 196.1 L612.2 196.1 L613.2 198.12 L614.2 199.86 L615.2 201.38 L616.2 202.7 L617.2 203.86 L618.2 204.88 L619.2 205.77 L620.2 206.57 L621.2 207.27 L622.2 207.9 L623.2 208.46 L624.2 208.97 L625.2 209.43 L626.2 209.84 L627.2 210.22 L628.2 210.56 L629.2 210.88 L630.2 211.17 L631.2 211.43 L632.2 211.68 L635.2 212.31 L638.2 212.82 L641.2 213.24 L644.2 213.58 L647.2 213.87 L650.2 214.11 L653.2 214.31 L656.2 214.48 L659.2 214.62 L662.2 214.74 L665.2 214.84 L668.2 214.93 L671.2 215 L674.2 215.06 L677.2 215.11 L680.2 215.16 L683.2 215.19 L686.2 215.23 L689.2 215.25 L692.2 215.28 L695.2 215.29 L698.2 215.31 L701.2 215.32 L704.2 215.34 L705 215.34" stroke="#e06a6a" stroke-width="0.9" fill="none"/>
<line x1="461.7" y1="239.11" x2="705" y2="239.11" stroke="#8c8cf0" stroke-width="0.9"/>
<line x1="461.7" y1="254.44" x2="705" y2="254.44" stroke="#90c890" stroke-width="0.8"/>
<rect x="461.7" y="285.3" width="110.3" height="10.98" fill="#f3c6f3"/>
<rect x="614" y="285.3" width="91" height="10.98" fill="#f3c6f3"/>
<rect x="461.7" y="296.28" width="110.3" height="5.49" fill="#f6d2f6"/>
<rect x="614" y="296.28" width="91" height="5.49" fill="#f6d2f6"/>
<path d="M462.2 285.27L462.2 303.18M464.9 285.89L464.9 302.67M467.6 286.05L467.6 302.97M470.3 285.11L470.3 302.11M473 285.45L473 302.76M475.7 285.31L475.7 302.07M478.4 286.18L478.4 302.65M481.1 285.33L481.1 302.15M483.8 285.49L483.8 301.81M486.5 285.99L486.5 301.96M489.2 285.68L489.2 303.05M491.9 286.01L491.9 302.53M494.6 286.04L494.6 303.03M497.3 285.64L497.3 301.99M500 286.14L500 303.2M502.7 285.69L502.7 302.5M505.4 285.84L505.4 302.64M508.1 285.98L508.1 302.29M510.8 285.73L510.8 302.39M513.5 285.55L513.5 302.34M516.2 285.82L516.2 301.91M518.9 285.24L518.9 301.9M521.6 285.66L521.6 301.84M524.3 286.16L524.3 303.18M527 285.18L527 302.83M529.7 285.45L529.7 303.21M532.4 285.66L532.4 301.8M535.1 285.56L535.1 303.01M537.8 285.81L537.8 302.81M540.5 285.34L540.5 303.07M543.2 285.56L543.2 302.66M545.9 285.63L545.9 302.1M548.6 286.15L548.6 302.93M551.3 285.34L551.3 301.83M554 285.21L554 303.28M556.7 285.47L556.7 302.38M559.4 285.79L559.4 303.23M562.1 285.4L562.1 302.11M564.8 285.57L564.8 303.01M567.5 285.71L567.5 302.83M570.2 285.02L570.2 303.1M616.1 285.41L616.1 302.75M618.8 285.48L618.8 302.34M621.5 285.89L621.5 302.53M624.2 285.26L624.2 302.3M626.9 285.18L626.9 303.12M629.6 285.03L629.6 302.01M632.3 285.24L632.3 302.29M635 285.99L635 302.53M637.7 285.75L637.7 302.99M640.4 285.55L640.4 302.47M643.1 285.36L643.1 302.85M645.8 285.31L645.8 301.98M648.5 285.24L648.5 301.84M651.2 285.9L651.2 302.93M653.9 285.69L653.9 302.79M656.6 286.05L656.6 302.64M659.3 285.06L659.3 302.47M662 285.25L662 303.25M664.7 286.08L664.7 301.84M667.4 285.74L667.4 302.04M670.1 285.02L670.1 301.91M672.8 285.8L672.8 302.14M675.5 286.15L675.5 302.57M678.2 285.97L678.2 302.35M680.9 285.04L680.9 301.99M683.6 285.73L683.6 303.12M686.3 285.1L686.3 302.36M689 285.54L689 302.52M691.7 285.09L691.7 302.6M694.4 286.17L694.4 303.14M697.1 285.01L697.1 302.76M699.8 285.77L699.8 302.5M702.5 286.18L702.5 302.2" stroke="#d266d6" stroke-width="1" fill="none"/>
<path d="M571 294.15 L575 295.2 L613 295.2 L616 294.15" stroke="#d466d8" stroke-width="0.9" fill="none"/>
<rect x="581.4" y="323.6" width="52.6" height="1.8" fill="#000"/>
<rect x="440" y="330.3" width="292.3" height="158" fill="#ececec"/>
<rect x="440" y="330.3" width="292.3" height="4.2" fill="url(#tgrad)"/>
<rect x="440.6" y="330.9" width="1.6" height="3" fill="#d04050"/>
<rect x="442.2" y="330.9" width="1.4" height="3" fill="#f0f0f0"/>
<rect x="445" y="331.4" width="2.3" height="2" fill="#c8d0f0" opacity="0.45"/>
<rect x="447.9" y="331.4" width="2.3" height="2" fill="#c8d0f0" opacity="0.45"/>
<rect x="450.8" y="331.4" width="2.3" height="2" fill="#c8d0f0" opacity="0.45"/>
<rect x="453.7" y="331.4" width="2.3" height="2" fill="#c8d0f0" opacity="0.45"/>
<rect x="456.6" y="331.4" width="2.3" height="2" fill="#c8d0f0" opacity="0.45"/>
<rect x="459.5" y="331.4" width="2.3" height="2" fill="#c8d0f0" opacity="0.45"/>
<rect x="462.4" y="331.4" width="2.3" height="2" fill="#c8d0f0" opacity="0.45"/>
<rect x="465.3" y="331.4" width="2.3" height="2" fill="#c8d0f0" opacity="0.45"/>
<rect x="468.2" y="331.4" width="2.3" height="2" fill="#c8d0f0" opacity="0.45"/>
<rect x="471.1" y="331.4" width="2.3" height="2" fill="#c8d0f0" opacity="0.45"/>
<rect x="474" y="331.4" width="2.3" height="2" fill="#c8d0f0" opacity="0.45"/>
<rect x="476.9" y="331.4" width="2.3" height="2" fill="#c8d0f0" opacity="0.45"/>
<rect x="479.8" y="331.4" width="2.3" height="2" fill="#c8d0f0" opacity="0.45"/>
<rect x="482.7" y="331.4" width="2.3" height="2" fill="#c8d0f0" opacity="0.45"/>
<rect x="485.6" y="331.4" width="2.3" height="2" fill="#c8d0f0" opacity="0.45"/>
<rect x="488.5" y="331.4" width="2.3" height="2" fill="#c8d0f0" opacity="0.45"/>
<rect x="718.3" y="331.2" width="3.3" height="2.4" fill="#5d6fb0"/>
<rect x="722.6" y="331.2" width="3.3" height="2.4" fill="#5d6fb0"/>
<rect x="726.9" y="331.2" width="3.3" height="2.4" fill="#5d6fb0"/>
<rect x="440" y="334.5" width="292.3" height="3.4" fill="#e0e0ec"/>
<rect x="440.8" y="335" width="2.6" height="2.4" fill="#a060a0"/>
<rect x="445" y="335.3" width="1.5" height="1.5" fill="#78788a"/>
<rect x="446.9" y="335.3" width="1.5" height="1.5" fill="#78788a"/>
<rect x="448.8" y="335.3" width="1.5" height="1.5" fill="#78788a"/>
<rect x="450.7" y="335.3" width="1.5" height="1.5" fill="#78788a"/>
<rect x="456.3" y="335.3" width="1.5" height="1.5" fill="#78788a"/>
<rect x="458.2" y="335.3" width="1.5" height="1.5" fill="#78788a"/>
<rect x="460.1" y="335.3" width="1.5" height="1.5" fill="#78788a"/>
<rect x="462" y="335.3" width="1.5" height="1.5" fill="#78788a"/>
<rect x="467.6" y="335.3" width="1.5" height="1.5" fill="#78788a"/>
<rect x="469.5" y="335.3" width="1.5" height="1.5" fill="#78788a"/>
<rect x="471.4" y="335.3" width="1.5" height="1.5" fill="#78788a"/>
<rect x="473.3" y="335.3" width="1.5" height="1.5" fill="#78788a"/>
<rect x="478.9" y="335.3" width="1.5" height="1.5" fill="#78788a"/>
<rect x="480.8" y="335.3" width="1.5" height="1.5" fill="#78788a"/>
<rect x="482.7" y="335.3" width="1.5" height="1.5" fill="#78788a"/>
<rect x="484.6" y="335.3" width="1.5" height="1.5" fill="#78788a"/>
<rect x="490.2" y="335.3" width="1.5" height="1.5" fill="#78788a"/>
<rect x="492.1" y="335.3" width="1.5" height="1.5" fill="#78788a"/>
<rect x="494" y="335.3" width="1.5" height="1.5" fill="#78788a"/>
<rect x="495.9" y="335.3" width="1.5" height="1.5" fill="#78788a"/>
<rect x="501.5" y="335.3" width="1.5" height="1.5" fill="#78788a"/>
<rect x="503.4" y="335.3" width="1.5" height="1.5" fill="#78788a"/>
<rect x="505.3" y="335.3" width="1.5" height="1.5" fill="#78788a"/>
<rect x="507.2" y="335.3" width="1.5" height="1.5" fill="#78788a"/>
<rect x="512.8" y="335.3" width="1.5" height="1.5" fill="#78788a"/>
<rect x="514.7" y="335.3" width="1.5" height="1.5" fill="#78788a"/>
<rect x="516.6" y="335.3" width="1.5" height="1.5" fill="#78788a"/>
<rect x="518.5" y="335.3" width="1.5" height="1.5" fill="#78788a"/>
<rect x="524.1" y="335.3" width="1.5" height="1.5" fill="#78788a"/>
<rect x="526" y="335.3" width="1.5" height="1.5" fill="#78788a"/>
<rect x="527.9" y="335.3" width="1.5" height="1.5" fill="#78788a"/>
<rect x="529.8" y="335.3" width="1.5" height="1.5" fill="#78788a"/>
<rect x="535.4" y="335.3" width="1.5" height="1.5" fill="#78788a"/>
<rect x="537.3" y="335.3" width="1.5" height="1.5" fill="#78788a"/>
<rect x="539.2" y="335.3" width="1.5" height="1.5" fill="#78788a"/>
<rect x="541.1" y="335.3" width="1.5" height="1.5" fill="#78788a"/>
<rect x="546.7" y="335.3" width="1.5" height="1.5" fill="#78788a"/>
<rect x="548.6" y="335.3" width="1.5" height="1.5" fill="#78788a"/>
<rect x="550.5" y="335.3" width="1.5" height="1.5" fill="#78788a"/>
<rect x="552.4" y="335.3" width="1.5" height="1.5" fill="#78788a"/>
<rect x="440" y="337.9" width="292.3" height="9.7" fill="#ebebeb"/>
<rect x="442" y="338.8" width="2.6" height="2.8" fill="#b06060" opacity="0.8"/>
<rect x="445.6" y="338.8" width="2.6" height="2.8" fill="#80a0c8" opacity="0.8"/>
<rect x="449.2" y="338.8" width="2.6" height="2.8" fill="#9070b0" opacity="0.8"/>
<rect x="452.8" y="338.8" width="2.6" height="2.8" fill="#6090c0" opacity="0.8"/>
<rect x="456.4" y="338.8" width="2.6" height="2.8" fill="#b0b0b0" opacity="0.8"/>
<rect x="462.2" y="338.8" width="2.6" height="2.8" fill="#6070b0" opacity="0.8"/>
<rect x="465.8" y="338.8" width="2.6" height="2.8" fill="#c08050" opacity="0.8"/>
<rect x="469.4" y="338.8" width="2.6" height="2.8" fill="#a0a0c0" opacity="0.8"/>
<rect x="473" y="338.8" width="2.6" height="2.8" fill="#a05050" opacity="0.8"/>
<rect x="476.6" y="338.8" width="2.6" height="2.8" fill="#6080a8" opacity="0.8"/>
<rect x="482.4" y="338.8" width="2.6" height="2.8" fill="#70a070" opacity="0.8"/>
<rect x="486" y="338.8" width="2.6" height="2.8" fill="#7080b8" opacity="0.8"/>
<rect x="489.6" y="338.8" width="2.6" height="2.8" fill="#c07070" opacity="0.8"/>
<rect x="493.2" y="338.8" width="2.6" height="2.8" fill="#909090" opacity="0.8"/>
<rect x="496.8" y="338.8" width="2.6" height="2.8" fill="#b8a050" opacity="0.8"/>
<rect x="502.6" y="338.8" width="2.6" height="2.8" fill="#c0a060" opacity="0.8"/>
<rect x="506.2" y="338.8" width="2.6" height="2.8" fill="#80b080" opacity="0.8"/>
<rect x="509.8" y="338.8" width="2.6" height="2.8" fill="#b06060" opacity="0.8"/>
<rect x="513.4" y="338.8" width="2.6" height="2.8" fill="#80a0c8" opacity="0.8"/>
<rect x="517" y="338.8" width="2.6" height="2.8" fill="#9070b0" opacity="0.8"/>
<rect x="522.8" y="338.8" width="2.6" height="2.8" fill="#6090c0" opacity="0.8"/>
<rect x="526.4" y="338.8" width="2.6" height="2.8" fill="#b0b0b0" opacity="0.8"/>
<rect x="530" y="338.8" width="2.6" height="2.8" fill="#6070b0" opacity="0.8"/>
<rect x="533.6" y="338.8" width="2.6" height="2.8" fill="#c08050" opacity="0.8"/>
<rect x="537.2" y="338.8" width="2.6" height="2.8" fill="#a0a0c0" opacity="0.8"/>
<rect x="543" y="338.8" width="2.6" height="2.8" fill="#a05050" opacity="0.8"/>
<rect x="546.6" y="338.8" width="2.6" height="2.8" fill="#6080a8" opacity="0.8"/>
<rect x="550.2" y="338.8" width="2.6" height="2.8" fill="#70a070" opacity="0.8"/>
<rect x="553.8" y="338.8" width="2.6" height="2.8" fill="#7080b8" opacity="0.8"/>
<rect x="557.4" y="338.8" width="2.6" height="2.8" fill="#c07070" opacity="0.8"/>
<rect x="563.2" y="338.8" width="2.6" height="2.8" fill="#909090" opacity="0.8"/>
<rect x="566.8" y="338.8" width="2.6" height="2.8" fill="#b8a050" opacity="0.8"/>
<rect x="570.4" y="338.8" width="2.6" height="2.8" fill="#c0a060" opacity="0.8"/>
<rect x="574" y="338.8" width="2.6" height="2.8" fill="#80b080" opacity="0.8"/>
<rect x="577.6" y="338.8" width="2.6" height="2.8" fill="#b06060" opacity="0.8"/>
<rect x="583.4" y="338.8" width="2.6" height="2.8" fill="#80a0c8" opacity="0.8"/>
<rect x="587" y="338.8" width="2.6" height="2.8" fill="#9070b0" opacity="0.8"/>
<line x1="440" y1="342.4" x2="732.3" y2="342.4" stroke="#c8c8c8" stroke-width="0.5"/>
<rect x="441" y="343.1" width="2.6" height="2.8" fill="#70a070"/>
<rect x="444.5" y="343.2" width="14" height="2.6" fill="#fafafa" stroke="#909090" stroke-width="0.4"/>
<rect x="445.5" y="343.9" width="9" height="1.3" fill="#555"/>
<rect x="461" y="343.1" width="2.6" height="2.8" fill="#c09040"/>
<rect x="464" y="343.2" width="40" height="2.6" fill="#fafafa" stroke="#909090" stroke-width="0.4"/>
<rect x="465" y="343.9" width="7" height="1.3" fill="#666"/>
<rect x="492" y="343.9" width="5" height="1.3" fill="#555"/>
<rect x="506" y="343.2" width="10" height="2.6" fill="#fafafa" stroke="#909090" stroke-width="0.4"/>
<rect x="518" y="343.2" width="9" height="2.4" fill="#7898e8"/>
<rect x="664" y="343.2" width="22" height="2.6" fill="#f6f6f6" stroke="#a0a0a0" stroke-width="0.4"/>
<rect x="666" y="343.6" width="3" height="2" fill="#8888d0"/>
<rect x="674" y="343.6" width="3" height="2" fill="#9070c0"/>
<rect x="688" y="343.2" width="42" height="2.6" fill="#f6f6f6" stroke="#a0a0a0" stroke-width="0.4"/>
<rect x="692" y="343.9" width="24" height="1.3" fill="#777"/>
<rect x="726" y="343.3" width="3" height="2.4" fill="#50a050"/>
<line x1="440" y1="347.2" x2="732.3" y2="347.2" stroke="#9a9a9a" stroke-width="0.8"/>
<rect x="440" y="347.6" width="21.7" height="137" fill="#ebebeb"/>
<rect x="461.7" y="347.6" width="243.3" height="127.2" fill="#fffdfb"/>
<line x1="464.7" y1="347.6" x2="464.7" y2="474.8" stroke="#fcebdc" stroke-width="0.55"/>
<line x1="469.26" y1="347.6" x2="469.26" y2="474.8" stroke="#fcebdc" stroke-width="0.55"/>
<line x1="473.82" y1="347.6" x2="473.82" y2="474.8" stroke="#fcebdc" stroke-width="0.55"/>
<line x1="478.38" y1="347.6" x2="478.38" y2="474.8" stroke="#fcebdc" stroke-width="0.55"/>
<line x1="482.94" y1="347.6" x2="482.94" y2="474.8" stroke="#fcebdc" stroke-width="0.55"/>
<line x1="487.5" y1="347.6" x2="487.5" y2="474.8" stroke="#fcebdc" stroke-width="0.55"/>
<line x1="492.06" y1="347.6" x2="492.06" y2="474.8" stroke="#fcebdc" stroke-width="0.55"/>
<line x1="496.62" y1="347.6" x2="496.62" y2="474.8" stroke="#fcebdc" stroke-width="0.55"/>
<line x1="501.18" y1="347.6" x2="501.18" y2="474.8" stroke="#fcebdc" stroke-width="0.55"/>
<line x1="505.74" y1="347.6" x2="505.74" y2="474.8" stroke="#fcebdc" stroke-width="0.55"/>
<line x1="510.3" y1="347.6" x2="510.3" y2="474.8" stroke="#fcebdc" stroke-width="0.55"/>
<line x1="514.86" y1="347.6" x2="514.86" y2="474.8" stroke="#fcebdc" stroke-width="0.55"/>
<line x1="519.42" y1="347.6" x2="519.42" y2="474.8" stroke="#fcebdc" stroke-width="0.55"/>
<line x1="523.98" y1="347.6" x2="523.98" y2="474.8" stroke="#fcebdc" stroke-width="0.55"/>
<line x1="528.54" y1="347.6" x2="528.54" y2="474.8" stroke="#fcebdc" stroke-width="0.55"/>
<line x1="533.1" y1="347.6" x2="533.1" y2="474.8" stroke="#fcebdc" stroke-width="0.55"/>
<line x1="537.66" y1="347.6" x2="537.66" y2="474.8" stroke="#fcebdc" stroke-width="0.55"/>
<line x1="542.22" y1="347.6" x2="542.22" y2="474.8" stroke="#fcebdc" stroke-width="0.55"/>
<line x1="546.78" y1="347.6" x2="546.78" y2="474.8" stroke="#fcebdc" stroke-width="0.55"/>
<line x1="551.34" y1="347.6" x2="551.34" y2="474.8" stroke="#fcebdc" stroke-width="0.55"/>
<line x1="555.9" y1="347.6" x2="555.9" y2="474.8" stroke="#fcebdc" stroke-width="0.55"/>
<line x1="560.46" y1="347.6" x2="560.46" y2="474.8" stroke="#fcebdc" stroke-width="0.55"/>
<line x1="565.02" y1="347.6" x2="565.02" y2="474.8" stroke="#fcebdc" stroke-width="0.55"/>
<line x1="569.58" y1="347.6" x2="569.58" y2="474.8" stroke="#fcebdc" stroke-width="0.55"/>
<line x1="574.14" y1="347.6" x2="574.14" y2="474.8" stroke="#fcebdc" stroke-width="0.55"/>
<line x1="578.7" y1="347.6" x2="578.7" y2="474.8" stroke="#fcebdc" stroke-width="0.55"/>
<line x1="583.26" y1="347.6" x2="583.26" y2="474.8" stroke="#fcebdc" stroke-width="0.55"/>
<line x1="587.82" y1="347.6" x2="587.82" y2="474.8" stroke="#fcebdc" stroke-width="0.55"/>
<line x1="592.38" y1="347.6" x2="592.38" y2="474.8" stroke="#fcebdc" stroke-width="0.55"/>
<line x1="596.94" y1="347.6" x2="596.94" y2="474.8" stroke="#fcebdc" stroke-width="0.55"/>
<line x1="601.5" y1="347.6" x2="601.5" y2="474.8" stroke="#fcebdc" stroke-width="0.55"/>
<line x1="606.06" y1="347.6" x2="606.06" y2="474.8" stroke="#fcebdc" stroke-width="0.55"/>
<line x1="610.62" y1="347.6" x2="610.62" y2="474.8" stroke="#fcebdc" stroke-width="0.55"/>
<line x1="615.18" y1="347.6" x2="615.18" y2="474.8" stroke="#fcebdc" stroke-width="0.55"/>
<line x1="619.74" y1="347.6" x2="619.74" y2="474.8" stroke="#fcebdc" stroke-width="0.55"/>
<line x1="624.3" y1="347.6" x2="624.3" y2="474.8" stroke="#fcebdc" stroke-width="0.55"/>
<line x1="628.86" y1="347.6" x2="628.86" y2="474.8" stroke="#fcebdc" stroke-width="0.55"/>
<line x1="633.42" y1="347.6" x2="633.42" y2="474.8" stroke="#fcebdc" stroke-width="0.55"/>
<line x1="637.98" y1="347.6" x2="637.98" y2="474.8" stroke="#fcebdc" stroke-width="0.55"/>
<line x1="642.54" y1="347.6" x2="642.54" y2="474.8" stroke="#fcebdc" stroke-width="0.55"/>
<line x1="647.1" y1="347.6" x2="647.1" y2="474.8" stroke="#fcebdc" stroke-width="0.55"/>
<line x1="651.66" y1="347.6" x2="651.66" y2="474.8" stroke="#fcebdc" stroke-width="0.55"/>
<line x1="656.22" y1="347.6" x2="656.22" y2="474.8" stroke="#fcebdc" stroke-width="0.55"/>
<line x1="660.78" y1="347.6" x2="660.78" y2="474.8" stroke="#fcebdc" stroke-width="0.55"/>
<line x1="665.34" y1="347.6" x2="665.34" y2="474.8" stroke="#fcebdc" stroke-width="0.55"/>
<line x1="669.9" y1="347.6" x2="669.9" y2="474.8" stroke="#fcebdc" stroke-width="0.55"/>
<line x1="674.46" y1="347.6" x2="674.46" y2="474.8" stroke="#fcebdc" stroke-width="0.55"/>
<line x1="679.02" y1="347.6" x2="679.02" y2="474.8" stroke="#fcebdc" stroke-width="0.55"/>
<line x1="683.58" y1="347.6" x2="683.58" y2="474.8" stroke="#fcebdc" stroke-width="0.55"/>
<line x1="688.14" y1="347.6" x2="688.14" y2="474.8" stroke="#fcebdc" stroke-width="0.55"/>
<line x1="692.7" y1="347.6" x2="692.7" y2="474.8" stroke="#fcebdc" stroke-width="0.55"/>
<line x1="697.26" y1="347.6" x2="697.26" y2="474.8" stroke="#fcebdc" stroke-width="0.55"/>
<line x1="701.82" y1="347.6" x2="701.82" y2="474.8" stroke="#fcebdc" stroke-width="0.55"/>
<line x1="461.7" y1="352.1" x2="705" y2="352.1" stroke="#fcebdc" stroke-width="0.55"/>
<line x1="461.7" y1="356.68" x2="705" y2="356.68" stroke="#fcebdc" stroke-width="0.55"/>
<line x1="461.7" y1="361.26" x2="705" y2="361.26" stroke="#fcebdc" stroke-width="0.55"/>
<line x1="461.7" y1="365.84" x2="705" y2="365.84" stroke="#fcebdc" stroke-width="0.55"/>
<line x1="461.7" y1="370.42" x2="705" y2="370.42" stroke="#fcebdc" stroke-width="0.55"/>
<line x1="461.7" y1="375" x2="705" y2="375" stroke="#fcebdc" stroke-width="0.55"/>
<line x1="461.7" y1="379.58" x2="705" y2="379.58" stroke="#fcebdc" stroke-width="0.55"/>
<line x1="461.7" y1="384.16" x2="705" y2="384.16" stroke="#fcebdc" stroke-width="0.55"/>
<line x1="461.7" y1="388.74" x2="705" y2="388.74" stroke="#fcebdc" stroke-width="0.55"/>
<line x1="461.7" y1="393.9" x2="705" y2="393.9" stroke="#fcebdc" stroke-width="0.55"/>
<line x1="461.7" y1="398.48" x2="705" y2="398.48" stroke="#fcebdc" stroke-width="0.55"/>
<line x1="461.7" y1="407.4" x2="705" y2="407.4" stroke="#fcebdc" stroke-width="0.55"/>
<line x1="461.7" y1="411.98" x2="705" y2="411.98" stroke="#fcebdc" stroke-width="0.55"/>
<line x1="461.7" y1="416.56" x2="705" y2="416.56" stroke="#fcebdc" stroke-width="0.55"/>
<line x1="461.7" y1="423.5" x2="705" y2="423.5" stroke="#fcebdc" stroke-width="0.55"/>
<line x1="461.7" y1="428.08" x2="705" y2="428.08" stroke="#fcebdc" stroke-width="0.55"/>
<line x1="461.7" y1="432.66" x2="705" y2="432.66" stroke="#fcebdc" stroke-width="0.55"/>
<line x1="461.7" y1="437.24" x2="705" y2="437.24" stroke="#fcebdc" stroke-width="0.55"/>
<line x1="461.7" y1="441.82" x2="705" y2="441.82" stroke="#fcebdc" stroke-width="0.55"/>
<line x1="461.7" y1="446.4" x2="705" y2="446.4" stroke="#fcebdc" stroke-width="0.55"/>
<line x1="461.7" y1="450.98" x2="705" y2="450.98" stroke="#fcebdc" stroke-width="0.55"/>
<line x1="461.7" y1="455.56" x2="705" y2="455.56" stroke="#fcebdc" stroke-width="0.55"/>
<line x1="461.7" y1="460.14" x2="705" y2="460.14" stroke="#fcebdc" stroke-width="0.55"/>
<line x1="461.7" y1="464.72" x2="705" y2="464.72" stroke="#fcebdc" stroke-width="0.55"/>
<line x1="461.7" y1="469.3" x2="705" y2="469.3" stroke="#fcebdc" stroke-width="0.55"/>
<line x1="461.7" y1="473.88" x2="705" y2="473.88" stroke="#fcebdc" stroke-width="0.55"/>
<rect x="705" y="347.6" width="27.3" height="137" fill="#ededed"/>
<line x1="440" y1="389.4" x2="732.3" y2="389.4" stroke="#a4a4a4" stroke-width="1"/>
<line x1="440" y1="402.9" x2="732.3" y2="402.9" stroke="#a4a4a4" stroke-width="1"/>
<line x1="440" y1="419" x2="732.3" y2="419" stroke="#a4a4a4" stroke-width="1"/>
<line x1="440" y1="474.8" x2="732.3" y2="474.8" stroke="#a4a4a4" stroke-width="1"/>
<line x1="461.7" y1="347.6" x2="461.7" y2="474.8" stroke="#8c8c8c" stroke-width="1"/>
<line x1="705" y1="347.6" x2="705" y2="484.6" stroke="#9a9a9a" stroke-width="1"/>
<line x1="440.4" y1="330.3" x2="440.4" y2="488.3" stroke="#6a6a6a" stroke-width="0.8"/>
<rect x="441" y="348.3" width="3" height="2.8" fill="#e02020"/>
<rect x="444.3" y="348.6" width="3.4" height="1.25" fill="#4a4a4a"/>
<rect x="448.3" y="348.9" width="0.8" height="0.9" fill="#666"/>
<rect x="444.3" y="350.5" width="1.45" height="1.25" fill="#4e4e4e"/>
<rect x="446" y="350.5" width="1.45" height="1.25" fill="#4e4e4e"/>
<rect x="447.7" y="350.5" width="1.45" height="1.25" fill="#4e4e4e"/>
<rect x="449.4" y="350.5" width="1.45" height="1.25" fill="#4e4e4e"/>
<rect x="444.3" y="352.4" width="1.45" height="1.25" fill="#4e4e4e"/>
<rect x="446" y="352.4" width="1.45" height="1.25" fill="#4e4e4e"/>
<rect x="447.7" y="352.4" width="1.45" height="1.25" fill="#4e4e4e"/>
<rect x="449.4" y="352.4" width="1.45" height="1.25" fill="#4e4e4e"/>
<rect x="453.6" y="352.4" width="2.5" height="1.2" fill="#6a6a6a"/>
<rect x="444.3" y="354.3" width="1.45" height="1.25" fill="#4e4e4e"/>
<rect x="446" y="354.3" width="1.45" height="1.25" fill="#4e4e4e"/>
<rect x="447.7" y="354.3" width="1.45" height="1.25" fill="#4e4e4e"/>
<rect x="449.4" y="354.3" width="1.45" height="1.25" fill="#4e4e4e"/>
<rect x="453.6" y="354.3" width="3.5" height="1.2" fill="#6a6a6a"/>
<rect x="444.3" y="356.2" width="1.45" height="1.25" fill="#4e4e4e"/>
<rect x="446" y="356.2" width="1.45" height="1.25" fill="#4e4e4e"/>
<rect x="447.7" y="356.2" width="1.45" height="1.25" fill="#4e4e4e"/>
<rect x="449.4" y="356.2" width="1.45" height="1.25" fill="#4e4e4e"/>
<rect x="453.6" y="356.2" width="4" height="1.2" fill="#6a6a6a"/>
<rect x="444.3" y="358.1" width="1.45" height="1.25" fill="#4e4e4e"/>
<rect x="446" y="358.1" width="1.45" height="1.25" fill="#4e4e4e"/>
<rect x="447.7" y="358.1" width="1.45" height="1.25" fill="#4e4e4e"/>
<rect x="449.4" y="358.1" width="1.45" height="1.25" fill="#4e4e4e"/>
<rect x="453.6" y="358.1" width="4" height="1.2" fill="#6a6a6a"/>
<rect x="444.3" y="360" width="1.45" height="1.25" fill="#4e4e4e"/>
<rect x="446" y="360" width="1.45" height="1.25" fill="#4e4e4e"/>
<rect x="447.7" y="360" width="1.45" height="1.25" fill="#4e4e4e"/>
<rect x="444.3" y="361.9" width="3" height="1.2" fill="#6a6a6a"/>
<rect x="448" y="361.9" width="12.8" height="1.3" fill="#555"/>
<rect x="441" y="390.1" width="3" height="2.8" fill="#2020e0"/>
<rect x="444.3" y="390.4" width="3.4" height="1.25" fill="#4a4a4a"/>
<rect x="448.3" y="390.7" width="0.8" height="0.9" fill="#666"/>
<rect x="444.3" y="392.3" width="1.45" height="1.25" fill="#4e4e4e"/>
<rect x="446" y="392.3" width="1.45" height="1.25" fill="#4e4e4e"/>
<rect x="447.7" y="392.3" width="1.45" height="1.25" fill="#4e4e4e"/>
<rect x="449.4" y="392.3" width="1.45" height="1.25" fill="#4e4e4e"/>
<rect x="444.3" y="394.2" width="1.45" height="1.25" fill="#4e4e4e"/>
<rect x="446" y="394.2" width="1.45" height="1.25" fill="#4e4e4e"/>
<rect x="447.7" y="394.2" width="1.45" height="1.25" fill="#4e4e4e"/>
<rect x="449.4" y="394.2" width="1.45" height="1.25" fill="#4e4e4e"/>
<rect x="453.6" y="394.2" width="2.5" height="1.2" fill="#6a6a6a"/>
<rect x="444.3" y="396.1" width="1.45" height="1.25" fill="#4e4e4e"/>
<rect x="446" y="396.1" width="1.45" height="1.25" fill="#4e4e4e"/>
<rect x="447.7" y="396.1" width="1.45" height="1.25" fill="#4e4e4e"/>
<rect x="449.4" y="396.1" width="1.45" height="1.25" fill="#4e4e4e"/>
<rect x="453.6" y="396.1" width="2.5" height="1.2" fill="#6a6a6a"/>
<rect x="444.3" y="398" width="1.45" height="1.25" fill="#4e4e4e"/>
<rect x="446" y="398" width="1.45" height="1.25" fill="#4e4e4e"/>
<rect x="447.7" y="398" width="1.45" height="1.25" fill="#4e4e4e"/>
<rect x="453.6" y="398" width="4" height="1.2" fill="#6a6a6a"/>
<rect x="444.3" y="399.9" width="1.45" height="1.25" fill="#4e4e4e"/>
<rect x="446" y="399.9" width="1.45" height="1.25" fill="#4e4e4e"/>
<rect x="447.7" y="399.9" width="1.45" height="1.25" fill="#4e4e4e"/>
<rect x="449.4" y="399.9" width="1.45" height="1.25" fill="#4e4e4e"/>
<rect x="453.6" y="399.9" width="4" height="1.2" fill="#6a6a6a"/>
<rect x="441" y="403.6" width="3" height="2.8" fill="#208020"/>
<rect x="444.3" y="403.9" width="3.4" height="1.25" fill="#4a4a4a"/>
<rect x="448.3" y="404.2" width="0.8" height="0.9" fill="#666"/>
<rect x="444.3" y="405.8" width="1.45" height="1.25" fill="#4e4e4e"/>
<rect x="446" y="405.8" width="1.45" height="1.25" fill="#4e4e4e"/>
<rect x="447.7" y="405.8" width="1.45" height="1.25" fill="#4e4e4e"/>
<rect x="449.4" y="405.8" width="1.45" height="1.25" fill="#4e4e4e"/>
<rect x="444.3" y="407.7" width="1.45" height="1.25" fill="#4e4e4e"/>
<rect x="446" y="407.7" width="1.45" height="1.25" fill="#4e4e4e"/>
<rect x="447.7" y="407.7" width="1.45" height="1.25" fill="#4e4e4e"/>
<rect x="449.4" y="407.7" width="1.45" height="1.25" fill="#4e4e4e"/>
<rect x="453.6" y="407.7" width="4" height="1.2" fill="#6a6a6a"/>
<rect x="444.3" y="409.6" width="1.45" height="1.25" fill="#4e4e4e"/>
<rect x="446" y="409.6" width="1.45" height="1.25" fill="#4e4e4e"/>
<rect x="447.7" y="409.6" width="1.45" height="1.25" fill="#4e4e4e"/>
<rect x="449.4" y="409.6" width="1.45" height="1.25" fill="#4e4e4e"/>
<rect x="453.6" y="409.6" width="3.5" height="1.2" fill="#6a6a6a"/>
<rect x="444.3" y="411.5" width="1.45" height="1.25" fill="#4e4e4e"/>
<rect x="446" y="411.5" width="1.45" height="1.25" fill="#4e4e4e"/>
<rect x="447.7" y="411.5" width="1.45" height="1.25" fill="#4e4e4e"/>
<rect x="449.4" y="411.5" width="1.45" height="1.25" fill="#4e4e4e"/>
<rect x="453.6" y="411.5" width="4" height="1.2" fill="#6a6a6a"/>
<rect x="444.3" y="413.4" width="1.45" height="1.25" fill="#4e4e4e"/>
<rect x="446" y="413.4" width="1.45" height="1.25" fill="#4e4e4e"/>
<rect x="447.7" y="413.4" width="1.45" height="1.25" fill="#4e4e4e"/>
<rect x="449.4" y="413.4" width="1.45" height="1.25" fill="#4e4e4e"/>
<rect x="453.6" y="413.4" width="4" height="1.2" fill="#6a6a6a"/>
<rect x="444.3" y="415.3" width="1.45" height="1.25" fill="#4e4e4e"/>
<rect x="446" y="415.3" width="1.45" height="1.25" fill="#4e4e4e"/>
<rect x="447.7" y="415.3" width="1.45" height="1.25" fill="#4e4e4e"/>
<rect x="441" y="419.7" width="3" height="2.8" fill="#e020e0"/>
<rect x="444.3" y="420" width="3.4" height="1.25" fill="#4a4a4a"/>
<rect x="448.3" y="420.3" width="0.8" height="0.9" fill="#666"/>
<rect x="444.3" y="421.9" width="1.45" height="1.25" fill="#4e4e4e"/>
<rect x="446" y="421.9" width="1.45" height="1.25" fill="#4e4e4e"/>
<rect x="447.7" y="421.9" width="1.45" height="1.25" fill="#4e4e4e"/>
<rect x="449.4" y="421.9" width="1.45" height="1.25" fill="#4e4e4e"/>
<rect x="444.3" y="423.8" width="1.45" height="1.25" fill="#4e4e4e"/>
<rect x="446" y="423.8" width="1.45" height="1.25" fill="#4e4e4e"/>
<rect x="447.7" y="423.8" width="1.45" height="1.25" fill="#4e4e4e"/>
<rect x="453.6" y="423.8" width="3.5" height="1.2" fill="#6a6a6a"/>
<rect x="444.3" y="425.7" width="1.45" height="1.25" fill="#4e4e4e"/>
<rect x="446" y="425.7" width="1.45" height="1.25" fill="#4e4e4e"/>
<rect x="447.7" y="425.7" width="1.45" height="1.25" fill="#4e4e4e"/>
<rect x="449.4" y="425.7" width="1.45" height="1.25" fill="#4e4e4e"/>
<rect x="453.6" y="425.7" width="4" height="1.2" fill="#6a6a6a"/>
<rect x="444.3" y="427.6" width="1.45" height="1.25" fill="#4e4e4e"/>
<rect x="446" y="427.6" width="1.45" height="1.25" fill="#4e4e4e"/>
<rect x="447.7" y="427.6" width="1.45" height="1.25" fill="#4e4e4e"/>
<rect x="449.4" y="427.6" width="1.45" height="1.25" fill="#4e4e4e"/>
<rect x="453.6" y="427.6" width="4" height="1.2" fill="#6a6a6a"/>
<rect x="444.3" y="429.5" width="1.45" height="1.25" fill="#4e4e4e"/>
<rect x="446" y="429.5" width="1.45" height="1.25" fill="#4e4e4e"/>
<rect x="447.7" y="429.5" width="1.45" height="1.25" fill="#4e4e4e"/>
<rect x="449.4" y="429.5" width="1.45" height="1.25" fill="#4e4e4e"/>
<rect x="453.6" y="429.5" width="4" height="1.2" fill="#6a6a6a"/>
<rect x="444.3" y="431.4" width="1.45" height="1.25" fill="#4e4e4e"/>
<rect x="446" y="431.4" width="1.45" height="1.25" fill="#4e4e4e"/>
<rect x="447.7" y="431.4" width="1.45" height="1.25" fill="#4e4e4e"/>
<rect x="449.4" y="431.4" width="1.45" height="1.25" fill="#4e4e4e"/>
<rect x="715" y="349.1" width="4" height="1.2" fill="#555"/>
<rect x="715" y="350.6" width="5" height="1.2" fill="#e04040"/>
<rect x="706.5" y="350.6" width="3" height="1" fill="#909090"/>
<rect x="706.5" y="355.2" width="3" height="1" fill="#909090"/>
<rect x="706.5" y="359.8" width="3" height="1" fill="#909090"/>
<rect x="706.5" y="364.4" width="3" height="1" fill="#909090"/>
<rect x="706.5" y="369" width="3" height="1" fill="#909090"/>
<rect x="706.5" y="373.6" width="3" height="1" fill="#909090"/>
<rect x="706.5" y="378.2" width="3" height="1" fill="#909090"/>
<rect x="706.5" y="382.8" width="3" height="1" fill="#909090"/>
<rect x="706.5" y="387.4" width="3" height="1" fill="#909090"/>
<rect x="728.3" y="383.4" width="1.2" height="4" fill="#9a9ad0"/>
<rect x="715" y="390.9" width="4" height="1.2" fill="#555"/>
<rect x="715" y="392.4" width="5" height="1.2" fill="#e04040"/>
<rect x="706.5" y="392.4" width="3" height="1" fill="#909090"/>
<rect x="706.5" y="396.65" width="3" height="1" fill="#909090"/>
<rect x="706.5" y="400.9" width="3" height="1" fill="#909090"/>
<rect x="728.3" y="396.9" width="1.2" height="4" fill="#9a9ad0"/>
<rect x="715" y="404.4" width="4" height="1.2" fill="#555"/>
<rect x="715" y="405.9" width="5" height="1.2" fill="#e04040"/>
<rect x="706.5" y="405.9" width="3" height="1" fill="#909090"/>
<rect x="706.5" y="411.45" width="3" height="1" fill="#909090"/>
<rect x="706.5" y="417" width="3" height="1" fill="#909090"/>
<rect x="728.3" y="413" width="1.2" height="4" fill="#9a9ad0"/>
<rect x="715" y="420.5" width="4" height="1.2" fill="#555"/>
<rect x="715" y="422" width="5" height="1.2" fill="#e04040"/>
<rect x="706.5" y="422" width="3" height="1" fill="#909090"/>
<rect x="706.5" y="426.23" width="3" height="1" fill="#909090"/>
<rect x="706.5" y="430.47" width="3" height="1" fill="#909090"/>
<rect x="706.5" y="434.7" width="3" height="1" fill="#909090"/>
<rect x="706.5" y="438.93" width="3" height="1" fill="#909090"/>
<rect x="706.5" y="443.17" width="3" height="1" fill="#909090"/>
<rect x="706.5" y="447.4" width="3" height="1" fill="#909090"/>
<rect x="706.5" y="451.63" width="3" height="1" fill="#909090"/>
<rect x="706.5" y="455.87" width="3" height="1" fill="#909090"/>
<rect x="706.5" y="460.1" width="3" height="1" fill="#909090"/>
<rect x="706.5" y="464.33" width="3" height="1" fill="#909090"/>
<rect x="706.5" y="468.57" width="3" height="1" fill="#909090"/>
<rect x="706.5" y="472.8" width="3" height="1" fill="#909090"/>
<rect x="728.3" y="468.8" width="1.2" height="4" fill="#9a9ad0"/>
<rect x="461.7" y="474.8" width="243.3" height="9.8" fill="#ffffff"/>
<rect x="461.7" y="481.6" width="243.3" height="3" fill="#f2f2f2"/>
<rect x="469.7" y="477.1" width="4.5" height="1.3" fill="#9a9a9a"/>
<rect x="487.8" y="477.1" width="4.5" height="1.3" fill="#9a9a9a"/>
<rect x="505.9" y="477.1" width="4.5" height="1.3" fill="#9a9a9a"/>
<rect x="524" y="477.1" width="4.5" height="1.3" fill="#9a9a9a"/>
<rect x="542.1" y="477.1" width="4.5" height="1.3" fill="#9a9a9a"/>
<rect x="560.2" y="477.1" width="4.5" height="1.3" fill="#9a9a9a"/>
<rect x="578.3" y="477.1" width="4.5" height="1.3" fill="#9a9a9a"/>
<rect x="596.4" y="477.1" width="4.5" height="1.3" fill="#9a9a9a"/>
<rect x="614.5" y="477.1" width="4.5" height="1.3" fill="#9a9a9a"/>
<rect x="632.6" y="477.1" width="4.5" height="1.3" fill="#9a9a9a"/>
<rect x="650.7" y="477.1" width="4.5" height="1.3" fill="#9a9a9a"/>
<rect x="668.8" y="477.1" width="4.5" height="1.3" fill="#9a9a9a"/>
<rect x="686.9" y="477.1" width="4.5" height="1.3" fill="#9a9a9a"/>
<text x="611.35" y="481.2" font-size="2.2" text-anchor="middle" fill="#777" font-weight="normal" font-family="Liberation Sans">seconds</text>
<rect x="441" y="476.4" width="2.2" height="2.2" fill="#50a050"/>
<rect x="444.5" y="476.8" width="12" height="1.4" fill="#888"/>
<rect x="442" y="479.3" width="17" height="4" fill="#f4f4f4" stroke="#b0b0b0" stroke-width="0.4"/>
<rect x="444" y="480.6" width="8" height="1.4" fill="#c05080"/>
<rect x="707" y="475.8" width="10" height="8" fill="#f0f0f0"/>
<rect x="709" y="476.8" width="3" height="3" fill="#3050d0"/>
<rect x="720" y="476.3" width="9" height="7" fill="#f6f6f6" stroke="#c0c0c0" stroke-width="0.4"/>
<rect x="440" y="484.6" width="292.3" height="3.7" fill="#e6e6e6"/>
<line x1="440" y1="484.6" x2="732.3" y2="484.6" stroke="#b0b0b0" stroke-width="0.6"/>
<rect x="442" y="485.8" width="2" height="1.6" fill="#d04040"/>
<rect x="446" y="485.8" width="24" height="1.6" fill="#707070"/>
<rect x="472" y="485.8" width="30" height="1.6" fill="#8a8a8a"/>
<rect x="667.3" y="485.8" width="62" height="1.6" fill="#8a8a8a"/>
<path d="M461.7 374.5 L538.1 374.5 L538.69 371.1 L539.28 368.06 L539.88 365.36 L540.47 362.99 L541.06 360.96 L541.65 359.24 L542.24 357.84 L542.83 356.74 L543.43 355.92 L544.02 355.38 L544.61 355.08 L545.2 355 L585 355 L586 356.96 L587 358.65 L588 360.12 L589 361.39 L590 362.51 L591 363.49 L592 364.36 L593 365.12 L594 365.8 L595 366.41 L596 366.96 L597 367.45 L598 367.9 L599 368.31 L600 368.68 L601 369.02 L602 369.33 L603 369.62 L604 369.88 L605 370.13 L608 370.78 L611 371.31 L614 371.76 L617 372.14 L620 372.46 L623 372.74 L626 372.97 L629 373.18 L632 373.35 L635 373.51 L638 373.64 L641 373.75 L644 373.85 L647 373.94 L650 374.01 L653 374.08 L656 374.14 L659 374.18 L662 374.23 L665 374.26 L668 374.29 L671 374.32 L674 374.35 L677 374.37 L680 374.38 L683 374.4 L686 374.41 L689 374.42 L692 374.43 L695 374.44 L698 374.45 L701 374.46 L704 374.46 L705 374.46" stroke="#e06a6a" stroke-width="0.9" fill="none"/>
<line x1="461.7" y1="397.77" x2="705" y2="397.77" stroke="#8c8cf0" stroke-width="0.9"/>
<line x1="461.7" y1="413.2" x2="705" y2="413.2" stroke="#90c890" stroke-width="0.8"/>
<rect x="461.7" y="445.3" width="78.8" height="8.16" fill="#f3c6f3"/>
<rect x="588.5" y="445.3" width="116.5" height="8.16" fill="#f3c6f3"/>
<rect x="461.7" y="453.46" width="78.8" height="4.08" fill="#f6d2f6"/>
<rect x="588.5" y="453.46" width="116.5" height="4.08" fill="#f6d2f6"/>
<path d="M462.2 446.01L462.2 458.4M464.9 445.97L464.9 458.05M467.6 445.09L467.6 458.24M470.3 445.35L470.3 458.41M473 445.74L473 457.15M475.7 445.92L475.7 458.2M478.4 445.38L478.4 457.49M481.1 445.77L481.1 457.8M483.8 446.05L483.8 457.11M486.5 445.61L486.5 458.29M489.2 445.29L489.2 458.29M491.9 445.7L491.9 457.79M494.6 445.19L494.6 457.34M497.3 445.44L497.3 458.53M500 445.14L500 457.89M502.7 446.05L502.7 458.14M505.4 445.93L505.4 457.82M508.1 446.09L508.1 457.51M510.8 445.5L510.8 457.27M513.5 445.21L513.5 458.13M516.2 445.23L516.2 458.36M518.9 445.62L518.9 458.39M521.6 445.72L521.6 457.8M524.3 445.01L524.3 458.24M527 445.33L527 458.43M529.7 445.93L529.7 458.59M532.4 445.33L532.4 458.2M535.1 445.53L535.1 457.49M537.8 445.52L537.8 457.57M589.1 446L589.1 457.58M591.8 445.03L591.8 458.32M594.5 445.94L594.5 457.41M597.2 445.69L597.2 458.29M599.9 445.89L599.9 458.21M602.6 446.13L602.6 457.26M605.3 445.86L605.3 457.6M608 445.92L608 457.21M610.7 445.82L610.7 458.39M613.4 445.31L613.4 457.99M616.1 445.22L616.1 457.96M618.8 446.13L618.8 458.25M621.5 445.19L621.5 458.49M624.2 445.15L624.2 458.43M626.9 445.19L626.9 457.57M629.6 445.2L629.6 458.32M632.3 445.95L632.3 457.56M635 445.8L635 457.22M637.7 445.16L637.7 457.54M640.4 445.48L640.4 457.49M643.1 445.09L643.1 457.46M645.8 445.65L645.8 457.9M648.5 445.95L648.5 457.58M651.2 445.95L651.2 457.53M653.9 445.31L653.9 457.13M656.6 446.08L656.6 458.37M659.3 446.2L659.3 457.12M662 445.24L662 458.47M664.7 445.67L664.7 458.3M667.4 445.53L667.4 458.21M670.1 445.58L670.1 457.73M672.8 445.19L672.8 458.22M675.5 445.12L675.5 457.56M678.2 445.9L678.2 458.32M680.9 445.31L680.9 457.24M683.6 445.95L683.6 457.56M686.3 445.15L686.3 457.38M689 445.79L689 457.22M691.7 445.93L691.7 457.55M694.4 446.04L694.4 458M697.1 445.77L697.1 457.97M699.8 445.95L699.8 457.47M702.5 445.33L702.5 458.21" stroke="#d266d6" stroke-width="1" fill="none"/>
<path d="M539.5 451.8 L543.5 454 L587.5 454 L590.5 451.8" stroke="#d466d8" stroke-width="0.9" fill="none"/>
<rect x="605.7" y="482.4" width="6" height="1.8" fill="#000"/>
<rect x="440" y="489" width="292.3" height="158" fill="#ececec"/>
<rect x="440" y="489" width="292.3" height="4.2" fill="url(#tgrad)"/>
<rect x="440.6" y="489.6" width="1.6" height="3" fill="#d04050"/>
<rect x="442.2" y="489.6" width="1.4" height="3" fill="#f0f0f0"/>
<rect x="445" y="490.1" width="2.3" height="2" fill="#c8d0f0" opacity="0.45"/>
<rect x="447.9" y="490.1" width="2.3" height="2" fill="#c8d0f0" opacity="0.45"/>
<rect x="450.8" y="490.1" width="2.3" height="2" fill="#c8d0f0" opacity="0.45"/>
<rect x="453.7" y="490.1" width="2.3" height="2" fill="#c8d0f0" opacity="0.45"/>
<rect x="456.6" y="490.1" width="2.3" height="2" fill="#c8d0f0" opacity="0.45"/>
<rect x="459.5" y="490.1" width="2.3" height="2" fill="#c8d0f0" opacity="0.45"/>
<rect x="462.4" y="490.1" width="2.3" height="2" fill="#c8d0f0" opacity="0.45"/>
<rect x="465.3" y="490.1" width="2.3" height="2" fill="#c8d0f0" opacity="0.45"/>
<rect x="468.2" y="490.1" width="2.3" height="2" fill="#c8d0f0" opacity="0.45"/>
<rect x="471.1" y="490.1" width="2.3" height="2" fill="#c8d0f0" opacity="0.45"/>
<rect x="474" y="490.1" width="2.3" height="2" fill="#c8d0f0" opacity="0.45"/>
<rect x="476.9" y="490.1" width="2.3" height="2" fill="#c8d0f0" opacity="0.45"/>
<rect x="479.8" y="490.1" width="2.3" height="2" fill="#c8d0f0" opacity="0.45"/>
<rect x="482.7" y="490.1" width="2.3" height="2" fill="#c8d0f0" opacity="0.45"/>
<rect x="485.6" y="490.1" width="2.3" height="2" fill="#c8d0f0" opacity="0.45"/>
<rect x="488.5" y="490.1" width="2.3" height="2" fill="#c8d0f0" opacity="0.45"/>
<rect x="718.3" y="489.9" width="3.3" height="2.4" fill="#5d6fb0"/>
<rect x="722.6" y="489.9" width="3.3" height="2.4" fill="#5d6fb0"/>
<rect x="726.9" y="489.9" width="3.3" height="2.4" fill="#5d6fb0"/>
<rect x="440" y="493.2" width="292.3" height="3.4" fill="#e0e0ec"/>
<rect x="440.8" y="493.7" width="2.6" height="2.4" fill="#a060a0"/>
<rect x="445" y="494" width="1.5" height="1.5" fill="#78788a"/>
<rect x="446.9" y="494" width="1.5" height="1.5" fill="#78788a"/>
<rect x="448.8" y="494" width="1.5" height="1.5" fill="#78788a"/>
<rect x="450.7" y="494" width="1.5" height="1.5" fill="#78788a"/>
<rect x="456.3" y="494" width="1.5" height="1.5" fill="#78788a"/>
<rect x="458.2" y="494" width="1.5" height="1.5" fill="#78788a"/>
<rect x="460.1" y="494" width="1.5" height="1.5" fill="#78788a"/>
<rect x="462" y="494" width="1.5" height="1.5" fill="#78788a"/>
<rect x="467.6" y="494" width="1.5" height="1.5" fill="#78788a"/>
<rect x="469.5" y="494" width="1.5" height="1.5" fill="#78788a"/>
<rect x="471.4" y="494" width="1.5" height="1.5" fill="#78788a"/>
<rect x="473.3" y="494" width="1.5" height="1.5" fill="#78788a"/>
<rect x="478.9" y="494" width="1.5" height="1.5" fill="#78788a"/>
<rect x="480.8" y="494" width="1.5" height="1.5" fill="#78788a"/>
<rect x="482.7" y="494" width="1.5" height="1.5" fill="#78788a"/>
<rect x="484.6" y="494" width="1.5" height="1.5" fill="#78788a"/>
<rect x="490.2" y="494" width="1.5" height="1.5" fill="#78788a"/>
<rect x="492.1" y="494" width="1.5" height="1.5" fill="#78788a"/>
<rect x="494" y="494" width="1.5" height="1.5" fill="#78788a"/>
<rect x="495.9" y="494" width="1.5" height="1.5" fill="#78788a"/>
<rect x="501.5" y="494" width="1.5" height="1.5" fill="#78788a"/>
<rect x="503.4" y="494" width="1.5" height="1.5" fill="#78788a"/>
<rect x="505.3" y="494" width="1.5" height="1.5" fill="#78788a"/>
<rect x="507.2" y="494" width="1.5" height="1.5" fill="#78788a"/>
<rect x="512.8" y="494" width="1.5" height="1.5" fill="#78788a"/>
<rect x="514.7" y="494" width="1.5" height="1.5" fill="#78788a"/>
<rect x="516.6" y="494" width="1.5" height="1.5" fill="#78788a"/>
<rect x="518.5" y="494" width="1.5" height="1.5" fill="#78788a"/>
<rect x="524.1" y="494" width="1.5" height="1.5" fill="#78788a"/>
<rect x="526" y="494" width="1.5" height="1.5" fill="#78788a"/>
<rect x="527.9" y="494" width="1.5" height="1.5" fill="#78788a"/>
<rect x="529.8" y="494" width="1.5" height="1.5" fill="#78788a"/>
<rect x="535.4" y="494" width="1.5" height="1.5" fill="#78788a"/>
<rect x="537.3" y="494" width="1.5" height="1.5" fill="#78788a"/>
<rect x="539.2" y="494" width="1.5" height="1.5" fill="#78788a"/>
<rect x="541.1" y="494" width="1.5" height="1.5" fill="#78788a"/>
<rect x="546.7" y="494" width="1.5" height="1.5" fill="#78788a"/>
<rect x="548.6" y="494" width="1.5" height="1.5" fill="#78788a"/>
<rect x="550.5" y="494" width="1.5" height="1.5" fill="#78788a"/>
<rect x="552.4" y="494" width="1.5" height="1.5" fill="#78788a"/>
<rect x="440" y="496.6" width="292.3" height="10" fill="#ebebeb"/>
<rect x="442" y="497.5" width="2.6" height="2.8" fill="#b06060" opacity="0.8"/>
<rect x="445.6" y="497.5" width="2.6" height="2.8" fill="#80a0c8" opacity="0.8"/>
<rect x="449.2" y="497.5" width="2.6" height="2.8" fill="#9070b0" opacity="0.8"/>
<rect x="452.8" y="497.5" width="2.6" height="2.8" fill="#6090c0" opacity="0.8"/>
<rect x="456.4" y="497.5" width="2.6" height="2.8" fill="#b0b0b0" opacity="0.8"/>
<rect x="462.2" y="497.5" width="2.6" height="2.8" fill="#6070b0" opacity="0.8"/>
<rect x="465.8" y="497.5" width="2.6" height="2.8" fill="#c08050" opacity="0.8"/>
<rect x="469.4" y="497.5" width="2.6" height="2.8" fill="#a0a0c0" opacity="0.8"/>
<rect x="473" y="497.5" width="2.6" height="2.8" fill="#a05050" opacity="0.8"/>
<rect x="476.6" y="497.5" width="2.6" height="2.8" fill="#6080a8" opacity="0.8"/>
<rect x="482.4" y="497.5" width="2.6" height="2.8" fill="#70a070" opacity="0.8"/>
<rect x="486" y="497.5" width="2.6" height="2.8" fill="#7080b8" opacity="0.8"/>
<rect x="489.6" y="497.5" width="2.6" height="2.8" fill="#c07070" opacity="0.8"/>
<rect x="493.2" y="497.5" width="2.6" height="2.8" fill="#909090" opacity="0.8"/>
<rect x="496.8" y="497.5" width="2.6" height="2.8" fill="#b8a050" opacity="0.8"/>
<rect x="502.6" y="497.5" width="2.6" height="2.8" fill="#c0a060" opacity="0.8"/>
<rect x="506.2" y="497.5" width="2.6" height="2.8" fill="#80b080" opacity="0.8"/>
<rect x="509.8" y="497.5" width="2.6" height="2.8" fill="#b06060" opacity="0.8"/>
<rect x="513.4" y="497.5" width="2.6" height="2.8" fill="#80a0c8" opacity="0.8"/>
<rect x="517" y="497.5" width="2.6" height="2.8" fill="#9070b0" opacity="0.8"/>
<rect x="522.8" y="497.5" width="2.6" height="2.8" fill="#6090c0" opacity="0.8"/>
<rect x="526.4" y="497.5" width="2.6" height="2.8" fill="#b0b0b0" opacity="0.8"/>
<rect x="530" y="497.5" width="2.6" height="2.8" fill="#6070b0" opacity="0.8"/>
<rect x="533.6" y="497.5" width="2.6" height="2.8" fill="#c08050" opacity="0.8"/>
<rect x="537.2" y="497.5" width="2.6" height="2.8" fill="#a0a0c0" opacity="0.8"/>
<rect x="543" y="497.5" width="2.6" height="2.8" fill="#a05050" opacity="0.8"/>
<rect x="546.6" y="497.5" width="2.6" height="2.8" fill="#6080a8" opacity="0.8"/>
<rect x="550.2" y="497.5" width="2.6" height="2.8" fill="#70a070" opacity="0.8"/>
<rect x="553.8" y="497.5" width="2.6" height="2.8" fill="#7080b8" opacity="0.8"/>
<rect x="557.4" y="497.5" width="2.6" height="2.8" fill="#c07070" opacity="0.8"/>
<rect x="563.2" y="497.5" width="2.6" height="2.8" fill="#909090" opacity="0.8"/>
<rect x="566.8" y="497.5" width="2.6" height="2.8" fill="#b8a050" opacity="0.8"/>
<rect x="570.4" y="497.5" width="2.6" height="2.8" fill="#c0a060" opacity="0.8"/>
<rect x="574" y="497.5" width="2.6" height="2.8" fill="#80b080" opacity="0.8"/>
<rect x="577.6" y="497.5" width="2.6" height="2.8" fill="#b06060" opacity="0.8"/>
<rect x="583.4" y="497.5" width="2.6" height="2.8" fill="#80a0c8" opacity="0.8"/>
<rect x="587" y="497.5" width="2.6" height="2.8" fill="#9070b0" opacity="0.8"/>
<line x1="440" y1="501.1" x2="732.3" y2="501.1" stroke="#c8c8c8" stroke-width="0.5"/>
<rect x="441" y="501.8" width="2.6" height="2.8" fill="#70a070"/>
<rect x="444.5" y="501.9" width="14" height="2.6" fill="#fafafa" stroke="#909090" stroke-width="0.4"/>
<rect x="445.5" y="502.6" width="9" height="1.3" fill="#555"/>
<rect x="461" y="501.8" width="2.6" height="2.8" fill="#c09040"/>
<rect x="464" y="501.9" width="40" height="2.6" fill="#fafafa" stroke="#909090" stroke-width="0.4"/>
<rect x="465" y="502.6" width="7" height="1.3" fill="#666"/>
<rect x="492" y="502.6" width="5" height="1.3" fill="#555"/>
<rect x="506" y="501.9" width="10" height="2.6" fill="#fafafa" stroke="#909090" stroke-width="0.4"/>
<rect x="518" y="501.9" width="9" height="2.4" fill="#7898e8"/>
<rect x="664" y="501.9" width="22" height="2.6" fill="#f6f6f6" stroke="#a0a0a0" stroke-width="0.4"/>
<rect x="666" y="502.3" width="3" height="2" fill="#8888d0"/>
<rect x="674" y="502.3" width="3" height="2" fill="#9070c0"/>
<rect x="688" y="501.9" width="42" height="2.6" fill="#f6f6f6" stroke="#a0a0a0" stroke-width="0.4"/>
<rect x="692" y="502.6" width="24" height="1.3" fill="#777"/>
<rect x="726" y="502" width="3" height="2.4" fill="#50a050"/>
<line x1="440" y1="506.2" x2="732.3" y2="506.2" stroke="#9a9a9a" stroke-width="0.8"/>
<rect x="440" y="506.6" width="21.7" height="136.3" fill="#ebebeb"/>
<rect x="461.7" y="506.6" width="243.3" height="126.5" fill="#fffdfb"/>
<line x1="464.7" y1="506.6" x2="464.7" y2="633.1" stroke="#fcebdc" stroke-width="0.55"/>
<line x1="469.26" y1="506.6" x2="469.26" y2="633.1" stroke="#fcebdc" stroke-width="0.55"/>
<line x1="473.82" y1="506.6" x2="473.82" y2="633.1" stroke="#fcebdc" stroke-width="0.55"/>
<line x1="478.38" y1="506.6" x2="478.38" y2="633.1" stroke="#fcebdc" stroke-width="0.55"/>
<line x1="482.94" y1="506.6" x2="482.94" y2="633.1" stroke="#fcebdc" stroke-width="0.55"/>
<line x1="487.5" y1="506.6" x2="487.5" y2="633.1" stroke="#fcebdc" stroke-width="0.55"/>
<line x1="492.06" y1="506.6" x2="492.06" y2="633.1" stroke="#fcebdc" stroke-width="0.55"/>
<line x1="496.62" y1="506.6" x2="496.62" y2="633.1" stroke="#fcebdc" stroke-width="0.55"/>
<line x1="501.18" y1="506.6" x2="501.18" y2="633.1" stroke="#fcebdc" stroke-width="0.55"/>
<line x1="505.74" y1="506.6" x2="505.74" y2="633.1" stroke="#fcebdc" stroke-width="0.55"/>
<line x1="510.3" y1="506.6" x2="510.3" y2="633.1" stroke="#fcebdc" stroke-width="0.55"/>
<line x1="514.86" y1="506.6" x2="514.86" y2="633.1" stroke="#fcebdc" stroke-width="0.55"/>
<line x1="519.42" y1="506.6" x2="519.42" y2="633.1" stroke="#fcebdc" stroke-width="0.55"/>
<line x1="523.98" y1="506.6" x2="523.98" y2="633.1" stroke="#fcebdc" stroke-width="0.55"/>
<line x1="528.54" y1="506.6" x2="528.54" y2="633.1" stroke="#fcebdc" stroke-width="0.55"/>
<line x1="533.1" y1="506.6" x2="533.1" y2="633.1" stroke="#fcebdc" stroke-width="0.55"/>
<line x1="537.66" y1="506.6" x2="537.66" y2="633.1" stroke="#fcebdc" stroke-width="0.55"/>
<line x1="542.22" y1="506.6" x2="542.22" y2="633.1" stroke="#fcebdc" stroke-width="0.55"/>
<line x1="546.78" y1="506.6" x2="546.78" y2="633.1" stroke="#fcebdc" stroke-width="0.55"/>
<line x1="551.34" y1="506.6" x2="551.34" y2="633.1" stroke="#fcebdc" stroke-width="0.55"/>
<line x1="555.9" y1="506.6" x2="555.9" y2="633.1" stroke="#fcebdc" stroke-width="0.55"/>
<line x1="560.46" y1="506.6" x2="560.46" y2="633.1" stroke="#fcebdc" stroke-width="0.55"/>
<line x1="565.02" y1="506.6" x2="565.02" y2="633.1" stroke="#fcebdc" stroke-width="0.55"/>
<line x1="569.58" y1="506.6" x2="569.58" y2="633.1" stroke="#fcebdc" stroke-width="0.55"/>
<line x1="574.14" y1="506.6" x2="574.14" y2="633.1" stroke="#fcebdc" stroke-width="0.55"/>
<line x1="578.7" y1="506.6" x2="578.7" y2="633.1" stroke="#fcebdc" stroke-width="0.55"/>
<line x1="583.26" y1="506.6" x2="583.26" y2="633.1" stroke="#fcebdc" stroke-width="0.55"/>
<line x1="587.82" y1="506.6" x2="587.82" y2="633.1" stroke="#fcebdc" stroke-width="0.55"/>
<line x1="592.38" y1="506.6" x2="592.38" y2="633.1" stroke="#fcebdc" stroke-width="0.55"/>
<line x1="596.94" y1="506.6" x2="596.94" y2="633.1" stroke="#fcebdc" stroke-width="0.55"/>
<line x1="601.5" y1="506.6" x2="601.5" y2="633.1" stroke="#fcebdc" stroke-width="0.55"/>
<line x1="606.06" y1="506.6" x2="606.06" y2="633.1" stroke="#fcebdc" stroke-width="0.55"/>
<line x1="610.62" y1="506.6" x2="610.62" y2="633.1" stroke="#fcebdc" stroke-width="0.55"/>
<line x1="615.18" y1="506.6" x2="615.18" y2="633.1" stroke="#fcebdc" stroke-width="0.55"/>
<line x1="619.74" y1="506.6" x2="619.74" y2="633.1" stroke="#fcebdc" stroke-width="0.55"/>
<line x1="624.3" y1="506.6" x2="624.3" y2="633.1" stroke="#fcebdc" stroke-width="0.55"/>
<line x1="628.86" y1="506.6" x2="628.86" y2="633.1" stroke="#fcebdc" stroke-width="0.55"/>
<line x1="633.42" y1="506.6" x2="633.42" y2="633.1" stroke="#fcebdc" stroke-width="0.55"/>
<line x1="637.98" y1="506.6" x2="637.98" y2="633.1" stroke="#fcebdc" stroke-width="0.55"/>
<line x1="642.54" y1="506.6" x2="642.54" y2="633.1" stroke="#fcebdc" stroke-width="0.55"/>
<line x1="647.1" y1="506.6" x2="647.1" y2="633.1" stroke="#fcebdc" stroke-width="0.55"/>
<line x1="651.66" y1="506.6" x2="651.66" y2="633.1" stroke="#fcebdc" stroke-width="0.55"/>
<line x1="656.22" y1="506.6" x2="656.22" y2="633.1" stroke="#fcebdc" stroke-width="0.55"/>
<line x1="660.78" y1="506.6" x2="660.78" y2="633.1" stroke="#fcebdc" stroke-width="0.55"/>
<line x1="665.34" y1="506.6" x2="665.34" y2="633.1" stroke="#fcebdc" stroke-width="0.55"/>
<line x1="669.9" y1="506.6" x2="669.9" y2="633.1" stroke="#fcebdc" stroke-width="0.55"/>
<line x1="674.46" y1="506.6" x2="674.46" y2="633.1" stroke="#fcebdc" stroke-width="0.55"/>
<line x1="679.02" y1="506.6" x2="679.02" y2="633.1" stroke="#fcebdc" stroke-width="0.55"/>
<line x1="683.58" y1="506.6" x2="683.58" y2="633.1" stroke="#fcebdc" stroke-width="0.55"/>
<line x1="688.14" y1="506.6" x2="688.14" y2="633.1" stroke="#fcebdc" stroke-width="0.55"/>
<line x1="692.7" y1="506.6" x2="692.7" y2="633.1" stroke="#fcebdc" stroke-width="0.55"/>
<line x1="697.26" y1="506.6" x2="697.26" y2="633.1" stroke="#fcebdc" stroke-width="0.55"/>
<line x1="701.82" y1="506.6" x2="701.82" y2="633.1" stroke="#fcebdc" stroke-width="0.55"/>
<line x1="461.7" y1="511.1" x2="705" y2="511.1" stroke="#fcebdc" stroke-width="0.55"/>
<line x1="461.7" y1="515.68" x2="705" y2="515.68" stroke="#fcebdc" stroke-width="0.55"/>
<line x1="461.7" y1="520.26" x2="705" y2="520.26" stroke="#fcebdc" stroke-width="0.55"/>
<line x1="461.7" y1="524.84" x2="705" y2="524.84" stroke="#fcebdc" stroke-width="0.55"/>
<line x1="461.7" y1="529.42" x2="705" y2="529.42" stroke="#fcebdc" stroke-width="0.55"/>
<line x1="461.7" y1="534" x2="705" y2="534" stroke="#fcebdc" stroke-width="0.55"/>
<line x1="461.7" y1="538.58" x2="705" y2="538.58" stroke="#fcebdc" stroke-width="0.55"/>
<line x1="461.7" y1="543.16" x2="705" y2="543.16" stroke="#fcebdc" stroke-width="0.55"/>
<line x1="461.7" y1="552.3" x2="705" y2="552.3" stroke="#fcebdc" stroke-width="0.55"/>
<line x1="461.7" y1="556.88" x2="705" y2="556.88" stroke="#fcebdc" stroke-width="0.55"/>
<line x1="461.7" y1="566.3" x2="705" y2="566.3" stroke="#fcebdc" stroke-width="0.55"/>
<line x1="461.7" y1="570.88" x2="705" y2="570.88" stroke="#fcebdc" stroke-width="0.55"/>
<line x1="461.7" y1="575.46" x2="705" y2="575.46" stroke="#fcebdc" stroke-width="0.55"/>
<line x1="461.7" y1="582.5" x2="705" y2="582.5" stroke="#fcebdc" stroke-width="0.55"/>
<line x1="461.7" y1="587.08" x2="705" y2="587.08" stroke="#fcebdc" stroke-width="0.55"/>
<line x1="461.7" y1="591.66" x2="705" y2="591.66" stroke="#fcebdc" stroke-width="0.55"/>
<line x1="461.7" y1="596.24" x2="705" y2="596.24" stroke="#fcebdc" stroke-width="0.55"/>
<line x1="461.7" y1="600.82" x2="705" y2="600.82" stroke="#fcebdc" stroke-width="0.55"/>
<line x1="461.7" y1="605.4" x2="705" y2="605.4" stroke="#fcebdc" stroke-width="0.55"/>
<line x1="461.7" y1="609.98" x2="705" y2="609.98" stroke="#fcebdc" stroke-width="0.55"/>
<line x1="461.7" y1="614.56" x2="705" y2="614.56" stroke="#fcebdc" stroke-width="0.55"/>
<line x1="461.7" y1="619.14" x2="705" y2="619.14" stroke="#fcebdc" stroke-width="0.55"/>
<line x1="461.7" y1="623.72" x2="705" y2="623.72" stroke="#fcebdc" stroke-width="0.55"/>
<line x1="461.7" y1="628.3" x2="705" y2="628.3" stroke="#fcebdc" stroke-width="0.55"/>
<rect x="705" y="506.6" width="27.3" height="136.3" fill="#ededed"/>
<line x1="440" y1="547.8" x2="732.3" y2="547.8" stroke="#a4a4a4" stroke-width="1"/>
<line x1="440" y1="561.8" x2="732.3" y2="561.8" stroke="#a4a4a4" stroke-width="1"/>
<line x1="440" y1="578" x2="732.3" y2="578" stroke="#a4a4a4" stroke-width="1"/>
<line x1="440" y1="633.1" x2="732.3" y2="633.1" stroke="#a4a4a4" stroke-width="1"/>
<line x1="461.7" y1="506.6" x2="461.7" y2="633.1" stroke="#8c8c8c" stroke-width="1"/>
<line x1="705" y1="506.6" x2="705" y2="642.9" stroke="#9a9a9a" stroke-width="1"/>
<line x1="440.4" y1="489" x2="440.4" y2="647" stroke="#6a6a6a" stroke-width="0.8"/>
<rect x="441" y="507.3" width="3" height="2.8" fill="#e02020"/>
<rect x="444.3" y="507.6" width="3.4" height="1.25" fill="#4a4a4a"/>
<rect x="448.3" y="507.9" width="0.8" height="0.9" fill="#666"/>
<rect x="444.3" y="509.5" width="1.45" height="1.25" fill="#4e4e4e"/>
<rect x="446" y="509.5" width="1.45" height="1.25" fill="#4e4e4e"/>
<rect x="447.7" y="509.5" width="1.45" height="1.25" fill="#4e4e4e"/>
<rect x="449.4" y="509.5" width="1.45" height="1.25" fill="#4e4e4e"/>
<rect x="444.3" y="511.4" width="1.45" height="1.25" fill="#4e4e4e"/>
<rect x="446" y="511.4" width="1.45" height="1.25" fill="#4e4e4e"/>
<rect x="447.7" y="511.4" width="1.45" height="1.25" fill="#4e4e4e"/>
<rect x="449.4" y="511.4" width="1.45" height="1.25" fill="#4e4e4e"/>
<rect x="453.6" y="511.4" width="4" height="1.2" fill="#6a6a6a"/>
<rect x="444.3" y="513.3" width="1.45" height="1.25" fill="#4e4e4e"/>
<rect x="446" y="513.3" width="1.45" height="1.25" fill="#4e4e4e"/>
<rect x="447.7" y="513.3" width="1.45" height="1.25" fill="#4e4e4e"/>
<rect x="453.6" y="513.3" width="4" height="1.2" fill="#6a6a6a"/>
<rect x="444.3" y="515.2" width="1.45" height="1.25" fill="#4e4e4e"/>
<rect x="446" y="515.2" width="1.45" height="1.25" fill="#4e4e4e"/>
<rect x="447.7" y="515.2" width="1.45" height="1.25" fill="#4e4e4e"/>
<rect x="453.6" y="515.2" width="4" height="1.2" fill="#6a6a6a"/>
<rect x="444.3" y="517.1" width="1.45" height="1.25" fill="#4e4e4e"/>
<rect x="446" y="517.1" width="1.45" height="1.25" fill="#4e4e4e"/>
<rect x="447.7" y="517.1" width="1.45" height="1.25" fill="#4e4e4e"/>
<rect x="449.4" y="517.1" width="1.45" height="1.25" fill="#4e4e4e"/>
<rect x="453.6" y="517.1" width="3.5" height="1.2" fill="#6a6a6a"/>
<rect x="444.3" y="519" width="1.45" height="1.25" fill="#4e4e4e"/>
<rect x="446" y="519" width="1.45" height="1.25" fill="#4e4e4e"/>
<rect x="447.7" y="519" width="1.45" height="1.25" fill="#4e4e4e"/>
<rect x="449.4" y="519" width="1.45" height="1.25" fill="#4e4e4e"/>
<rect x="444.3" y="520.9" width="3" height="1.2" fill="#6a6a6a"/>
<rect x="448" y="520.9" width="12.8" height="1.3" fill="#555"/>
<rect x="441" y="548.5" width="3" height="2.8" fill="#2020e0"/>
<rect x="444.3" y="548.8" width="3.4" height="1.25" fill="#4a4a4a"/>
<rect x="448.3" y="549.1" width="0.8" height="0.9" fill="#666"/>
<rect x="444.3" y="550.7" width="1.45" height="1.25" fill="#4e4e4e"/>
<rect x="446" y="550.7" width="1.45" height="1.25" fill="#4e4e4e"/>
<rect x="447.7" y="550.7" width="1.45" height="1.25" fill="#4e4e4e"/>
<rect x="449.4" y="550.7" width="1.45" height="1.25" fill="#4e4e4e"/>
<rect x="444.3" y="552.6" width="1.45" height="1.25" fill="#4e4e4e"/>
<rect x="446" y="552.6" width="1.45" height="1.25" fill="#4e4e4e"/>
<rect x="447.7" y="552.6" width="1.45" height="1.25" fill="#4e4e4e"/>
<rect x="453.6" y="552.6" width="2.5" height="1.2" fill="#6a6a6a"/>
<rect x="444.3" y="554.5" width="1.45" height="1.25" fill="#4e4e4e"/>
<rect x="446" y="554.5" width="1.45" height="1.25" fill="#4e4e4e"/>
<rect x="447.7" y="554.5" width="1.45" height="1.25" fill="#4e4e4e"/>
<rect x="449.4" y="554.5" width="1.45" height="1.25" fill="#4e4e4e"/>
<rect x="453.6" y="554.5" width="4" height="1.2" fill="#6a6a6a"/>
<rect x="444.3" y="556.4" width="1.45" height="1.25" fill="#4e4e4e"/>
<rect x="446" y="556.4" width="1.45" height="1.25" fill="#4e4e4e"/>
<rect x="447.7" y="556.4" width="1.45" height="1.25" fill="#4e4e4e"/>
<rect x="453.6" y="556.4" width="2.5" height="1.2" fill="#6a6a6a"/>
<rect x="444.3" y="558.3" width="1.45" height="1.25" fill="#4e4e4e"/>
<rect x="446" y="558.3" width="1.45" height="1.25" fill="#4e4e4e"/>
<rect x="447.7" y="558.3" width="1.45" height="1.25" fill="#4e4e4e"/>
<rect x="449.4" y="558.3" width="1.45" height="1.25" fill="#4e4e4e"/>
<rect x="453.6" y="558.3" width="2.5" height="1.2" fill="#6a6a6a"/>
<rect x="441" y="562.5" width="3" height="2.8" fill="#208020"/>
<rect x="444.3" y="562.8" width="3.4" height="1.25" fill="#4a4a4a"/>
<rect x="448.3" y="563.1" width="0.8" height="0.9" fill="#666"/>
<rect x="444.3" y="564.7" width="1.45" height="1.25" fill="#4e4e4e"/>
<rect x="446" y="564.7" width="1.45" height="1.25" fill="#4e4e4e"/>
<rect x="447.7" y="564.7" width="1.45" height="1.25" fill="#4e4e4e"/>
<rect x="449.4" y="564.7" width="1.45" height="1.25" fill="#4e4e4e"/>
<rect x="444.3" y="566.6" width="1.45" height="1.25" fill="#4e4e4e"/>
<rect x="446" y="566.6" width="1.45" height="1.25" fill="#4e4e4e"/>
<rect x="447.7" y="566.6" width="1.45" height="1.25" fill="#4e4e4e"/>
<rect x="449.4" y="566.6" width="1.45" height="1.25" fill="#4e4e4e"/>
<rect x="453.6" y="566.6" width="2.5" height="1.2" fill="#6a6a6a"/>
<rect x="444.3" y="568.5" width="1.45" height="1.25" fill="#4e4e4e"/>
<rect x="446" y="568.5" width="1.45" height="1.25" fill="#4e4e4e"/>
<rect x="447.7" y="568.5" width="1.45" height="1.25" fill="#4e4e4e"/>
<rect x="449.4" y="568.5" width="1.45" height="1.25" fill="#4e4e4e"/>
<rect x="453.6" y="568.5" width="4" height="1.2" fill="#6a6a6a"/>
<rect x="444.3" y="570.4" width="1.45" height="1.25" fill="#4e4e4e"/>
<rect x="446" y="570.4" width="1.45" height="1.25" fill="#4e4e4e"/>
<rect x="447.7" y="570.4" width="1.45" height="1.25" fill="#4e4e4e"/>
<rect x="449.4" y="570.4" width="1.45" height="1.25" fill="#4e4e4e"/>
<rect x="453.6" y="570.4" width="2.5" height="1.2" fill="#6a6a6a"/>
<rect x="444.3" y="572.3" width="1.45" height="1.25" fill="#4e4e4e"/>
<rect x="446" y="572.3" width="1.45" height="1.25" fill="#4e4e4e"/>
<rect x="447.7" y="572.3" width="1.45" height="1.25" fill="#4e4e4e"/>
<rect x="449.4" y="572.3" width="1.45" height="1.25" fill="#4e4e4e"/>
<rect x="453.6" y="572.3" width="2.5" height="1.2" fill="#6a6a6a"/>
<rect x="444.3" y="574.2" width="1.45" height="1.25" fill="#4e4e4e"/>
<rect x="446" y="574.2" width="1.45" height="1.25" fill="#4e4e4e"/>
<rect x="447.7" y="574.2" width="1.45" height="1.25" fill="#4e4e4e"/>
<rect x="449.4" y="574.2" width="1.45" height="1.25" fill="#4e4e4e"/>
<rect x="441" y="578.7" width="3" height="2.8" fill="#e020e0"/>
<rect x="444.3" y="579" width="3.4" height="1.25" fill="#4a4a4a"/>
<rect x="448.3" y="579.3" width="0.8" height="0.9" fill="#666"/>
<rect x="444.3" y="580.9" width="1.45" height="1.25" fill="#4e4e4e"/>
<rect x="446" y="580.9" width="1.45" height="1.25" fill="#4e4e4e"/>
<rect x="447.7" y="580.9" width="1.45" height="1.25" fill="#4e4e4e"/>
<rect x="449.4" y="580.9" width="1.45" height="1.25" fill="#4e4e4e"/>
<rect x="444.3" y="582.8" width="1.45" height="1.25" fill="#4e4e4e"/>
<rect x="446" y="582.8" width="1.45" height="1.25" fill="#4e4e4e"/>
<rect x="447.7" y="582.8" width="1.45" height="1.25" fill="#4e4e4e"/>
<rect x="449.4" y="582.8" width="1.45" height="1.25" fill="#4e4e4e"/>
<rect x="453.6" y="582.8" width="4" height="1.2" fill="#6a6a6a"/>
<rect x="444.3" y="584.7" width="1.45" height="1.25" fill="#4e4e4e"/>
<rect x="446" y="584.7" width="1.45" height="1.25" fill="#4e4e4e"/>
<rect x="447.7" y="584.7" width="1.45" height="1.25" fill="#4e4e4e"/>
<rect x="449.4" y="584.7" width="1.45" height="1.25" fill="#4e4e4e"/>
<rect x="453.6" y="584.7" width="3.5" height="1.2" fill="#6a6a6a"/>
<rect x="444.3" y="586.6" width="1.45" height="1.25" fill="#4e4e4e"/>
<rect x="446" y="586.6" width="1.45" height="1.25" fill="#4e4e4e"/>
<rect x="447.7" y="586.6" width="1.45" height="1.25" fill="#4e4e4e"/>
<rect x="449.4" y="586.6" width="1.45" height="1.25" fill="#4e4e4e"/>
<rect x="453.6" y="586.6" width="2.5" height="1.2" fill="#6a6a6a"/>
<rect x="444.3" y="588.5" width="1.45" height="1.25" fill="#4e4e4e"/>
<rect x="446" y="588.5" width="1.45" height="1.25" fill="#4e4e4e"/>
<rect x="447.7" y="588.5" width="1.45" height="1.25" fill="#4e4e4e"/>
<rect x="449.4" y="588.5" width="1.45" height="1.25" fill="#4e4e4e"/>
<rect x="453.6" y="588.5" width="4" height="1.2" fill="#6a6a6a"/>
<rect x="444.3" y="590.4" width="1.45" height="1.25" fill="#4e4e4e"/>
<rect x="446" y="590.4" width="1.45" height="1.25" fill="#4e4e4e"/>
<rect x="447.7" y="590.4" width="1.45" height="1.25" fill="#4e4e4e"/>
<rect x="449.4" y="590.4" width="1.45" height="1.25" fill="#4e4e4e"/>
<rect x="715" y="508.1" width="4" height="1.2" fill="#555"/>
<rect x="715" y="509.6" width="5" height="1.2" fill="#e04040"/>
<rect x="706.5" y="509.6" width="3" height="1" fill="#909090"/>
<rect x="706.5" y="514.12" width="3" height="1" fill="#909090"/>
<rect x="706.5" y="518.65" width="3" height="1" fill="#909090"/>
<rect x="706.5" y="523.17" width="3" height="1" fill="#909090"/>
<rect x="706.5" y="527.7" width="3" height="1" fill="#909090"/>
<rect x="706.5" y="532.23" width="3" height="1" fill="#909090"/>
<rect x="706.5" y="536.75" width="3" height="1" fill="#909090"/>
<rect x="706.5" y="541.27" width="3" height="1" fill="#909090"/>
<rect x="706.5" y="545.8" width="3" height="1" fill="#909090"/>
<rect x="728.3" y="541.8" width="1.2" height="4" fill="#9a9ad0"/>
<rect x="715" y="549.3" width="4" height="1.2" fill="#555"/>
<rect x="715" y="550.8" width="5" height="1.2" fill="#e04040"/>
<rect x="706.5" y="550.8" width="3" height="1" fill="#909090"/>
<rect x="706.5" y="555.3" width="3" height="1" fill="#909090"/>
<rect x="706.5" y="559.8" width="3" height="1" fill="#909090"/>
<rect x="728.3" y="555.8" width="1.2" height="4" fill="#9a9ad0"/>
<rect x="715" y="563.3" width="4" height="1.2" fill="#555"/>
<rect x="715" y="564.8" width="5" height="1.2" fill="#e04040"/>
<rect x="706.5" y="564.8" width="3" height="1" fill="#909090"/>
<rect x="706.5" y="570.4" width="3" height="1" fill="#909090"/>
<rect x="706.5" y="576" width="3" height="1" fill="#909090"/>
<rect x="728.3" y="572" width="1.2" height="4" fill="#9a9ad0"/>
<rect x="715" y="579.5" width="4" height="1.2" fill="#555"/>
<rect x="715" y="581" width="5" height="1.2" fill="#e04040"/>
<rect x="706.5" y="581" width="3" height="1" fill="#909090"/>
<rect x="706.5" y="585.17" width="3" height="1" fill="#909090"/>
<rect x="706.5" y="589.35" width="3" height="1" fill="#909090"/>
<rect x="706.5" y="593.52" width="3" height="1" fill="#909090"/>
<rect x="706.5" y="597.7" width="3" height="1" fill="#909090"/>
<rect x="706.5" y="601.88" width="3" height="1" fill="#909090"/>
<rect x="706.5" y="606.05" width="3" height="1" fill="#909090"/>
<rect x="706.5" y="610.23" width="3" height="1" fill="#909090"/>
<rect x="706.5" y="614.4" width="3" height="1" fill="#909090"/>
<rect x="706.5" y="618.58" width="3" height="1" fill="#909090"/>
<rect x="706.5" y="622.75" width="3" height="1" fill="#909090"/>
<rect x="706.5" y="626.93" width="3" height="1" fill="#909090"/>
<rect x="706.5" y="631.1" width="3" height="1" fill="#909090"/>
<rect x="728.3" y="627.1" width="1.2" height="4" fill="#9a9ad0"/>
<rect x="461.7" y="633.1" width="243.3" height="9.8" fill="#ffffff"/>
<rect x="461.7" y="639.9" width="243.3" height="3" fill="#f2f2f2"/>
<rect x="469.7" y="635.4" width="4.5" height="1.3" fill="#9a9a9a"/>
<rect x="487.8" y="635.4" width="4.5" height="1.3" fill="#9a9a9a"/>
<rect x="505.9" y="635.4" width="4.5" height="1.3" fill="#9a9a9a"/>
<rect x="524" y="635.4" width="4.5" height="1.3" fill="#9a9a9a"/>
<rect x="542.1" y="635.4" width="4.5" height="1.3" fill="#9a9a9a"/>
<rect x="560.2" y="635.4" width="4.5" height="1.3" fill="#9a9a9a"/>
<rect x="578.3" y="635.4" width="4.5" height="1.3" fill="#9a9a9a"/>
<rect x="596.4" y="635.4" width="4.5" height="1.3" fill="#9a9a9a"/>
<rect x="614.5" y="635.4" width="4.5" height="1.3" fill="#9a9a9a"/>
<rect x="632.6" y="635.4" width="4.5" height="1.3" fill="#9a9a9a"/>
<rect x="650.7" y="635.4" width="4.5" height="1.3" fill="#9a9a9a"/>
<rect x="668.8" y="635.4" width="4.5" height="1.3" fill="#9a9a9a"/>
<rect x="686.9" y="635.4" width="4.5" height="1.3" fill="#9a9a9a"/>
<text x="611.35" y="639.5" font-size="2.2" text-anchor="middle" fill="#777" font-weight="normal" font-family="Liberation Sans">seconds</text>
<rect x="441" y="634.7" width="2.2" height="2.2" fill="#50a050"/>
<rect x="444.5" y="635.1" width="12" height="1.4" fill="#888"/>
<rect x="442" y="637.6" width="17" height="4" fill="#f4f4f4" stroke="#b0b0b0" stroke-width="0.4"/>
<rect x="444" y="638.9" width="8" height="1.4" fill="#c05080"/>
<rect x="707" y="634.1" width="10" height="8" fill="#f0f0f0"/>
<rect x="709" y="635.1" width="3" height="3" fill="#3050d0"/>
<rect x="720" y="634.6" width="9" height="7" fill="#f6f6f6" stroke="#c0c0c0" stroke-width="0.4"/>
<rect x="440" y="642.9" width="292.3" height="4.1" fill="#e6e6e6"/>
<line x1="440" y1="642.9" x2="732.3" y2="642.9" stroke="#b0b0b0" stroke-width="0.6"/>
<rect x="442" y="644.1" width="2" height="1.6" fill="#d04040"/>
<rect x="446" y="644.1" width="24" height="1.6" fill="#707070"/>
<rect x="472" y="644.1" width="30" height="1.6" fill="#8a8a8a"/>
<rect x="667.3" y="644.1" width="62" height="1.6" fill="#8a8a8a"/>
<path d="M461.7 532.8 L548.5 532.8 L549.38 529.21 L550.27 525.99 L551.15 523.14 L552.03 520.64 L552.92 518.49 L553.8 516.68 L554.68 515.2 L555.57 514.04 L556.45 513.18 L557.33 512.6 L558.22 512.29 L559.1 512.2 L593.9 512.2 L594.9 514.29 L595.9 516.1 L596.9 517.68 L597.9 519.04 L598.9 520.24 L599.9 521.29 L600.9 522.22 L601.9 523.04 L602.9 523.77 L603.9 524.42 L604.9 525.01 L605.9 525.54 L606.9 526.01 L607.9 526.45 L608.9 526.84 L609.9 527.2 L610.9 527.54 L611.9 527.84 L612.9 528.13 L613.9 528.39 L616.9 529.07 L619.9 529.63 L622.9 530.09 L625.9 530.48 L628.9 530.82 L631.9 531.1 L634.9 531.34 L637.9 531.54 L640.9 531.72 L643.9 531.87 L646.9 532 L649.9 532.11 L652.9 532.21 L655.9 532.29 L658.9 532.36 L661.9 532.42 L664.9 532.47 L667.9 532.52 L670.9 532.56 L673.9 532.59 L676.9 532.62 L679.9 532.65 L682.9 532.67 L685.9 532.69 L688.9 532.7 L691.9 532.72 L694.9 532.73 L697.9 532.74 L700.9 532.75 L703.9 532.75 L705 532.76" stroke="#e06a6a" stroke-width="0.9" fill="none"/>
<line x1="461.7" y1="556.48" x2="705" y2="556.48" stroke="#8c8cf0" stroke-width="0.9"/>
<line x1="461.7" y1="572.17" x2="705" y2="572.17" stroke="#90c890" stroke-width="0.8"/>
<rect x="461.7" y="605.8" width="87.3" height="6.6" fill="#f3c6f3"/>
<rect x="597" y="605.8" width="108" height="6.6" fill="#f3c6f3"/>
<rect x="461.7" y="612.4" width="87.3" height="3.3" fill="#f6d2f6"/>
<rect x="597" y="612.4" width="108" height="3.3" fill="#f6d2f6"/>
<path d="M462.2 606.35L462.2 616.06M464.9 606.08L464.9 616.28M467.6 606L467.6 616.12M470.3 605.62L470.3 615.12M473 605.62L473 615.28M475.7 606.34L475.7 616.36M478.4 606.08L478.4 615.01M481.1 606.68L481.1 615.66M483.8 606.43L483.8 615.44M486.5 605.85L486.5 615.68M489.2 606.22L489.2 615.91M491.9 606.48L491.9 615.83M494.6 606.4L494.6 616.4M497.3 606.03L497.3 616.43M500 606.28L500 615.19M502.7 606.15L502.7 615.65M505.4 606.25L505.4 616.16M508.1 605.96L508.1 615.63M510.8 606.28L510.8 615.93M513.5 606.07L513.5 616M516.2 606.17L516.2 615.49M518.9 605.89L518.9 615.47M521.6 606.52L521.6 615.7M524.3 606.68L524.3 616.04M527 606.6L527 616.23M529.7 605.94L529.7 615.27M532.4 605.54L532.4 615.58M535.1 606.55L535.1 615.08M537.8 606.32L537.8 615.98M540.5 605.9L540.5 615.55M543.2 605.58L543.2 616.46M545.9 606.56L545.9 615.56M548.6 605.7L548.6 615.86M597.2 605.85L597.2 615.2M599.9 603.6L599.9 618.34M602.6 603.32L602.6 618.12M605.3 603.34L605.3 618.49M608 603.54L608 618.16M610.7 603.01L610.7 618.21M613.4 603.19L613.4 618.23M616.1 603.21L616.1 618.59M618.8 603.44L618.8 618.51M621.5 603.42L621.5 617.91M624.2 606.44L624.2 615.37M626.9 606.47L626.9 616.12M629.6 605.8L629.6 615.85M632.3 606.42L632.3 615.31M635 606.41L635 615.63M637.7 606.07L637.7 616.21M640.4 606.3L640.4 615.52M643.1 606.12L643.1 615.41M645.8 606.68L645.8 615.08M648.5 605.63L648.5 616.07M651.2 606.24L651.2 615.47M653.9 605.84L653.9 615.1M656.6 606.05L656.6 615.35M659.3 605.56L659.3 616.08M662 605.53L662 615.31M664.7 606.13L664.7 615.07M667.4 606.23L667.4 616.01M670.1 605.93L670.1 615.94M672.8 605.74L672.8 616.34M675.5 606.28L675.5 616.03M678.2 606.04L678.2 615.44M680.9 605.83L680.9 615.84M683.6 605.89L683.6 616.01M686.3 606.3L686.3 616.35M689 605.98L689 616.34M691.7 606.3L691.7 616.05M694.4 606.66L694.4 615.78M697.1 606.29L697.1 615.71M699.8 606.48L699.8 615.45M702.5 606.27L702.5 616.45" stroke="#d266d6" stroke-width="1" fill="none"/>
<path d="M548 611 L552 613.5 L596 613.5 L599 611" stroke="#d466d8" stroke-width="0.9" fill="none"/>
<path d="M549.4 613.5 L550.2 602.7 L551.2 613.5" stroke="#d266d6" stroke-width="0.9" fill="none"/>
<rect x="593.6" y="640.7" width="5.2" height="1.8" fill="#000"/>
<rect x="440" y="647" width="292.3" height="1.7" fill="#5a78c8"/>
<rect x="42" y="715.21" width="9.2" height="123.79" fill="#000"/>
<line x1="46.6" y1="715.21" x2="46.6" y2="708.47" stroke="#000" stroke-width="0.9"/>
<line x1="44.4" y1="708.87" x2="48.8" y2="708.87" stroke="#000" stroke-width="0.9"/>
<path d="M52.7 715.08L55 712.78M52.7 717.38L57.3 712.78M52.7 719.68L59.6 712.78M52.7 721.98L61.9 712.78M52.7 724.28L61.9 715.08M52.7 726.58L61.9 717.38M52.7 728.88L61.9 719.68M52.7 731.18L61.9 721.98M52.7 733.48L61.9 724.28M52.7 735.78L61.9 726.58M52.7 738.08L61.9 728.88M52.7 740.38L61.9 731.18M52.7 742.68L61.9 733.48M52.7 744.98L61.9 735.78M52.7 747.28L61.9 738.08M52.7 749.58L61.9 740.38M52.7 751.88L61.9 742.68M52.7 754.18L61.9 744.98M52.7 756.48L61.9 747.28M52.7 758.78L61.9 749.58M52.7 761.08L61.9 751.88M52.7 763.38L61.9 754.18M52.7 765.68L61.9 756.48M52.7 767.98L61.9 758.78M52.7 770.28L61.9 761.08M52.7 772.58L61.9 763.38M52.7 774.88L61.9 765.68M52.7 777.18L61.9 767.98M52.7 779.48L61.9 770.28M52.7 781.78L61.9 772.58M52.7 784.08L61.9 774.88M52.7 786.38L61.9 777.18M52.7 788.68L61.9 779.48M52.7 790.98L61.9 781.78M52.7 793.28L61.9 784.08M52.7 795.58L61.9 786.38M52.7 797.88L61.9 788.68M52.7 800.18L61.9 790.98M52.7 802.48L61.9 793.28M52.7 804.78L61.9 795.58M52.7 807.08L61.9 797.88M52.7 809.38L61.9 800.18M52.7 811.68L61.9 802.48M52.7 813.98L61.9 804.78M52.7 816.28L61.9 807.08M52.7 818.58L61.9 809.38M52.7 820.88L61.9 811.68M52.7 823.18L61.9 813.98M52.7 825.48L61.9 816.28M52.7 827.78L61.9 818.58M52.7 830.08L61.9 820.88M52.7 832.38L61.9 823.18M52.7 834.68L61.9 825.48M52.7 836.98L61.9 827.78M52.98 839L61.9 830.08M55.28 839L61.9 832.38M57.58 839L61.9 834.68M59.88 839L61.9 836.98" stroke="#2a2a2a" stroke-width="0.75" fill="none"/>
<line x1="57.3" y1="712.78" x2="57.3" y2="706.26" stroke="#000" stroke-width="0.9"/>
<line x1="55.1" y1="706.66" x2="59.5" y2="706.66" stroke="#000" stroke-width="0.9"/>
<path d="M71.7 715.43L72.7 716.43M65.8 715.43L72.7 722.33M64.5 720.03L72.7 728.23M64.5 725.93L72.7 734.13M64.5 731.83L72.7 740.03M64.5 737.73L72.7 745.93M64.5 743.63L72.7 751.83M64.5 749.53L72.7 757.73M64.5 755.43L72.7 763.63M64.5 761.33L72.7 769.53M64.5 767.23L72.7 775.43M64.5 773.13L72.7 781.33M64.5 779.03L72.7 787.23M64.5 784.93L72.7 793.13M64.5 790.83L72.7 799.03M64.5 796.73L72.7 804.93M64.5 802.63L72.7 810.83M64.5 808.53L72.7 816.73M64.5 814.43L72.7 822.63M64.5 820.33L72.7 828.53M64.5 826.23L72.7 834.43M64.5 832.13L71.37 839M64.5 838.03L65.47 839" stroke="#000" stroke-width="1.5" fill="none" stroke-linecap="round"/>
<line x1="68.5" y1="715.43" x2="68.5" y2="708.69" stroke="#000" stroke-width="0.9"/>
<line x1="66.3" y1="709.09" x2="70.7" y2="709.09" stroke="#000" stroke-width="0.9"/>
<rect x="75.5" y="716.5" width="8" height="122.5" fill="url(#dots)"/>
<rect x="75.5" y="716.5" width="8" height="122.5" fill="none" stroke="#000" stroke-width="1"/>
<line x1="79.8" y1="716.53" x2="79.8" y2="711.34" stroke="#000" stroke-width="0.9"/>
<line x1="77.6" y1="711.74" x2="82" y2="711.74" stroke="#000" stroke-width="0.9"/>
<rect x="103.9" y="822.88" width="9.2" height="16.12" fill="#000"/>
<line x1="108.5" y1="822.88" x2="108.5" y2="817.02" stroke="#000" stroke-width="0.9"/>
<line x1="106.3" y1="817.42" x2="110.7" y2="817.42" stroke="#000" stroke-width="0.9"/>
<path d="M115 824.4L117.3 822.1M115 826.7L119.6 822.1M115 829L121.9 822.1M115 831.3L124.2 822.1M115 833.6L124.2 824.4M115 835.9L124.2 826.7M115 838.2L124.2 829M116.5 839L124.2 831.3M118.8 839L124.2 833.6M121.1 839L124.2 835.9M123.4 839L124.2 838.2" stroke="#2a2a2a" stroke-width="0.75" fill="none"/>
<line x1="119.6" y1="822.1" x2="119.6" y2="817.13" stroke="#000" stroke-width="0.9"/>
<line x1="117.4" y1="817.53" x2="121.8" y2="817.53" stroke="#000" stroke-width="0.9"/>
<path d="M134 823.1L135 824.1M128.1 823.1L135 830M126.8 827.7L135 835.9M126.8 833.6L132.2 839" stroke="#000" stroke-width="1.5" fill="none" stroke-linecap="round"/>
<line x1="130.8" y1="823.1" x2="130.8" y2="815.04" stroke="#000" stroke-width="0.9"/>
<line x1="128.6" y1="815.44" x2="133" y2="815.44" stroke="#000" stroke-width="0.9"/>
<rect x="137.5" y="823.5" width="8" height="15.5" fill="url(#dots)"/>
<rect x="137.5" y="823.5" width="8" height="15.5" fill="none" stroke="#000" stroke-width="1"/>
<line x1="141.6" y1="823.1" x2="141.6" y2="817.13" stroke="#000" stroke-width="0.9"/>
<line x1="139.4" y1="817.53" x2="143.8" y2="817.53" stroke="#000" stroke-width="0.9"/>
<rect x="165" y="751.21" width="9.2" height="87.79" fill="#000"/>
<line x1="169.6" y1="751.21" x2="169.6" y2="748.67" stroke="#000" stroke-width="0.9"/>
<line x1="167.4" y1="749.07" x2="171.8" y2="749.07" stroke="#000" stroke-width="0.9"/>
<path d="M175.9 765.99L178.2 763.69M175.9 768.29L180.5 763.69M175.9 770.59L182.8 763.69M175.9 772.89L185.1 763.69M175.9 775.19L185.1 765.99M175.9 777.49L185.1 768.29M175.9 779.79L185.1 770.59M175.9 782.09L185.1 772.89M175.9 784.39L185.1 775.19M175.9 786.69L185.1 777.49M175.9 788.99L185.1 779.79M175.9 791.29L185.1 782.09M175.9 793.59L185.1 784.39M175.9 795.89L185.1 786.69M175.9 798.19L185.1 788.99M175.9 800.49L185.1 791.29M175.9 802.79L185.1 793.59M175.9 805.09L185.1 795.89M175.9 807.39L185.1 798.19M175.9 809.69L185.1 800.49M175.9 811.99L185.1 802.79M175.9 814.29L185.1 805.09M175.9 816.59L185.1 807.39M175.9 818.89L185.1 809.69M175.9 821.19L185.1 811.99M175.9 823.49L185.1 814.29M175.9 825.79L185.1 816.59M175.9 828.09L185.1 818.89M175.9 830.39L185.1 821.19M175.9 832.69L185.1 823.49M175.9 834.99L185.1 825.79M175.9 837.29L185.1 828.09M176.49 839L185.1 830.39M178.79 839L185.1 832.69M181.09 839L185.1 834.99M183.39 839L185.1 837.29" stroke="#2a2a2a" stroke-width="0.75" fill="none"/>
<line x1="180.5" y1="763.69" x2="180.5" y2="762.36" stroke="#000" stroke-width="0.9"/>
<line x1="178.3" y1="762.76" x2="182.7" y2="762.76" stroke="#000" stroke-width="0.9"/>
<path d="M195.3 794.72L196.3 795.72M189.4 794.72L196.3 801.62M188.1 799.32L196.3 807.52M188.1 805.22L196.3 813.42M188.1 811.12L196.3 819.32M188.1 817.02L196.3 825.22M188.1 822.92L196.3 831.12M188.1 828.82L196.3 837.02M188.1 834.72L192.38 839" stroke="#000" stroke-width="1.5" fill="none" stroke-linecap="round"/>
<line x1="192.1" y1="794.72" x2="192.1" y2="792.07" stroke="#000" stroke-width="0.9"/>
<line x1="189.9" y1="792.47" x2="194.3" y2="792.47" stroke="#000" stroke-width="0.9"/>
<rect x="198.5" y="797.5" width="9" height="41.5" fill="url(#dots)"/>
<rect x="198.5" y="797.5" width="9" height="41.5" fill="none" stroke="#000" stroke-width="1"/>
<line x1="203.2" y1="797.26" x2="203.2" y2="795.27" stroke="#000" stroke-width="0.9"/>
<line x1="201" y1="795.67" x2="205.4" y2="795.67" stroke="#000" stroke-width="0.9"/>
<rect x="226.8" y="761.04" width="9.2" height="77.96" fill="#000"/>
<line x1="231.4" y1="761.04" x2="231.4" y2="751.76" stroke="#000" stroke-width="0.9"/>
<line x1="229.2" y1="752.16" x2="233.6" y2="752.16" stroke="#000" stroke-width="0.9"/>
<path d="M237.9 776.81L240.2 774.51M237.9 779.11L242.5 774.51M237.9 781.41L244.8 774.51M237.9 783.71L247.1 774.51M237.9 786.01L247.1 776.81M237.9 788.31L247.1 779.11M237.9 790.61L247.1 781.41M237.9 792.91L247.1 783.71M237.9 795.21L247.1 786.01M237.9 797.51L247.1 788.31M237.9 799.81L247.1 790.61M237.9 802.11L247.1 792.91M237.9 804.41L247.1 795.21M237.9 806.71L247.1 797.51M237.9 809.01L247.1 799.81M237.9 811.31L247.1 802.11M237.9 813.61L247.1 804.41M237.9 815.91L247.1 806.71M237.9 818.21L247.1 809.01M237.9 820.51L247.1 811.31M237.9 822.81L247.1 813.61M237.9 825.11L247.1 815.91M237.9 827.41L247.1 818.21M237.9 829.71L247.1 820.51M237.9 832.01L247.1 822.81M237.9 834.31L247.1 825.11M237.9 836.61L247.1 827.41M237.9 838.91L247.1 829.71M240.11 839L247.1 832.01M242.41 839L247.1 834.31M244.71 839L247.1 836.61M247.01 839L247.1 838.91" stroke="#2a2a2a" stroke-width="0.75" fill="none"/>
<line x1="242.5" y1="774.51" x2="242.5" y2="765.45" stroke="#000" stroke-width="0.9"/>
<line x1="240.3" y1="765.85" x2="244.7" y2="765.85" stroke="#000" stroke-width="0.9"/>
<path d="M256.8 799.02L257.8 800.02M250.9 799.02L257.8 805.92M249.6 803.62L257.8 811.82M249.6 809.52L257.8 817.72M249.6 815.42L257.8 823.62M249.6 821.32L257.8 829.52M249.6 827.22L257.8 835.42M249.6 833.12L255.48 839" stroke="#000" stroke-width="1.5" fill="none" stroke-linecap="round"/>
<line x1="253.6" y1="799.02" x2="253.6" y2="791.52" stroke="#000" stroke-width="0.9"/>
<line x1="251.4" y1="791.92" x2="255.8" y2="791.92" stroke="#000" stroke-width="0.9"/>
<rect x="261.5" y="801.5" width="8" height="37.5" fill="url(#dots)"/>
<rect x="261.5" y="801.5" width="8" height="37.5" fill="none" stroke="#000" stroke-width="1"/>
<line x1="265.3" y1="800.9" x2="265.3" y2="793.39" stroke="#000" stroke-width="0.9"/>
<line x1="263.1" y1="793.79" x2="267.5" y2="793.79" stroke="#000" stroke-width="0.9"/>
<rect x="288.3" y="801.12" width="9.2" height="37.88" fill="#000"/>
<line x1="292.9" y1="801.12" x2="292.9" y2="790.85" stroke="#000" stroke-width="0.9"/>
<line x1="290.7" y1="791.25" x2="295.1" y2="791.25" stroke="#000" stroke-width="0.9"/>
<path d="M299.2 816.34L301.5 814.04M299.2 818.64L303.8 814.04M299.2 820.94L306.1 814.04M299.2 823.24L308.4 814.04M299.2 825.54L308.4 816.34M299.2 827.84L308.4 818.64M299.2 830.14L308.4 820.94M299.2 832.44L308.4 823.24M299.2 834.74L308.4 825.54M299.2 837.04L308.4 827.84M299.54 839L308.4 830.14M301.84 839L308.4 832.44M304.14 839L308.4 834.74M306.44 839L308.4 837.04" stroke="#2a2a2a" stroke-width="0.75" fill="none"/>
<line x1="303.8" y1="814.04" x2="303.8" y2="806.42" stroke="#000" stroke-width="0.9"/>
<line x1="301.6" y1="806.82" x2="306" y2="806.82" stroke="#000" stroke-width="0.9"/>
<path d="M318.1 828.84L319.1 829.84M312.2 828.84L319.1 835.74M310.9 833.44L316.46 839" stroke="#000" stroke-width="1.5" fill="none" stroke-linecap="round"/>
<line x1="314.9" y1="828.84" x2="314.9" y2="819.23" stroke="#000" stroke-width="0.9"/>
<line x1="312.7" y1="819.63" x2="317.1" y2="819.63" stroke="#000" stroke-width="0.9"/>
<rect x="321.5" y="831.5" width="8" height="7.5" fill="url(#dots)"/>
<rect x="321.5" y="831.5" width="8" height="7.5" fill="none" stroke="#000" stroke-width="1"/>
<line x1="326" y1="830.94" x2="326" y2="824.98" stroke="#000" stroke-width="0.9"/>
<line x1="323.8" y1="825.38" x2="328.2" y2="825.38" stroke="#000" stroke-width="0.9"/>
<polygon points="166.32,739.7 167.43,741.93 169.89,742.29 168.11,744.03 168.53,746.48 166.32,745.32 164.12,746.48 164.54,744.03 162.76,742.29 165.22,741.93" fill="#000"/>
<polygon points="173.18,739.7 174.28,741.93 176.74,742.29 174.96,744.03 175.38,746.48 173.18,745.32 170.97,746.48 171.39,744.03 169.61,742.29 172.07,741.93" fill="#000"/>
<polygon points="175.4,759.2 180.9,759.2 178.15,754" fill="#000"/>
<polygon points="181.1,759.2 186.6,759.2 183.85,754" fill="#000"/>
<polygon points="227.85,743.6 228.95,745.83 231.42,746.19 229.63,747.93 230.05,750.38 227.85,749.23 225.65,750.38 226.07,747.93 224.28,746.19 226.75,745.83" fill="#000"/>
<polygon points="234.55,743.6 235.65,745.83 238.12,746.19 236.33,747.93 236.75,750.38 234.55,749.23 232.35,750.38 232.77,747.93 230.98,746.19 233.45,745.83" fill="#000"/>
<polygon points="237.1,761.8 242.4,761.8 239.75,756.6" fill="#000"/>
<polygon points="242.6,761.8 247.9,761.8 245.25,756.6" fill="#000"/>
<polygon points="289.43,781.1 290.53,783.33 292.99,783.69 291.21,785.43 291.63,787.88 289.43,786.73 287.22,787.88 287.64,785.43 285.86,783.69 288.32,783.33" fill="#000"/>
<polygon points="296.27,781.1 297.38,783.33 299.84,783.69 298.06,785.43 298.48,787.88 296.27,786.73 294.07,787.88 294.49,785.43 292.71,783.69 295.17,783.33" fill="#000"/>
<polygon points="298.7,802.9 304.2,802.9 301.45,797.7" fill="#000"/>
<polygon points="304.4,802.9 309.9,802.9 307.15,797.7" fill="#000"/>
<line x1="32.4" y1="684.4" x2="32.4" y2="839" stroke="#000" stroke-width="1"/>
<line x1="32.4" y1="839" x2="340.15" y2="839" stroke="#000" stroke-width="1"/>
<line x1="32.4" y1="839" x2="35.2" y2="839" stroke="#000" stroke-width="1"/>
<text x="22.3" y="842.3" font-size="10.3" text-anchor="end" fill="#000" font-weight="bold" font-family="Liberation Serif" stroke="#000" stroke-width="0.22">0</text>
<line x1="32.4" y1="816.91" x2="35.2" y2="816.91" stroke="#000" stroke-width="1"/>
<text x="22.3" y="820.21" font-size="10.3" text-anchor="end" fill="#000" font-weight="bold" font-family="Liberation Serif" stroke="#000" stroke-width="0.22">20</text>
<line x1="32.4" y1="794.83" x2="35.2" y2="794.83" stroke="#000" stroke-width="1"/>
<text x="22.3" y="798.13" font-size="10.3" text-anchor="end" fill="#000" font-weight="bold" font-family="Liberation Serif" stroke="#000" stroke-width="0.22">40</text>
<line x1="32.4" y1="772.74" x2="35.2" y2="772.74" stroke="#000" stroke-width="1"/>
<text x="22.3" y="776.04" font-size="10.3" text-anchor="end" fill="#000" font-weight="bold" font-family="Liberation Serif" stroke="#000" stroke-width="0.22">60</text>
<line x1="32.4" y1="750.66" x2="35.2" y2="750.66" stroke="#000" stroke-width="1"/>
<text x="22.3" y="753.96" font-size="10.3" text-anchor="end" fill="#000" font-weight="bold" font-family="Liberation Serif" stroke="#000" stroke-width="0.22">80</text>
<line x1="32.4" y1="728.57" x2="35.2" y2="728.57" stroke="#000" stroke-width="1"/>
<text x="22.3" y="731.87" font-size="10.3" text-anchor="end" fill="#000" font-weight="bold" font-family="Liberation Serif" stroke="#000" stroke-width="0.22">100</text>
<line x1="32.4" y1="706.48" x2="35.2" y2="706.48" stroke="#000" stroke-width="1"/>
<text x="22.3" y="709.78" font-size="10.3" text-anchor="end" fill="#000" font-weight="bold" font-family="Liberation Serif" stroke="#000" stroke-width="0.22">120</text>
<line x1="32.4" y1="684.4" x2="35.2" y2="684.4" stroke="#000" stroke-width="1"/>
<text x="22.3" y="687.7" font-size="10.3" text-anchor="end" fill="#000" font-weight="bold" font-family="Liberation Serif" stroke="#000" stroke-width="0.22">140</text>
<line x1="93.85" y1="839" x2="93.85" y2="836.7" stroke="#000" stroke-width="1"/>
<line x1="155.3" y1="839" x2="155.3" y2="836.7" stroke="#000" stroke-width="1"/>
<line x1="216.75" y1="839" x2="216.75" y2="836.7" stroke="#000" stroke-width="1"/>
<line x1="278.2" y1="839" x2="278.2" y2="836.7" stroke="#000" stroke-width="1"/>
<line x1="339.65" y1="839" x2="339.65" y2="836.7" stroke="#000" stroke-width="1"/>
<text x="63.12" y="855.1" font-size="10.4" text-anchor="middle" fill="#000" font-weight="bold" font-family="Liberation Serif" stroke="#000" stroke-width="0.22">MAP</text>
<text x="63.12" y="866.3" font-size="10.4" text-anchor="middle" fill="#000" font-weight="bold" font-family="Liberation Serif" stroke="#000" stroke-width="0.22">(mmHg)</text>
<text x="124.58" y="855.1" font-size="10.4" text-anchor="middle" fill="#000" font-weight="bold" font-family="Liberation Serif" stroke="#000" stroke-width="0.22">baseline ICP</text>
<text x="124.58" y="866.3" font-size="10.4" text-anchor="middle" fill="#000" font-weight="bold" font-family="Liberation Serif" stroke="#000" stroke-width="0.22">(mmHg)</text>
<text x="186.03" y="855.1" font-size="10.4" text-anchor="middle" fill="#000" font-weight="bold" font-family="Liberation Serif" stroke="#000" stroke-width="0.22">max ICP</text>
<text x="186.03" y="866.3" font-size="10.4" text-anchor="middle" fill="#000" font-weight="bold" font-family="Liberation Serif" stroke="#000" stroke-width="0.22">(mmHg)</text>
<text x="247.48" y="855.1" font-size="10.4" text-anchor="middle" fill="#000" font-weight="bold" font-family="Liberation Serif" stroke="#000" stroke-width="0.22">max</text>
<text x="247.48" y="866.3" font-size="10.4" text-anchor="middle" fill="#000" font-weight="bold" font-family="Liberation Serif" stroke="#000" stroke-width="0.22">ICP/MAP</text>
<text x="247.48" y="877.5" font-size="10.4" text-anchor="middle" fill="#000" font-weight="bold" font-family="Liberation Serif" stroke="#000" stroke-width="0.22">(/100)</text>
<text x="308.93" y="855.1" font-size="10.4" text-anchor="middle" fill="#000" font-weight="bold" font-family="Liberation Serif" stroke="#000" stroke-width="0.22">AUC</text>
<text x="308.93" y="866.3" font-size="10.4" text-anchor="middle" fill="#000" font-weight="bold" font-family="Liberation Serif" stroke="#000" stroke-width="0.22">(*100)</text>
<text x="308.93" y="877.5" font-size="10.4" text-anchor="middle" fill="#000" font-weight="bold" font-family="Liberation Serif" stroke="#000" stroke-width="0.22">(mmHg*s)</text>
<rect x="277.5" y="685.5" width="5.3" height="4.8" fill="#000"/>
<text x="285.6" y="690.6" font-size="10.5" text-anchor="start" fill="#000" font-weight="bold" font-family="Liberation Serif" stroke="#000" stroke-width="0.22">Control</text>
<path d="M277.5 705.5L279.8 703.2M277.5 707.8L282.1 703.2M279.6 708L282.8 704.8M281.9 708L282.8 707.1" stroke="#2a2a2a" stroke-width="0.75" fill="none"/>
<text x="285.6" y="708.3" font-size="10.5" text-anchor="start" fill="#000" font-weight="bold" font-family="Liberation Serif" stroke="#000" stroke-width="0.22">ICAII+MET</text>
<path d="M280.8 719.9L282.3 721.4M278 723L279.7 724.7" stroke="#000" stroke-width="1.5" fill="none" stroke-linecap="round"/>
<text x="285.6" y="725" font-size="10.5" text-anchor="start" fill="#000" font-weight="bold" font-family="Liberation Serif" stroke="#000" stroke-width="0.22">MET</text>
<rect x="277.95" y="737.35" width="4.5" height="4.2" fill="url(#dots)" stroke="#000" stroke-width="0.9"/>
<text x="285.6" y="742" font-size="10.5" text-anchor="start" fill="#000" font-weight="bold" font-family="Liberation Serif" stroke="#000" stroke-width="0.22">T2DMED</text>
<rect x="455.5" y="717.5" width="23" height="144.9" fill="url(#squig)"/>
<rect x="455.5" y="717.5" width="23" height="144.9" fill="none" stroke="#000" stroke-width="1"/>
<line x1="466.6" y1="717.03" x2="466.6" y2="710.03" stroke="#000" stroke-width="0.9"/>
<line x1="464" y1="710.43" x2="469.2" y2="710.43" stroke="#000" stroke-width="0.9"/>
<rect x="527.5" y="718.5" width="23" height="143.9" fill="url(#squig)"/>
<rect x="527.5" y="718.5" width="23" height="143.9" fill="none" stroke="#000" stroke-width="1"/>
<line x1="539.2" y1="718.1" x2="539.2" y2="710.74" stroke="#000" stroke-width="0.9"/>
<line x1="536.6" y1="711.14" x2="541.8" y2="711.14" stroke="#000" stroke-width="0.9"/>
<rect x="600.5" y="718.5" width="23" height="143.9" fill="url(#squig)"/>
<rect x="600.5" y="718.5" width="23" height="143.9" fill="none" stroke="#000" stroke-width="1"/>
<line x1="611.8" y1="718.69" x2="611.8" y2="712.16" stroke="#000" stroke-width="0.9"/>
<line x1="609.2" y1="712.56" x2="614.4" y2="712.56" stroke="#000" stroke-width="0.9"/>
<rect x="672.5" y="719.5" width="24" height="142.9" fill="url(#squig)"/>
<rect x="672.5" y="719.5" width="24" height="142.9" fill="none" stroke="#000" stroke-width="1"/>
<line x1="684.4" y1="719.76" x2="684.4" y2="712.16" stroke="#000" stroke-width="0.9"/>
<line x1="681.8" y1="712.56" x2="687" y2="712.56" stroke="#000" stroke-width="0.9"/>
<line x1="430.7" y1="684.4" x2="430.7" y2="862.4" stroke="#000" stroke-width="1"/>
<line x1="430.7" y1="862.4" x2="721.6" y2="862.4" stroke="#000" stroke-width="1"/>
<line x1="430.7" y1="862.4" x2="433.3" y2="862.4" stroke="#000" stroke-width="1"/>
<text x="420" y="865.8" font-size="10.3" text-anchor="end" fill="#000" font-weight="bold" font-family="Liberation Serif" stroke="#000" stroke-width="0.22">0</text>
<line x1="430.7" y1="803.06" x2="433.3" y2="803.06" stroke="#000" stroke-width="1"/>
<text x="420" y="806.46" font-size="10.3" text-anchor="end" fill="#000" font-weight="bold" font-family="Liberation Serif" stroke="#000" stroke-width="0.22">50</text>
<line x1="430.7" y1="743.73" x2="433.3" y2="743.73" stroke="#000" stroke-width="1"/>
<text x="420" y="747.13" font-size="10.3" text-anchor="end" fill="#000" font-weight="bold" font-family="Liberation Serif" stroke="#000" stroke-width="0.22">100</text>
<line x1="430.7" y1="684.39" x2="433.3" y2="684.39" stroke="#000" stroke-width="1"/>
<text x="420" y="687.79" font-size="10.3" text-anchor="end" fill="#000" font-weight="bold" font-family="Liberation Serif" stroke="#000" stroke-width="0.22">150</text>
<line x1="503.3" y1="862.4" x2="503.3" y2="859.8" stroke="#000" stroke-width="1"/>
<line x1="575.9" y1="862.4" x2="575.9" y2="859.8" stroke="#000" stroke-width="1"/>
<line x1="648.5" y1="862.4" x2="648.5" y2="859.8" stroke="#000" stroke-width="1"/>
<line x1="721.1" y1="862.4" x2="721.1" y2="859.8" stroke="#000" stroke-width="1"/>
<text x="467" y="878.1" font-size="10.5" text-anchor="middle" fill="#000" font-weight="bold" font-family="Liberation Serif" stroke="#000" stroke-width="0.22">Control</text>
<text x="539.6" y="878.1" font-size="10.5" text-anchor="middle" fill="#000" font-weight="bold" font-family="Liberation Serif" stroke="#000" stroke-width="0.22">ICAII+MET</text>
<text x="612.2" y="878.1" font-size="10.5" text-anchor="middle" fill="#000" font-weight="bold" font-family="Liberation Serif" stroke="#000" stroke-width="0.22">MET</text>
<text x="684.8" y="878.1" font-size="10.5" text-anchor="middle" fill="#000" font-weight="bold" font-family="Liberation Serif" stroke="#000" stroke-width="0.22">T2DMED</text>
<text x="555" y="690.7" font-size="10" text-anchor="middle" fill="#000" font-weight="bold" font-family="Liberation Serif" stroke="#000" stroke-width="0.22">TAP</text>
<text x="397.9" y="773.5" font-size="10" text-anchor="middle" fill="#000" font-weight="bold" font-family="Liberation Serif" transform="rotate(-90 397.9 773.5)" stroke="#000" stroke-width="0.22">mmHg</text>
<line x1="732.6" y1="673" x2="732.6" y2="885" stroke="#eeeeee" stroke-width="0.8"/>
<rect x="40.3" y="953.88" width="11.6" height="126.32" fill="#000"/>
<path d="M54.4 987.76L56.7 985.46M54.4 990.06L59 985.46M54.4 992.36L61.3 985.46M54.4 994.66L63.6 985.46M54.4 996.96L65.9 985.46M54.4 999.26L66 987.66M54.4 1001.56L66 989.96M54.4 1003.86L66 992.26M54.4 1006.16L66 994.56M54.4 1008.46L66 996.86M54.4 1010.76L66 999.16M54.4 1013.06L66 1001.46M54.4 1015.36L66 1003.76M54.4 1017.66L66 1006.06M54.4 1019.96L66 1008.36M54.4 1022.26L66 1010.66M54.4 1024.56L66 1012.96M54.4 1026.86L66 1015.26M54.4 1029.16L66 1017.56M54.4 1031.46L66 1019.86M54.4 1033.76L66 1022.16M54.4 1036.06L66 1024.46M54.4 1038.36L66 1026.76M54.4 1040.66L66 1029.06M54.4 1042.96L66 1031.36M54.4 1045.26L66 1033.66M54.4 1047.56L66 1035.96M54.4 1049.86L66 1038.26M54.4 1052.16L66 1040.56M54.4 1054.46L66 1042.86M54.4 1056.76L66 1045.16M54.4 1059.06L66 1047.46M54.4 1061.36L66 1049.76M54.4 1063.66L66 1052.06M54.4 1065.96L66 1054.36M54.4 1068.26L66 1056.66M54.4 1070.56L66 1058.96M54.4 1072.86L66 1061.26M54.4 1075.16L66 1063.56M54.4 1077.46L66 1065.86M54.4 1079.76L66 1068.16M56.26 1080.2L66 1070.46M58.56 1080.2L66 1072.76M60.86 1080.2L66 1075.06M63.16 1080.2L66 1077.36M65.46 1080.2L66 1079.66" stroke="#2a2a2a" stroke-width="0.75" fill="none"/>
<path d="M79.1 1064.41L80.1 1065.41M73.2 1064.41L80.1 1071.31M69.5 1066.61L80.1 1077.21M69.5 1072.51L77.19 1080.2M69.5 1078.41L71.29 1080.2" stroke="#000" stroke-width="1.5" fill="none" stroke-linecap="round"/>
<rect x="83.5" y="1072.5" width="10" height="7.7" fill="url(#dots)"/>
<rect x="83.5" y="1072.5" width="10" height="7.7" fill="none" stroke="#000" stroke-width="1"/>
<rect x="119.6" y="953.88" width="11.6" height="126.32" fill="#000"/>
<path d="M133.7 995.65L136 993.36M133.7 997.95L138.3 993.36M133.7 1000.25L140.6 993.36M133.7 1002.55L142.9 993.36M133.7 1004.85L145.2 993.36M133.7 1007.15L145.3 995.55M133.7 1009.45L145.3 997.85M133.7 1011.75L145.3 1000.15M133.7 1014.05L145.3 1002.45M133.7 1016.35L145.3 1004.75M133.7 1018.65L145.3 1007.05M133.7 1020.95L145.3 1009.35M133.7 1023.25L145.3 1011.65M133.7 1025.55L145.3 1013.95M133.7 1027.85L145.3 1016.25M133.7 1030.15L145.3 1018.55M133.7 1032.45L145.3 1020.85M133.7 1034.75L145.3 1023.15M133.7 1037.05L145.3 1025.45M133.7 1039.35L145.3 1027.75M133.7 1041.65L145.3 1030.05M133.7 1043.95L145.3 1032.35M133.7 1046.25L145.3 1034.65M133.7 1048.55L145.3 1036.95M133.7 1050.85L145.3 1039.25M133.7 1053.15L145.3 1041.55M133.7 1055.45L145.3 1043.85M133.7 1057.75L145.3 1046.15M133.7 1060.05L145.3 1048.45M133.7 1062.35L145.3 1050.75M133.7 1064.65L145.3 1053.05M133.7 1066.95L145.3 1055.35M133.7 1069.25L145.3 1057.65M133.7 1071.55L145.3 1059.95M133.7 1073.85L145.3 1062.25M133.7 1076.15L145.3 1064.55M133.7 1078.45L145.3 1066.85M134.25 1080.2L145.3 1069.15M136.55 1080.2L145.3 1071.45M138.85 1080.2L145.3 1073.75M141.15 1080.2L145.3 1076.05M143.45 1080.2L145.3 1078.35" stroke="#2a2a2a" stroke-width="0.75" fill="none"/>
<path d="M158.4 1064.41L159.4 1065.41M152.5 1064.41L159.4 1071.31M148.8 1066.61L159.4 1077.21M148.8 1072.51L156.49 1080.2M148.8 1078.41L150.59 1080.2" stroke="#000" stroke-width="1.5" fill="none" stroke-linecap="round"/>
<rect x="162.5" y="1072.5" width="11" height="7.7" fill="url(#dots)"/>
<rect x="162.5" y="1072.5" width="11" height="7.7" fill="none" stroke="#000" stroke-width="1"/>
<rect x="198.9" y="930.98" width="11.6" height="149.22" fill="#000"/>
<path d="M213 968.02L215.3 965.72M213 970.32L217.6 965.72M213 972.62L219.9 965.72M213 974.92L222.2 965.72M213 977.22L224.5 965.72M213 979.52L224.6 967.92M213 981.82L224.6 970.22M213 984.12L224.6 972.52M213 986.42L224.6 974.82M213 988.72L224.6 977.12M213 991.02L224.6 979.42M213 993.32L224.6 981.72M213 995.62L224.6 984.02M213 997.92L224.6 986.32M213 1000.22L224.6 988.62M213 1002.52L224.6 990.92M213 1004.82L224.6 993.22M213 1007.12L224.6 995.52M213 1009.42L224.6 997.82M213 1011.72L224.6 1000.12M213 1014.02L224.6 1002.42M213 1016.32L224.6 1004.72M213 1018.62L224.6 1007.02M213 1020.92L224.6 1009.32M213 1023.22L224.6 1011.62M213 1025.52L224.6 1013.92M213 1027.82L224.6 1016.22M213 1030.12L224.6 1018.52M213 1032.42L224.6 1020.82M213 1034.72L224.6 1023.12M213 1037.02L224.6 1025.42M213 1039.32L224.6 1027.72M213 1041.62L224.6 1030.02M213 1043.92L224.6 1032.32M213 1046.22L224.6 1034.62M213 1048.52L224.6 1036.92M213 1050.82L224.6 1039.22M213 1053.12L224.6 1041.52M213 1055.42L224.6 1043.82M213 1057.72L224.6 1046.12M213 1060.02L224.6 1048.42M213 1062.32L224.6 1050.72M213 1064.62L224.6 1053.02M213 1066.92L224.6 1055.32M213 1069.22L224.6 1057.62M213 1071.52L224.6 1059.92M213 1073.82L224.6 1062.22M213 1076.12L224.6 1064.52M213 1078.42L224.6 1066.82M213.52 1080.2L224.6 1069.12M215.82 1080.2L224.6 1071.42M218.12 1080.2L224.6 1073.72M220.42 1080.2L224.6 1076.02M222.72 1080.2L224.6 1078.32" stroke="#2a2a2a" stroke-width="0.75" fill="none"/>
<path d="M237.7 1070.73L238.7 1071.73M231.8 1070.73L238.7 1077.63M228.1 1072.93L235.37 1080.2M228.1 1078.83L229.47 1080.2" stroke="#000" stroke-width="1.5" fill="none" stroke-linecap="round"/>
<rect x="241.5" y="1075.5" width="11" height="4.7" fill="url(#dots)"/>
<rect x="241.5" y="1075.5" width="11" height="4.7" fill="none" stroke="#000" stroke-width="1"/>
<rect x="278.2" y="1001.25" width="11.6" height="78.95" fill="#000"/>
<path d="M292.3 1028.02L294.6 1025.72M292.3 1030.32L296.9 1025.72M292.3 1032.62L299.2 1025.72M292.3 1034.92L301.5 1025.72M292.3 1037.22L303.8 1025.72M292.3 1039.52L303.9 1027.92M292.3 1041.82L303.9 1030.22M292.3 1044.12L303.9 1032.52M292.3 1046.42L303.9 1034.82M292.3 1048.72L303.9 1037.12M292.3 1051.02L303.9 1039.42M292.3 1053.32L303.9 1041.72M292.3 1055.62L303.9 1044.02M292.3 1057.92L303.9 1046.32M292.3 1060.22L303.9 1048.62M292.3 1062.52L303.9 1050.92M292.3 1064.82L303.9 1053.22M292.3 1067.12L303.9 1055.52M292.3 1069.42L303.9 1057.82M292.3 1071.72L303.9 1060.12M292.3 1074.02L303.9 1062.42M292.3 1076.32L303.9 1064.72M292.3 1078.62L303.9 1067.02M293.02 1080.2L303.9 1069.32M295.32 1080.2L303.9 1071.62M297.62 1080.2L303.9 1073.92M299.92 1080.2L303.9 1076.22M302.22 1080.2L303.9 1078.52" stroke="#2a2a2a" stroke-width="0.75" fill="none"/>
<path d="M317 1070.73L318 1071.73M311.1 1070.73L318 1077.63M307.4 1072.93L314.67 1080.2M307.4 1078.83L308.77 1080.2" stroke="#000" stroke-width="1.5" fill="none" stroke-linecap="round"/>
<rect x="321.5" y="1075.5" width="10" height="4.7" fill="url(#dots)"/>
<rect x="321.5" y="1075.5" width="10" height="4.7" fill="none" stroke="#000" stroke-width="1"/>
<polygon points="42.12,945.1 43.23,947.33 45.69,947.69 43.91,949.43 44.33,951.88 42.12,950.73 39.92,951.88 40.34,949.43 38.56,947.69 41.02,947.33" fill="#000"/>
<polygon points="49.18,945.1 50.28,947.33 52.74,947.69 50.96,949.43 51.38,951.88 49.18,950.73 46.97,951.88 47.39,949.43 45.61,947.69 48.07,947.33" fill="#000"/>
<polygon points="54.3,982.7 59.95,982.7 57.12,977.5" fill="#000"/>
<polygon points="60.15,982.7 65.8,982.7 62.98,977.5" fill="#000"/>
<polygon points="121.43,945.1 122.53,947.33 124.99,947.69 123.21,949.43 123.63,951.88 121.43,950.73 119.22,951.88 119.64,949.43 117.86,947.69 120.32,947.33" fill="#000"/>
<polygon points="128.47,945.1 129.58,947.33 132.04,947.69 130.26,949.43 130.68,951.88 128.47,950.73 126.27,951.88 126.69,949.43 124.91,947.69 127.37,947.33" fill="#000"/>
<polygon points="133.3,990.6 138.95,990.6 136.12,985.4" fill="#000"/>
<polygon points="139.15,990.6 144.8,990.6 141.98,985.4" fill="#000"/>
<polygon points="200.12,921.6 201.23,923.83 203.69,924.19 201.91,925.93 202.33,928.38 200.12,927.23 197.92,928.38 198.34,925.93 196.56,924.19 199.02,923.83" fill="#000"/>
<polygon points="207.17,921.6 208.28,923.83 210.74,924.19 208.96,925.93 209.38,928.38 207.17,927.23 204.97,928.38 205.39,925.93 203.61,924.19 206.07,923.83" fill="#000"/>
<polygon points="212.7,962.8 218.35,962.8 215.53,957.6" fill="#000"/>
<polygon points="218.55,962.8 224.2,962.8 221.38,957.6" fill="#000"/>
<polygon points="279.82,991.4 280.93,993.63 283.39,993.99 281.61,995.73 282.03,998.18 279.82,997.02 277.62,998.18 278.04,995.73 276.26,993.99 278.72,993.63" fill="#000"/>
<polygon points="286.88,991.4 287.98,993.63 290.44,993.99 288.66,995.73 289.08,998.18 286.88,997.02 284.67,998.18 285.09,995.73 283.31,993.99 285.77,993.63" fill="#000"/>
<polygon points="291.7,1022.3 297.35,1022.3 294.53,1017.1" fill="#000"/>
<polygon points="297.55,1022.3 303.2,1022.3 300.38,1017.1" fill="#000"/>
<line x1="27.8" y1="922.2" x2="27.8" y2="1080.2" stroke="#000" stroke-width="1"/>
<line x1="27.8" y1="1080.2" x2="345.5" y2="1080.2" stroke="#000" stroke-width="1"/>
<line x1="27.8" y1="1080.2" x2="30.6" y2="1080.2" stroke="#000" stroke-width="1"/>
<text x="19.6" y="1083.6" font-size="10" text-anchor="end" fill="#000" font-weight="bold" font-family="Liberation Serif" stroke="#000" stroke-width="0.22">0</text>
<line x1="27.8" y1="1064.41" x2="30.6" y2="1064.41" stroke="#000" stroke-width="1"/>
<text x="19.6" y="1067.81" font-size="10" text-anchor="end" fill="#000" font-weight="bold" font-family="Liberation Serif" stroke="#000" stroke-width="0.22">0.2</text>
<line x1="27.8" y1="1048.62" x2="30.6" y2="1048.62" stroke="#000" stroke-width="1"/>
<text x="19.6" y="1052.02" font-size="10" text-anchor="end" fill="#000" font-weight="bold" font-family="Liberation Serif" stroke="#000" stroke-width="0.22">0.4</text>
<line x1="27.8" y1="1032.83" x2="30.6" y2="1032.83" stroke="#000" stroke-width="1"/>
<text x="19.6" y="1036.23" font-size="10" text-anchor="end" fill="#000" font-weight="bold" font-family="Liberation Serif" stroke="#000" stroke-width="0.22">0.6</text>
<line x1="27.8" y1="1017.04" x2="30.6" y2="1017.04" stroke="#000" stroke-width="1"/>
<text x="19.6" y="1020.44" font-size="10" text-anchor="end" fill="#000" font-weight="bold" font-family="Liberation Serif" stroke="#000" stroke-width="0.22">0.8</text>
<line x1="27.8" y1="1001.25" x2="30.6" y2="1001.25" stroke="#000" stroke-width="1"/>
<text x="19.6" y="1004.65" font-size="10" text-anchor="end" fill="#000" font-weight="bold" font-family="Liberation Serif" stroke="#000" stroke-width="0.22">1</text>
<line x1="27.8" y1="985.46" x2="30.6" y2="985.46" stroke="#000" stroke-width="1"/>
<text x="19.6" y="988.86" font-size="10" text-anchor="end" fill="#000" font-weight="bold" font-family="Liberation Serif" stroke="#000" stroke-width="0.22">1.2</text>
<line x1="27.8" y1="969.67" x2="30.6" y2="969.67" stroke="#000" stroke-width="1"/>
<text x="19.6" y="973.07" font-size="10" text-anchor="end" fill="#000" font-weight="bold" font-family="Liberation Serif" stroke="#000" stroke-width="0.22">1.4</text>
<line x1="27.8" y1="953.88" x2="30.6" y2="953.88" stroke="#000" stroke-width="1"/>
<text x="19.6" y="957.28" font-size="10" text-anchor="end" fill="#000" font-weight="bold" font-family="Liberation Serif" stroke="#000" stroke-width="0.22">1.6</text>
<line x1="27.8" y1="938.09" x2="30.6" y2="938.09" stroke="#000" stroke-width="1"/>
<text x="19.6" y="941.49" font-size="10" text-anchor="end" fill="#000" font-weight="bold" font-family="Liberation Serif" stroke="#000" stroke-width="0.22">1.8</text>
<line x1="27.8" y1="922.3" x2="30.6" y2="922.3" stroke="#000" stroke-width="1"/>
<text x="19.6" y="925.7" font-size="10" text-anchor="end" fill="#000" font-weight="bold" font-family="Liberation Serif" stroke="#000" stroke-width="0.22">2</text>
<line x1="107.1" y1="1080.2" x2="107.1" y2="1077.7" stroke="#000" stroke-width="1"/>
<line x1="186.4" y1="1080.2" x2="186.4" y2="1077.7" stroke="#000" stroke-width="1"/>
<line x1="265.7" y1="1080.2" x2="265.7" y2="1077.7" stroke="#000" stroke-width="1"/>
<line x1="345" y1="1080.2" x2="345" y2="1077.7" stroke="#000" stroke-width="1"/>
<text x="67.45" y="1095.1" font-size="10.4" text-anchor="middle" fill="#000" font-weight="bold" font-family="Liberation Serif" stroke="#000" stroke-width="0.22">Number of</text>
<text x="67.45" y="1106.9" font-size="10.4" text-anchor="middle" fill="#000" font-weight="bold" font-family="Liberation Serif" stroke="#000" stroke-width="0.22">mating rats</text>
<text x="67.45" y="1118.7" font-size="10.4" text-anchor="middle" fill="#000" font-weight="bold" font-family="Liberation Serif" stroke="#000" stroke-width="0.22">(*10)</text>
<text x="146.75" y="1095.1" font-size="10.4" text-anchor="middle" fill="#000" font-weight="bold" font-family="Liberation Serif" stroke="#000" stroke-width="0.22">Number of</text>
<text x="146.75" y="1106.9" font-size="10.4" text-anchor="middle" fill="#000" font-weight="bold" font-family="Liberation Serif" stroke="#000" stroke-width="0.22">erectile rats</text>
<text x="146.75" y="1118.7" font-size="10.4" text-anchor="middle" fill="#000" font-weight="bold" font-family="Liberation Serif" stroke="#000" stroke-width="0.22">(*10)</text>
<text x="226.05" y="1095.1" font-size="10.4" text-anchor="middle" fill="#000" font-weight="bold" font-family="Liberation Serif" stroke="#000" stroke-width="0.22">Erection</text>
<text x="226.05" y="1106.9" font-size="10.4" text-anchor="middle" fill="#000" font-weight="bold" font-family="Liberation Serif" stroke="#000" stroke-width="0.22">frequency</text>
<text x="305.35" y="1095.1" font-size="10.4" text-anchor="middle" fill="#000" font-weight="bold" font-family="Liberation Serif" stroke="#000" stroke-width="0.22">Erection rate</text>
<text x="305.35" y="1106.9" font-size="10.4" text-anchor="middle" fill="#000" font-weight="bold" font-family="Liberation Serif" stroke="#000" stroke-width="0.22">(100%)</text>
<rect x="270" y="928.4" width="5.5" height="5" fill="#000"/>
<text x="278.2" y="933.6" font-size="10.2" text-anchor="start" fill="#000" font-weight="bold" font-family="Liberation Serif" stroke="#000" stroke-width="0.22">Control</text>
<path d="M270 946.5L272.3 944.2M270 948.8L274.6 944.2M271.9 949.2L275.5 945.6M274.2 949.2L275.5 947.9" stroke="#2a2a2a" stroke-width="0.75" fill="none"/>
<text x="278.2" y="949.4" font-size="10.2" text-anchor="start" fill="#000" font-weight="bold" font-family="Liberation Serif" stroke="#000" stroke-width="0.22">ICAII+MET</text>
<path d="M273.5 960.2L275 961.7M270.5 963.1L272.6 965.2" stroke="#000" stroke-width="1.5" fill="none" stroke-linecap="round"/>
<text x="278.2" y="965.4" font-size="10.2" text-anchor="start" fill="#000" font-weight="bold" font-family="Liberation Serif" stroke="#000" stroke-width="0.22">MET</text>
<rect x="270.45" y="976.15" width="4.7" height="4.4" fill="url(#dots)" stroke="#000" stroke-width="0.9"/>
<text x="278.2" y="980.9" font-size="10.2" text-anchor="start" fill="#000" font-weight="bold" font-family="Liberation Serif" stroke="#000" stroke-width="0.22">T2DMED</text></svg>
</body></html>
